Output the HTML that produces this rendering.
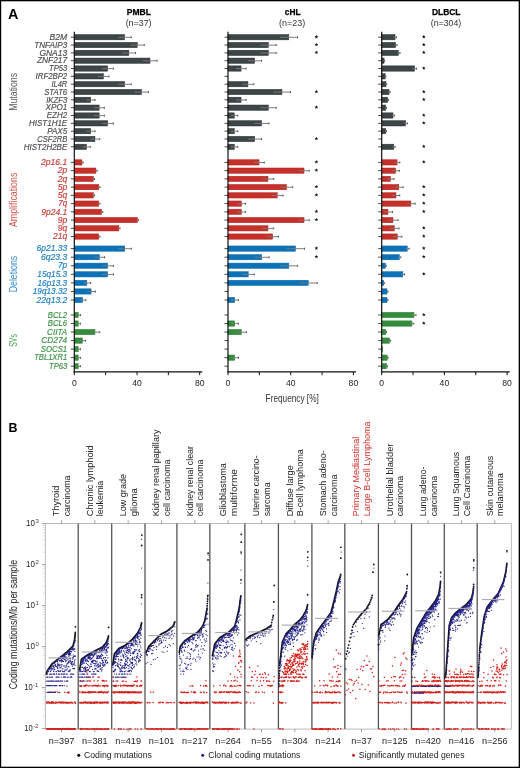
<!DOCTYPE html><html><head><meta charset="utf-8"><style>html,body{margin:0;padding:0;background:#fff;}svg{display:block;will-change:transform}text{font-family:"Liberation Sans", sans-serif;}</style></head><body>
<svg width="520" height="768" viewBox="0 0 520 768">
<rect x="0" y="0" width="520" height="768" fill="#fff"/>
<text x="8" y="18.8" font-size="14.2" fill="#000" font-weight="bold" textLength="10.4" lengthAdjust="spacingAndGlyphs">A</text>
<text x="67.2" y="39.9" font-size="8.3" fill="#4e5052" font-style="italic" text-anchor="end" textLength="17.6" lengthAdjust="spacingAndGlyphs" stroke="#4e5052" stroke-width="0.18">B2M</text>
<text x="67.2" y="47.73" font-size="8.3" fill="#4e5052" font-style="italic" text-anchor="end" textLength="33" lengthAdjust="spacingAndGlyphs" stroke="#4e5052" stroke-width="0.18">TNFAIP3</text>
<text x="67.2" y="55.56" font-size="8.3" fill="#4e5052" font-style="italic" text-anchor="end" textLength="27.8" lengthAdjust="spacingAndGlyphs" stroke="#4e5052" stroke-width="0.18">GNA13</text>
<text x="67.2" y="63.39" font-size="8.3" fill="#4e5052" font-style="italic" text-anchor="end" textLength="30.3" lengthAdjust="spacingAndGlyphs" stroke="#4e5052" stroke-width="0.18">ZNF217</text>
<text x="67.2" y="71.22" font-size="8.3" fill="#4e5052" font-style="italic" text-anchor="end" textLength="18.2" lengthAdjust="spacingAndGlyphs" stroke="#4e5052" stroke-width="0.18">TP53</text>
<text x="67.2" y="79.05" font-size="8.3" fill="#4e5052" font-style="italic" text-anchor="end" textLength="31.6" lengthAdjust="spacingAndGlyphs" stroke="#4e5052" stroke-width="0.18">IRF2BP2</text>
<text x="67.2" y="86.88" font-size="8.3" fill="#4e5052" font-style="italic" text-anchor="end" textLength="15.7" lengthAdjust="spacingAndGlyphs" stroke="#4e5052" stroke-width="0.18">IL4R</text>
<text x="67.2" y="94.71" font-size="8.3" fill="#4e5052" font-style="italic" text-anchor="end" textLength="23" lengthAdjust="spacingAndGlyphs" stroke="#4e5052" stroke-width="0.18">STAT6</text>
<text x="67.2" y="102.54" font-size="8.3" fill="#4e5052" font-style="italic" text-anchor="end" textLength="21" lengthAdjust="spacingAndGlyphs" stroke="#4e5052" stroke-width="0.18">IKZF3</text>
<text x="67.2" y="110.37" font-size="8.3" fill="#4e5052" font-style="italic" text-anchor="end" textLength="21.6" lengthAdjust="spacingAndGlyphs" stroke="#4e5052" stroke-width="0.18">XPO1</text>
<text x="67.2" y="118.2" font-size="8.3" fill="#4e5052" font-style="italic" text-anchor="end" textLength="20.5" lengthAdjust="spacingAndGlyphs" stroke="#4e5052" stroke-width="0.18">EZH2</text>
<text x="67.2" y="126.03" font-size="8.3" fill="#4e5052" font-style="italic" text-anchor="end" textLength="38.2" lengthAdjust="spacingAndGlyphs" stroke="#4e5052" stroke-width="0.18">HIST1H1E</text>
<text x="67.2" y="133.86" font-size="8.3" fill="#4e5052" font-style="italic" text-anchor="end" textLength="20" lengthAdjust="spacingAndGlyphs" stroke="#4e5052" stroke-width="0.18">PAX5</text>
<text x="67.2" y="141.69" font-size="8.3" fill="#4e5052" font-style="italic" text-anchor="end" textLength="29.9" lengthAdjust="spacingAndGlyphs" stroke="#4e5052" stroke-width="0.18">CSF2RB</text>
<text x="67.2" y="149.52" font-size="8.3" fill="#4e5052" font-style="italic" text-anchor="end" textLength="43.4" lengthAdjust="spacingAndGlyphs" stroke="#4e5052" stroke-width="0.18">HIST2H2BE</text>
<text x="67.2" y="165.1" font-size="8.3" fill="#c8403a" font-style="italic" text-anchor="end" textLength="26.2" lengthAdjust="spacingAndGlyphs" stroke="#c8403a" stroke-width="0.18">2p16.1</text>
<text x="67.2" y="173.34" font-size="8.3" fill="#c8403a" font-style="italic" text-anchor="end" textLength="9.5" lengthAdjust="spacingAndGlyphs" stroke="#c8403a" stroke-width="0.18">2p</text>
<text x="67.2" y="181.58" font-size="8.3" fill="#c8403a" font-style="italic" text-anchor="end" textLength="9.5" lengthAdjust="spacingAndGlyphs" stroke="#c8403a" stroke-width="0.18">2q</text>
<text x="67.2" y="189.82" font-size="8.3" fill="#c8403a" font-style="italic" text-anchor="end" textLength="9.5" lengthAdjust="spacingAndGlyphs" stroke="#c8403a" stroke-width="0.18">5p</text>
<text x="67.2" y="198.06" font-size="8.3" fill="#c8403a" font-style="italic" text-anchor="end" textLength="9.5" lengthAdjust="spacingAndGlyphs" stroke="#c8403a" stroke-width="0.18">5q</text>
<text x="67.2" y="206.3" font-size="8.3" fill="#c8403a" font-style="italic" text-anchor="end" textLength="8.9" lengthAdjust="spacingAndGlyphs" stroke="#c8403a" stroke-width="0.18">7q</text>
<text x="67.2" y="214.54" font-size="8.3" fill="#c8403a" font-style="italic" text-anchor="end" textLength="25.9" lengthAdjust="spacingAndGlyphs" stroke="#c8403a" stroke-width="0.18">9p24.1</text>
<text x="67.2" y="222.78" font-size="8.3" fill="#c8403a" font-style="italic" text-anchor="end" textLength="9.5" lengthAdjust="spacingAndGlyphs" stroke="#c8403a" stroke-width="0.18">9p</text>
<text x="67.2" y="231.02" font-size="8.3" fill="#c8403a" font-style="italic" text-anchor="end" textLength="9.5" lengthAdjust="spacingAndGlyphs" stroke="#c8403a" stroke-width="0.18">9q</text>
<text x="67.2" y="239.26" font-size="8.3" fill="#c8403a" font-style="italic" text-anchor="end" textLength="14.3" lengthAdjust="spacingAndGlyphs" stroke="#c8403a" stroke-width="0.18">21q</text>
<text x="67.2" y="251.3" font-size="8.3" fill="#1f7fc4" font-style="italic" text-anchor="end" textLength="30.7" lengthAdjust="spacingAndGlyphs" stroke="#1f7fc4" stroke-width="0.18">6p21.33</text>
<text x="67.2" y="259.87" font-size="8.3" fill="#1f7fc4" font-style="italic" text-anchor="end" textLength="26.2" lengthAdjust="spacingAndGlyphs" stroke="#1f7fc4" stroke-width="0.18">6q23.3</text>
<text x="67.2" y="268.44" font-size="8.3" fill="#1f7fc4" font-style="italic" text-anchor="end" textLength="9.2" lengthAdjust="spacingAndGlyphs" stroke="#1f7fc4" stroke-width="0.18">7p</text>
<text x="67.2" y="277.01" font-size="8.3" fill="#1f7fc4" font-style="italic" text-anchor="end" textLength="29.9" lengthAdjust="spacingAndGlyphs" stroke="#1f7fc4" stroke-width="0.18">15q15.3</text>
<text x="67.2" y="285.58" font-size="8.3" fill="#1f7fc4" font-style="italic" text-anchor="end" textLength="29.7" lengthAdjust="spacingAndGlyphs" stroke="#1f7fc4" stroke-width="0.18">16p13.3</text>
<text x="67.2" y="294.15" font-size="8.3" fill="#1f7fc4" font-style="italic" text-anchor="end" textLength="34.5" lengthAdjust="spacingAndGlyphs" stroke="#1f7fc4" stroke-width="0.18">19q13.32</text>
<text x="67.2" y="302.72" font-size="8.3" fill="#1f7fc4" font-style="italic" text-anchor="end" textLength="30.7" lengthAdjust="spacingAndGlyphs" stroke="#1f7fc4" stroke-width="0.18">22q13.2</text>
<text x="67.2" y="317.7" font-size="8.3" fill="#3f9546" font-style="italic" text-anchor="end" textLength="19.5" lengthAdjust="spacingAndGlyphs" stroke="#3f9546" stroke-width="0.18">BCL2</text>
<text x="67.2" y="326.23" font-size="8.3" fill="#3f9546" font-style="italic" text-anchor="end" textLength="19.5" lengthAdjust="spacingAndGlyphs" stroke="#3f9546" stroke-width="0.18">BCL6</text>
<text x="67.2" y="334.76" font-size="8.3" fill="#3f9546" font-style="italic" text-anchor="end" textLength="20.1" lengthAdjust="spacingAndGlyphs" stroke="#3f9546" stroke-width="0.18">CIITA</text>
<text x="67.2" y="343.29" font-size="8.3" fill="#3f9546" font-style="italic" text-anchor="end" textLength="25.9" lengthAdjust="spacingAndGlyphs" stroke="#3f9546" stroke-width="0.18">CD274</text>
<text x="67.2" y="351.82" font-size="8.3" fill="#3f9546" font-style="italic" text-anchor="end" textLength="26.4" lengthAdjust="spacingAndGlyphs" stroke="#3f9546" stroke-width="0.18">SOCS1</text>
<text x="67.2" y="360.35" font-size="8.3" fill="#3f9546" font-style="italic" text-anchor="end" textLength="33" lengthAdjust="spacingAndGlyphs" stroke="#3f9546" stroke-width="0.18">TBL1XR1</text>
<text x="67.2" y="368.88" font-size="8.3" fill="#3f9546" font-style="italic" text-anchor="end" textLength="18.2" lengthAdjust="spacingAndGlyphs" stroke="#3f9546" stroke-width="0.18">TP63</text>
<text x="0" y="0" transform="translate(17,110.8) rotate(-90)" font-size="10.9" fill="#5a5b5d" textLength="37.9" lengthAdjust="spacingAndGlyphs">Mutations</text>
<text x="0" y="0" transform="translate(17.3,227) rotate(-90)" font-size="10.9" fill="#d0504a" textLength="54.3" lengthAdjust="spacingAndGlyphs">Amplifications</text>
<text x="0" y="0" transform="translate(17.3,292.3) rotate(-90)" font-size="10.9" fill="#3388cc" textLength="36.5" lengthAdjust="spacingAndGlyphs">Deletions</text>
<text x="0" y="0" transform="translate(17.3,346.7) rotate(-90)" font-size="10.9" fill="#45a04c" textLength="12.5" lengthAdjust="spacingAndGlyphs">SVs</text>
<rect x="74.3" y="34.55" width="50.29" height="5.3" fill="#3d4547" stroke="#2b3133" stroke-width="0.5"/>
<line x1="117.97" y1="37.3" x2="124.59" y2="37.3" stroke="#7a7d7e" stroke-width="0.9"/>
<line x1="124.59" y1="37.3" x2="131.21" y2="37.3" stroke="#6d6e71" stroke-width="0.9"/>
<line x1="131.21" y1="36.3" x2="131.21" y2="38.3" stroke="#555" stroke-width="1"/>
<rect x="74.3" y="42.38" width="63" height="5.3" fill="#3d4547" stroke="#2b3133" stroke-width="0.5"/>
<line x1="130.35" y1="45.13" x2="137.3" y2="45.13" stroke="#7a7d7e" stroke-width="0.9"/>
<line x1="137.3" y1="45.13" x2="144.25" y2="45.13" stroke="#6d6e71" stroke-width="0.9"/>
<line x1="144.25" y1="44.13" x2="144.25" y2="46.13" stroke="#555" stroke-width="1"/>
<rect x="74.3" y="50.21" width="54.53" height="5.3" fill="#3d4547" stroke="#2b3133" stroke-width="0.5"/>
<line x1="122.08" y1="52.96" x2="128.83" y2="52.96" stroke="#7a7d7e" stroke-width="0.9"/>
<line x1="128.83" y1="52.96" x2="135.58" y2="52.96" stroke="#6d6e71" stroke-width="0.9"/>
<line x1="135.58" y1="51.96" x2="135.58" y2="53.96" stroke="#555" stroke-width="1"/>
<rect x="74.3" y="58.04" width="75.71" height="5.3" fill="#3d4547" stroke="#2b3133" stroke-width="0.5"/>
<line x1="142.93" y1="60.79" x2="150.01" y2="60.79" stroke="#7a7d7e" stroke-width="0.9"/>
<line x1="150.01" y1="60.79" x2="157.09" y2="60.79" stroke="#6d6e71" stroke-width="0.9"/>
<line x1="157.09" y1="59.79" x2="157.09" y2="61.79" stroke="#555" stroke-width="1"/>
<rect x="74.3" y="65.87" width="33.34" height="5.3" fill="#3d4547" stroke="#2b3133" stroke-width="0.5"/>
<line x1="101.84" y1="68.62" x2="107.64" y2="68.62" stroke="#7a7d7e" stroke-width="0.9"/>
<line x1="107.64" y1="68.62" x2="113.44" y2="68.62" stroke="#6d6e71" stroke-width="0.9"/>
<line x1="113.44" y1="67.62" x2="113.44" y2="69.62" stroke="#555" stroke-width="1"/>
<rect x="74.3" y="73.7" width="29.11" height="5.3" fill="#3d4547" stroke="#2b3133" stroke-width="0.5"/>
<line x1="97.9" y1="76.45" x2="103.41" y2="76.45" stroke="#7a7d7e" stroke-width="0.9"/>
<line x1="103.41" y1="76.45" x2="108.92" y2="76.45" stroke="#6d6e71" stroke-width="0.9"/>
<line x1="108.92" y1="75.45" x2="108.92" y2="77.45" stroke="#555" stroke-width="1"/>
<rect x="74.3" y="81.53" width="50.29" height="5.3" fill="#3d4547" stroke="#2b3133" stroke-width="0.5"/>
<line x1="117.97" y1="84.28" x2="124.59" y2="84.28" stroke="#7a7d7e" stroke-width="0.9"/>
<line x1="124.59" y1="84.28" x2="131.21" y2="84.28" stroke="#6d6e71" stroke-width="0.9"/>
<line x1="131.21" y1="83.28" x2="131.21" y2="85.28" stroke="#555" stroke-width="1"/>
<rect x="74.3" y="89.36" width="67.24" height="5.3" fill="#3d4547" stroke="#2b3133" stroke-width="0.5"/>
<line x1="134.52" y1="92.11" x2="141.54" y2="92.11" stroke="#7a7d7e" stroke-width="0.9"/>
<line x1="141.54" y1="92.11" x2="148.55" y2="92.11" stroke="#6d6e71" stroke-width="0.9"/>
<line x1="148.55" y1="91.11" x2="148.55" y2="93.11" stroke="#555" stroke-width="1"/>
<rect x="74.3" y="97.19" width="16.4" height="5.3" fill="#3d4547" stroke="#2b3133" stroke-width="0.5"/>
<line x1="86.36" y1="99.94" x2="90.7" y2="99.94" stroke="#7a7d7e" stroke-width="0.9"/>
<line x1="90.7" y1="99.94" x2="95.04" y2="99.94" stroke="#6d6e71" stroke-width="0.9"/>
<line x1="95.04" y1="98.94" x2="95.04" y2="100.94" stroke="#555" stroke-width="1"/>
<rect x="74.3" y="105.02" width="24.87" height="5.3" fill="#3d4547" stroke="#2b3133" stroke-width="0.5"/>
<line x1="93.99" y1="107.77" x2="99.17" y2="107.77" stroke="#7a7d7e" stroke-width="0.9"/>
<line x1="99.17" y1="107.77" x2="104.35" y2="107.77" stroke="#6d6e71" stroke-width="0.9"/>
<line x1="104.35" y1="106.77" x2="104.35" y2="108.77" stroke="#555" stroke-width="1"/>
<rect x="74.3" y="112.85" width="24.87" height="5.3" fill="#3d4547" stroke="#2b3133" stroke-width="0.5"/>
<line x1="93.99" y1="115.6" x2="99.17" y2="115.6" stroke="#7a7d7e" stroke-width="0.9"/>
<line x1="99.17" y1="115.6" x2="104.35" y2="115.6" stroke="#6d6e71" stroke-width="0.9"/>
<line x1="104.35" y1="114.6" x2="104.35" y2="116.6" stroke="#555" stroke-width="1"/>
<rect x="74.3" y="120.68" width="33.34" height="5.3" fill="#3d4547" stroke="#2b3133" stroke-width="0.5"/>
<line x1="101.84" y1="123.43" x2="107.64" y2="123.43" stroke="#7a7d7e" stroke-width="0.9"/>
<line x1="107.64" y1="123.43" x2="113.44" y2="123.43" stroke="#6d6e71" stroke-width="0.9"/>
<line x1="113.44" y1="122.43" x2="113.44" y2="124.43" stroke="#555" stroke-width="1"/>
<rect x="74.3" y="128.51" width="16.4" height="5.3" fill="#3d4547" stroke="#2b3133" stroke-width="0.5"/>
<line x1="86.36" y1="131.26" x2="90.7" y2="131.26" stroke="#7a7d7e" stroke-width="0.9"/>
<line x1="90.7" y1="131.26" x2="95.04" y2="131.26" stroke="#6d6e71" stroke-width="0.9"/>
<line x1="95.04" y1="130.26" x2="95.04" y2="132.26" stroke="#555" stroke-width="1"/>
<rect x="74.3" y="136.34" width="20.63" height="5.3" fill="#3d4547" stroke="#2b3133" stroke-width="0.5"/>
<line x1="90.14" y1="139.09" x2="94.93" y2="139.09" stroke="#7a7d7e" stroke-width="0.9"/>
<line x1="94.93" y1="139.09" x2="99.73" y2="139.09" stroke="#6d6e71" stroke-width="0.9"/>
<line x1="99.73" y1="138.09" x2="99.73" y2="140.09" stroke="#555" stroke-width="1"/>
<rect x="74.3" y="144.17" width="12.16" height="5.3" fill="#3d4547" stroke="#2b3133" stroke-width="0.5"/>
<line x1="82.67" y1="146.92" x2="86.46" y2="146.92" stroke="#7a7d7e" stroke-width="0.9"/>
<line x1="86.46" y1="146.92" x2="90.25" y2="146.92" stroke="#6d6e71" stroke-width="0.9"/>
<line x1="90.25" y1="145.92" x2="90.25" y2="147.92" stroke="#555" stroke-width="1"/>
<rect x="74.3" y="159.75" width="7.68" height="5.3" fill="#c4302a" stroke="#bf1e16" stroke-width="0.5"/>
<line x1="80.78" y1="162.5" x2="81.98" y2="162.5" stroke="#7a7d7e" stroke-width="0.9"/>
<line x1="81.98" y1="162.5" x2="83.18" y2="162.5" stroke="#6d6e71" stroke-width="0.9"/>
<line x1="83.18" y1="161.5" x2="83.18" y2="163.5" stroke="#555" stroke-width="1"/>
<rect x="74.3" y="167.99" width="21.63" height="5.3" fill="#c4302a" stroke="#bf1e16" stroke-width="0.5"/>
<line x1="94.73" y1="170.74" x2="95.93" y2="170.74" stroke="#7a7d7e" stroke-width="0.9"/>
<line x1="95.93" y1="170.74" x2="97.13" y2="170.74" stroke="#6d6e71" stroke-width="0.9"/>
<line x1="97.13" y1="169.74" x2="97.13" y2="171.74" stroke="#555" stroke-width="1"/>
<rect x="74.3" y="176.23" width="18.97" height="5.3" fill="#c4302a" stroke="#bf1e16" stroke-width="0.5"/>
<line x1="92.07" y1="178.98" x2="93.27" y2="178.98" stroke="#7a7d7e" stroke-width="0.9"/>
<line x1="93.27" y1="178.98" x2="94.47" y2="178.98" stroke="#6d6e71" stroke-width="0.9"/>
<line x1="94.47" y1="177.98" x2="94.47" y2="179.98" stroke="#555" stroke-width="1"/>
<rect x="74.3" y="184.47" width="24.45" height="5.3" fill="#c4302a" stroke="#bf1e16" stroke-width="0.5"/>
<line x1="97.55" y1="187.22" x2="98.75" y2="187.22" stroke="#7a7d7e" stroke-width="0.9"/>
<line x1="98.75" y1="187.22" x2="99.95" y2="187.22" stroke="#6d6e71" stroke-width="0.9"/>
<line x1="99.95" y1="186.22" x2="99.95" y2="188.22" stroke="#555" stroke-width="1"/>
<rect x="74.3" y="192.71" width="18.97" height="5.3" fill="#c4302a" stroke="#bf1e16" stroke-width="0.5"/>
<line x1="92.07" y1="195.46" x2="93.27" y2="195.46" stroke="#7a7d7e" stroke-width="0.9"/>
<line x1="93.27" y1="195.46" x2="94.47" y2="195.46" stroke="#6d6e71" stroke-width="0.9"/>
<line x1="94.47" y1="194.46" x2="94.47" y2="196.46" stroke="#555" stroke-width="1"/>
<rect x="74.3" y="200.95" width="24.45" height="5.3" fill="#c4302a" stroke="#bf1e16" stroke-width="0.5"/>
<line x1="97.55" y1="203.7" x2="98.75" y2="203.7" stroke="#7a7d7e" stroke-width="0.9"/>
<line x1="98.75" y1="203.7" x2="99.95" y2="203.7" stroke="#6d6e71" stroke-width="0.9"/>
<line x1="99.95" y1="202.7" x2="99.95" y2="204.7" stroke="#555" stroke-width="1"/>
<rect x="74.3" y="209.19" width="27.27" height="5.3" fill="#c4302a" stroke="#bf1e16" stroke-width="0.5"/>
<line x1="100.37" y1="211.94" x2="101.57" y2="211.94" stroke="#7a7d7e" stroke-width="0.9"/>
<line x1="101.57" y1="211.94" x2="102.77" y2="211.94" stroke="#6d6e71" stroke-width="0.9"/>
<line x1="102.77" y1="210.94" x2="102.77" y2="212.94" stroke="#555" stroke-width="1"/>
<rect x="74.3" y="217.43" width="63.17" height="5.3" fill="#c4302a" stroke="#bf1e16" stroke-width="0.5"/>
<line x1="136.27" y1="220.18" x2="137.47" y2="220.18" stroke="#7a7d7e" stroke-width="0.9"/>
<line x1="137.47" y1="220.18" x2="138.67" y2="220.18" stroke="#6d6e71" stroke-width="0.9"/>
<line x1="138.67" y1="219.18" x2="138.67" y2="221.18" stroke="#555" stroke-width="1"/>
<rect x="74.3" y="225.67" width="44.52" height="5.3" fill="#c4302a" stroke="#bf1e16" stroke-width="0.5"/>
<line x1="117.62" y1="228.42" x2="118.82" y2="228.42" stroke="#7a7d7e" stroke-width="0.9"/>
<line x1="118.82" y1="228.42" x2="120.02" y2="228.42" stroke="#6d6e71" stroke-width="0.9"/>
<line x1="120.02" y1="227.42" x2="120.02" y2="229.42" stroke="#555" stroke-width="1"/>
<rect x="74.3" y="233.91" width="24.45" height="5.3" fill="#c4302a" stroke="#bf1e16" stroke-width="0.5"/>
<line x1="97.55" y1="236.66" x2="98.75" y2="236.66" stroke="#7a7d7e" stroke-width="0.9"/>
<line x1="98.75" y1="236.66" x2="99.95" y2="236.66" stroke="#6d6e71" stroke-width="0.9"/>
<line x1="99.95" y1="235.66" x2="99.95" y2="237.66" stroke="#555" stroke-width="1"/>
<rect x="74.3" y="245.95" width="50.47" height="5.3" fill="#0b72b8" stroke="#0a6ab0" stroke-width="0.5"/>
<line x1="118.15" y1="248.7" x2="124.77" y2="248.7" stroke="#7a7d7e" stroke-width="0.9"/>
<line x1="124.77" y1="248.7" x2="131.4" y2="248.7" stroke="#6d6e71" stroke-width="0.9"/>
<line x1="131.4" y1="247.7" x2="131.4" y2="249.7" stroke="#555" stroke-width="1"/>
<rect x="74.3" y="254.52" width="25.08" height="5.3" fill="#0b72b8" stroke="#0a6ab0" stroke-width="0.5"/>
<line x1="94.18" y1="257.27" x2="99.38" y2="257.27" stroke="#7a7d7e" stroke-width="0.9"/>
<line x1="99.38" y1="257.27" x2="104.58" y2="257.27" stroke="#6d6e71" stroke-width="0.9"/>
<line x1="104.58" y1="256.27" x2="104.58" y2="258.27" stroke="#555" stroke-width="1"/>
<rect x="74.3" y="263.09" width="33.39" height="5.3" fill="#0b72b8" stroke="#0a6ab0" stroke-width="0.5"/>
<line x1="101.88" y1="265.84" x2="107.69" y2="265.84" stroke="#7a7d7e" stroke-width="0.9"/>
<line x1="107.69" y1="265.84" x2="113.49" y2="265.84" stroke="#6d6e71" stroke-width="0.9"/>
<line x1="113.49" y1="264.84" x2="113.49" y2="266.84" stroke="#555" stroke-width="1"/>
<rect x="74.3" y="271.66" width="33.39" height="5.3" fill="#0b72b8" stroke="#0a6ab0" stroke-width="0.5"/>
<line x1="101.88" y1="274.41" x2="107.69" y2="274.41" stroke="#7a7d7e" stroke-width="0.9"/>
<line x1="107.69" y1="274.41" x2="113.49" y2="274.41" stroke="#6d6e71" stroke-width="0.9"/>
<line x1="113.49" y1="273.41" x2="113.49" y2="275.41" stroke="#555" stroke-width="1"/>
<rect x="74.3" y="280.23" width="12.54" height="5.3" fill="#0b72b8" stroke="#0a6ab0" stroke-width="0.5"/>
<line x1="82.99" y1="282.98" x2="86.84" y2="282.98" stroke="#7a7d7e" stroke-width="0.9"/>
<line x1="86.84" y1="282.98" x2="90.69" y2="282.98" stroke="#6d6e71" stroke-width="0.9"/>
<line x1="90.69" y1="281.98" x2="90.69" y2="283.98" stroke="#555" stroke-width="1"/>
<rect x="74.3" y="288.8" width="16.77" height="5.3" fill="#0b72b8" stroke="#0a6ab0" stroke-width="0.5"/>
<line x1="86.69" y1="291.55" x2="91.07" y2="291.55" stroke="#7a7d7e" stroke-width="0.9"/>
<line x1="91.07" y1="291.55" x2="95.45" y2="291.55" stroke="#6d6e71" stroke-width="0.9"/>
<line x1="95.45" y1="290.55" x2="95.45" y2="292.55" stroke="#555" stroke-width="1"/>
<rect x="74.3" y="297.37" width="8.31" height="5.3" fill="#0b72b8" stroke="#0a6ab0" stroke-width="0.5"/>
<line x1="79.43" y1="300.12" x2="82.61" y2="300.12" stroke="#7a7d7e" stroke-width="0.9"/>
<line x1="82.61" y1="300.12" x2="85.78" y2="300.12" stroke="#6d6e71" stroke-width="0.9"/>
<line x1="85.78" y1="299.12" x2="85.78" y2="301.12" stroke="#555" stroke-width="1"/>
<rect x="74.3" y="312.35" width="3.92" height="5.3" fill="#338d3b" stroke="#2a8033" stroke-width="0.5"/>
<line x1="76.01" y1="315.1" x2="78.22" y2="315.1" stroke="#7a7d7e" stroke-width="0.9"/>
<line x1="78.22" y1="315.1" x2="80.43" y2="315.1" stroke="#6d6e71" stroke-width="0.9"/>
<line x1="80.43" y1="314.1" x2="80.43" y2="316.1" stroke="#555" stroke-width="1"/>
<rect x="74.3" y="320.88" width="3.92" height="5.3" fill="#338d3b" stroke="#2a8033" stroke-width="0.5"/>
<line x1="76.01" y1="323.63" x2="78.22" y2="323.63" stroke="#7a7d7e" stroke-width="0.9"/>
<line x1="78.22" y1="323.63" x2="80.43" y2="323.63" stroke="#6d6e71" stroke-width="0.9"/>
<line x1="80.43" y1="322.63" x2="80.43" y2="324.63" stroke="#555" stroke-width="1"/>
<rect x="74.3" y="329.41" width="20.69" height="5.3" fill="#338d3b" stroke="#2a8033" stroke-width="0.5"/>
<line x1="90.19" y1="332.16" x2="94.99" y2="332.16" stroke="#7a7d7e" stroke-width="0.9"/>
<line x1="94.99" y1="332.16" x2="99.79" y2="332.16" stroke="#6d6e71" stroke-width="0.9"/>
<line x1="99.79" y1="331.16" x2="99.79" y2="333.16" stroke="#555" stroke-width="1"/>
<rect x="74.3" y="337.94" width="8.15" height="5.3" fill="#338d3b" stroke="#2a8033" stroke-width="0.5"/>
<line x1="79.3" y1="340.69" x2="82.45" y2="340.69" stroke="#7a7d7e" stroke-width="0.9"/>
<line x1="82.45" y1="340.69" x2="85.6" y2="340.69" stroke="#6d6e71" stroke-width="0.9"/>
<line x1="85.6" y1="339.69" x2="85.6" y2="341.69" stroke="#555" stroke-width="1"/>
<rect x="74.3" y="346.47" width="3.92" height="5.3" fill="#338d3b" stroke="#2a8033" stroke-width="0.5"/>
<line x1="76.01" y1="349.22" x2="78.22" y2="349.22" stroke="#7a7d7e" stroke-width="0.9"/>
<line x1="78.22" y1="349.22" x2="80.43" y2="349.22" stroke="#6d6e71" stroke-width="0.9"/>
<line x1="80.43" y1="348.22" x2="80.43" y2="350.22" stroke="#555" stroke-width="1"/>
<rect x="74.3" y="355" width="3.92" height="5.3" fill="#338d3b" stroke="#2a8033" stroke-width="0.5"/>
<line x1="76.01" y1="357.75" x2="78.22" y2="357.75" stroke="#7a7d7e" stroke-width="0.9"/>
<line x1="78.22" y1="357.75" x2="80.43" y2="357.75" stroke="#6d6e71" stroke-width="0.9"/>
<line x1="80.43" y1="356.75" x2="80.43" y2="358.75" stroke="#555" stroke-width="1"/>
<rect x="74.3" y="363.53" width="3.92" height="5.3" fill="#338d3b" stroke="#2a8033" stroke-width="0.5"/>
<line x1="76.01" y1="366.28" x2="78.22" y2="366.28" stroke="#7a7d7e" stroke-width="0.9"/>
<line x1="78.22" y1="366.28" x2="80.43" y2="366.28" stroke="#6d6e71" stroke-width="0.9"/>
<line x1="80.43" y1="365.28" x2="80.43" y2="367.28" stroke="#555" stroke-width="1"/>
<line x1="70.8" y1="37.2" x2="74.3" y2="37.2" stroke="#333" stroke-width="0.9"/>
<line x1="70.8" y1="45.03" x2="74.3" y2="45.03" stroke="#333" stroke-width="0.9"/>
<line x1="70.8" y1="52.86" x2="74.3" y2="52.86" stroke="#333" stroke-width="0.9"/>
<line x1="70.8" y1="60.69" x2="74.3" y2="60.69" stroke="#333" stroke-width="0.9"/>
<line x1="70.8" y1="68.52" x2="74.3" y2="68.52" stroke="#333" stroke-width="0.9"/>
<line x1="70.8" y1="76.35" x2="74.3" y2="76.35" stroke="#333" stroke-width="0.9"/>
<line x1="70.8" y1="84.18" x2="74.3" y2="84.18" stroke="#333" stroke-width="0.9"/>
<line x1="70.8" y1="92.01" x2="74.3" y2="92.01" stroke="#333" stroke-width="0.9"/>
<line x1="70.8" y1="99.84" x2="74.3" y2="99.84" stroke="#333" stroke-width="0.9"/>
<line x1="70.8" y1="107.67" x2="74.3" y2="107.67" stroke="#333" stroke-width="0.9"/>
<line x1="70.8" y1="115.5" x2="74.3" y2="115.5" stroke="#333" stroke-width="0.9"/>
<line x1="70.8" y1="123.33" x2="74.3" y2="123.33" stroke="#333" stroke-width="0.9"/>
<line x1="70.8" y1="131.16" x2="74.3" y2="131.16" stroke="#333" stroke-width="0.9"/>
<line x1="70.8" y1="138.99" x2="74.3" y2="138.99" stroke="#333" stroke-width="0.9"/>
<line x1="70.8" y1="146.82" x2="74.3" y2="146.82" stroke="#333" stroke-width="0.9"/>
<line x1="70.8" y1="162.4" x2="74.3" y2="162.4" stroke="#333" stroke-width="0.9"/>
<line x1="70.8" y1="170.64" x2="74.3" y2="170.64" stroke="#333" stroke-width="0.9"/>
<line x1="70.8" y1="178.88" x2="74.3" y2="178.88" stroke="#333" stroke-width="0.9"/>
<line x1="70.8" y1="187.12" x2="74.3" y2="187.12" stroke="#333" stroke-width="0.9"/>
<line x1="70.8" y1="195.36" x2="74.3" y2="195.36" stroke="#333" stroke-width="0.9"/>
<line x1="70.8" y1="203.6" x2="74.3" y2="203.6" stroke="#333" stroke-width="0.9"/>
<line x1="70.8" y1="211.84" x2="74.3" y2="211.84" stroke="#333" stroke-width="0.9"/>
<line x1="70.8" y1="220.08" x2="74.3" y2="220.08" stroke="#333" stroke-width="0.9"/>
<line x1="70.8" y1="228.32" x2="74.3" y2="228.32" stroke="#333" stroke-width="0.9"/>
<line x1="70.8" y1="236.56" x2="74.3" y2="236.56" stroke="#333" stroke-width="0.9"/>
<line x1="70.8" y1="248.6" x2="74.3" y2="248.6" stroke="#333" stroke-width="0.9"/>
<line x1="70.8" y1="257.17" x2="74.3" y2="257.17" stroke="#333" stroke-width="0.9"/>
<line x1="70.8" y1="265.74" x2="74.3" y2="265.74" stroke="#333" stroke-width="0.9"/>
<line x1="70.8" y1="274.31" x2="74.3" y2="274.31" stroke="#333" stroke-width="0.9"/>
<line x1="70.8" y1="282.88" x2="74.3" y2="282.88" stroke="#333" stroke-width="0.9"/>
<line x1="70.8" y1="291.45" x2="74.3" y2="291.45" stroke="#333" stroke-width="0.9"/>
<line x1="70.8" y1="300.02" x2="74.3" y2="300.02" stroke="#333" stroke-width="0.9"/>
<line x1="70.8" y1="315" x2="74.3" y2="315" stroke="#333" stroke-width="0.9"/>
<line x1="70.8" y1="323.53" x2="74.3" y2="323.53" stroke="#333" stroke-width="0.9"/>
<line x1="70.8" y1="332.06" x2="74.3" y2="332.06" stroke="#333" stroke-width="0.9"/>
<line x1="70.8" y1="340.59" x2="74.3" y2="340.59" stroke="#333" stroke-width="0.9"/>
<line x1="70.8" y1="349.12" x2="74.3" y2="349.12" stroke="#333" stroke-width="0.9"/>
<line x1="70.8" y1="357.65" x2="74.3" y2="357.65" stroke="#333" stroke-width="0.9"/>
<line x1="70.8" y1="366.18" x2="74.3" y2="366.18" stroke="#333" stroke-width="0.9"/>
<line x1="74.3" y1="31.8" x2="74.3" y2="372.5" stroke="#111" stroke-width="1.2"/>
<line x1="73.7" y1="371.9" x2="202.3" y2="371.9" stroke="#111" stroke-width="1.2"/>
<line x1="74.3" y1="371.9" x2="74.3" y2="375.2" stroke="#111" stroke-width="1"/>
<line x1="105.65" y1="371.9" x2="105.65" y2="375.2" stroke="#111" stroke-width="1"/>
<line x1="137" y1="371.9" x2="137" y2="375.2" stroke="#111" stroke-width="1"/>
<line x1="168.35" y1="371.9" x2="168.35" y2="375.2" stroke="#111" stroke-width="1"/>
<line x1="199.7" y1="371.9" x2="199.7" y2="375.2" stroke="#111" stroke-width="1"/>
<text x="74.3" y="386.3" font-size="8.6" fill="#222" text-anchor="middle">0</text>
<text x="137" y="386.3" font-size="8.6" fill="#222" text-anchor="middle">40</text>
<text x="199.7" y="386.3" font-size="8.6" fill="#222" text-anchor="middle">80</text>
<rect x="228" y="34.55" width="60.79" height="5.3" fill="#3d4547" stroke="#2b3133" stroke-width="0.5"/>
<line x1="280.03" y1="37.3" x2="288.79" y2="37.3" stroke="#7a7d7e" stroke-width="0.9"/>
<line x1="288.79" y1="37.3" x2="297.55" y2="37.3" stroke="#6d6e71" stroke-width="0.9"/>
<line x1="297.55" y1="36.3" x2="297.55" y2="38.3" stroke="#555" stroke-width="1"/>
<polygon points="316.40,34.85 316.90,36.11 318.25,36.20 317.21,37.06 317.55,38.38 316.40,37.65 315.25,38.38 315.59,37.06 314.55,36.20 315.90,36.11" fill="#111"/>
<rect x="228" y="42.38" width="40.34" height="5.3" fill="#3d4547" stroke="#2b3133" stroke-width="0.5"/>
<line x1="260.48" y1="45.13" x2="268.34" y2="45.13" stroke="#7a7d7e" stroke-width="0.9"/>
<line x1="268.34" y1="45.13" x2="276.2" y2="45.13" stroke="#6d6e71" stroke-width="0.9"/>
<line x1="276.2" y1="44.13" x2="276.2" y2="46.13" stroke="#555" stroke-width="1"/>
<polygon points="316.40,42.68 316.90,43.94 318.25,44.03 317.21,44.89 317.55,46.21 316.40,45.48 315.25,46.21 315.59,44.89 314.55,44.03 315.90,43.94" fill="#111"/>
<rect x="228" y="50.21" width="40.34" height="5.3" fill="#3d4547" stroke="#2b3133" stroke-width="0.5"/>
<line x1="260.48" y1="52.96" x2="268.34" y2="52.96" stroke="#7a7d7e" stroke-width="0.9"/>
<line x1="268.34" y1="52.96" x2="276.2" y2="52.96" stroke="#6d6e71" stroke-width="0.9"/>
<line x1="276.2" y1="51.96" x2="276.2" y2="53.96" stroke="#555" stroke-width="1"/>
<polygon points="316.40,50.51 316.90,51.77 318.25,51.86 317.21,52.72 317.55,54.04 316.40,53.31 315.25,54.04 315.59,52.72 314.55,51.86 315.90,51.77" fill="#111"/>
<rect x="228" y="58.04" width="26.71" height="5.3" fill="#3d4547" stroke="#2b3133" stroke-width="0.5"/>
<line x1="247.95" y1="60.79" x2="254.71" y2="60.79" stroke="#7a7d7e" stroke-width="0.9"/>
<line x1="254.71" y1="60.79" x2="261.47" y2="60.79" stroke="#6d6e71" stroke-width="0.9"/>
<line x1="261.47" y1="59.79" x2="261.47" y2="61.79" stroke="#555" stroke-width="1"/>
<rect x="228" y="65.87" width="13.08" height="5.3" fill="#3d4547" stroke="#2b3133" stroke-width="0.5"/>
<line x1="236.11" y1="68.62" x2="241.08" y2="68.62" stroke="#7a7d7e" stroke-width="0.9"/>
<line x1="241.08" y1="68.62" x2="246.05" y2="68.62" stroke="#6d6e71" stroke-width="0.9"/>
<line x1="246.05" y1="67.62" x2="246.05" y2="69.62" stroke="#555" stroke-width="1"/>
<rect x="228" y="81.53" width="19.9" height="5.3" fill="#3d4547" stroke="#2b3133" stroke-width="0.5"/>
<line x1="241.91" y1="84.28" x2="247.9" y2="84.28" stroke="#7a7d7e" stroke-width="0.9"/>
<line x1="247.9" y1="84.28" x2="253.88" y2="84.28" stroke="#6d6e71" stroke-width="0.9"/>
<line x1="253.88" y1="83.28" x2="253.88" y2="85.28" stroke="#555" stroke-width="1"/>
<rect x="228" y="89.36" width="53.97" height="5.3" fill="#3d4547" stroke="#2b3133" stroke-width="0.5"/>
<line x1="273.43" y1="92.11" x2="281.97" y2="92.11" stroke="#7a7d7e" stroke-width="0.9"/>
<line x1="281.97" y1="92.11" x2="290.51" y2="92.11" stroke="#6d6e71" stroke-width="0.9"/>
<line x1="290.51" y1="91.11" x2="290.51" y2="93.11" stroke="#555" stroke-width="1"/>
<polygon points="316.40,89.66 316.90,90.92 318.25,91.01 317.21,91.87 317.55,93.19 316.40,92.46 315.25,93.19 315.59,91.87 314.55,91.01 315.90,90.92" fill="#111"/>
<rect x="228" y="97.19" width="13.08" height="5.3" fill="#3d4547" stroke="#2b3133" stroke-width="0.5"/>
<line x1="236.11" y1="99.94" x2="241.08" y2="99.94" stroke="#7a7d7e" stroke-width="0.9"/>
<line x1="241.08" y1="99.94" x2="246.05" y2="99.94" stroke="#6d6e71" stroke-width="0.9"/>
<line x1="246.05" y1="98.94" x2="246.05" y2="100.94" stroke="#555" stroke-width="1"/>
<rect x="228" y="105.02" width="40.34" height="5.3" fill="#3d4547" stroke="#2b3133" stroke-width="0.5"/>
<line x1="260.48" y1="107.77" x2="268.34" y2="107.77" stroke="#7a7d7e" stroke-width="0.9"/>
<line x1="268.34" y1="107.77" x2="276.2" y2="107.77" stroke="#6d6e71" stroke-width="0.9"/>
<line x1="276.2" y1="106.77" x2="276.2" y2="108.77" stroke="#555" stroke-width="1"/>
<polygon points="316.40,105.32 316.90,106.58 318.25,106.67 317.21,107.53 317.55,108.85 316.40,108.12 315.25,108.85 315.59,107.53 314.55,106.67 315.90,106.58" fill="#111"/>
<rect x="228" y="112.85" width="6.27" height="5.3" fill="#3d4547" stroke="#2b3133" stroke-width="0.5"/>
<line x1="230.74" y1="115.6" x2="234.27" y2="115.6" stroke="#7a7d7e" stroke-width="0.9"/>
<line x1="234.27" y1="115.6" x2="237.79" y2="115.6" stroke="#6d6e71" stroke-width="0.9"/>
<line x1="237.79" y1="114.6" x2="237.79" y2="116.6" stroke="#555" stroke-width="1"/>
<rect x="228" y="120.68" width="33.53" height="5.3" fill="#3d4547" stroke="#2b3133" stroke-width="0.5"/>
<line x1="254.16" y1="123.43" x2="261.53" y2="123.43" stroke="#7a7d7e" stroke-width="0.9"/>
<line x1="261.53" y1="123.43" x2="268.9" y2="123.43" stroke="#6d6e71" stroke-width="0.9"/>
<line x1="268.9" y1="122.43" x2="268.9" y2="124.43" stroke="#555" stroke-width="1"/>
<rect x="228" y="128.51" width="6.27" height="5.3" fill="#3d4547" stroke="#2b3133" stroke-width="0.5"/>
<line x1="230.74" y1="131.26" x2="234.27" y2="131.26" stroke="#7a7d7e" stroke-width="0.9"/>
<line x1="234.27" y1="131.26" x2="237.79" y2="131.26" stroke="#6d6e71" stroke-width="0.9"/>
<line x1="237.79" y1="130.26" x2="237.79" y2="132.26" stroke="#555" stroke-width="1"/>
<rect x="228" y="136.34" width="26.71" height="5.3" fill="#3d4547" stroke="#2b3133" stroke-width="0.5"/>
<line x1="247.95" y1="139.09" x2="254.71" y2="139.09" stroke="#7a7d7e" stroke-width="0.9"/>
<line x1="254.71" y1="139.09" x2="261.47" y2="139.09" stroke="#6d6e71" stroke-width="0.9"/>
<line x1="261.47" y1="138.09" x2="261.47" y2="140.09" stroke="#555" stroke-width="1"/>
<polygon points="316.40,136.64 316.90,137.90 318.25,137.99 317.21,138.85 317.55,140.17 316.40,139.44 315.25,140.17 315.59,138.85 314.55,137.99 315.90,137.90" fill="#111"/>
<rect x="228" y="144.17" width="6.27" height="5.3" fill="#3d4547" stroke="#2b3133" stroke-width="0.5"/>
<line x1="230.74" y1="146.92" x2="234.27" y2="146.92" stroke="#7a7d7e" stroke-width="0.9"/>
<line x1="234.27" y1="146.92" x2="237.79" y2="146.92" stroke="#6d6e71" stroke-width="0.9"/>
<line x1="237.79" y1="145.92" x2="237.79" y2="147.92" stroke="#555" stroke-width="1"/>
<rect x="228" y="159.75" width="31.04" height="5.3" fill="#c4302a" stroke="#bf1e16" stroke-width="0.5"/>
<line x1="253.79" y1="162.5" x2="259.04" y2="162.5" stroke="#7a7d7e" stroke-width="0.9"/>
<line x1="259.04" y1="162.5" x2="264.29" y2="162.5" stroke="#6d6e71" stroke-width="0.9"/>
<line x1="264.29" y1="161.5" x2="264.29" y2="163.5" stroke="#555" stroke-width="1"/>
<polygon points="316.40,160.05 316.90,161.31 318.25,161.40 317.21,162.26 317.55,163.58 316.40,162.85 315.25,163.58 315.59,162.26 314.55,161.40 315.90,161.31" fill="#111"/>
<rect x="228" y="167.99" width="76.02" height="5.3" fill="#c4302a" stroke="#bf1e16" stroke-width="0.5"/>
<line x1="298.77" y1="170.74" x2="304.02" y2="170.74" stroke="#7a7d7e" stroke-width="0.9"/>
<line x1="304.02" y1="170.74" x2="309.27" y2="170.74" stroke="#6d6e71" stroke-width="0.9"/>
<line x1="309.27" y1="169.74" x2="309.27" y2="171.74" stroke="#555" stroke-width="1"/>
<polygon points="316.40,168.29 316.90,169.55 318.25,169.64 317.21,170.50 317.55,171.82 316.40,171.09 315.25,171.82 315.59,170.50 314.55,169.64 315.90,169.55" fill="#111"/>
<rect x="228" y="176.23" width="39.97" height="5.3" fill="#c4302a" stroke="#bf1e16" stroke-width="0.5"/>
<line x1="262.22" y1="178.98" x2="267.97" y2="178.98" stroke="#7a7d7e" stroke-width="0.9"/>
<line x1="267.97" y1="178.98" x2="273.72" y2="178.98" stroke="#6d6e71" stroke-width="0.9"/>
<line x1="273.72" y1="177.98" x2="273.72" y2="179.98" stroke="#555" stroke-width="1"/>
<rect x="228" y="184.47" width="58.47" height="5.3" fill="#c4302a" stroke="#bf1e16" stroke-width="0.5"/>
<line x1="280.22" y1="187.22" x2="286.47" y2="187.22" stroke="#7a7d7e" stroke-width="0.9"/>
<line x1="286.47" y1="187.22" x2="292.72" y2="187.22" stroke="#6d6e71" stroke-width="0.9"/>
<line x1="292.72" y1="186.22" x2="292.72" y2="188.22" stroke="#555" stroke-width="1"/>
<polygon points="316.40,184.77 316.90,186.03 318.25,186.12 317.21,186.98 317.55,188.30 316.40,187.57 315.25,188.30 315.59,186.98 314.55,186.12 315.90,186.03" fill="#111"/>
<rect x="228" y="192.71" width="49.22" height="5.3" fill="#c4302a" stroke="#bf1e16" stroke-width="0.5"/>
<line x1="271.47" y1="195.46" x2="277.22" y2="195.46" stroke="#7a7d7e" stroke-width="0.9"/>
<line x1="277.22" y1="195.46" x2="282.97" y2="195.46" stroke="#6d6e71" stroke-width="0.9"/>
<line x1="282.97" y1="194.46" x2="282.97" y2="196.46" stroke="#555" stroke-width="1"/>
<polygon points="316.40,193.01 316.90,194.27 318.25,194.36 317.21,195.22 317.55,196.54 316.40,195.81 315.25,196.54 315.59,195.22 314.55,194.36 315.90,194.27" fill="#111"/>
<rect x="228" y="200.95" width="13.32" height="5.3" fill="#c4302a" stroke="#bf1e16" stroke-width="0.5"/>
<line x1="237.07" y1="203.7" x2="241.32" y2="203.7" stroke="#7a7d7e" stroke-width="0.9"/>
<line x1="241.32" y1="203.7" x2="245.57" y2="203.7" stroke="#6d6e71" stroke-width="0.9"/>
<line x1="245.57" y1="202.7" x2="245.57" y2="204.7" stroke="#555" stroke-width="1"/>
<rect x="228" y="209.19" width="13.32" height="5.3" fill="#c4302a" stroke="#bf1e16" stroke-width="0.5"/>
<line x1="237.07" y1="211.94" x2="241.32" y2="211.94" stroke="#7a7d7e" stroke-width="0.9"/>
<line x1="241.32" y1="211.94" x2="245.57" y2="211.94" stroke="#6d6e71" stroke-width="0.9"/>
<line x1="245.57" y1="210.94" x2="245.57" y2="212.94" stroke="#555" stroke-width="1"/>
<polygon points="316.40,209.49 316.90,210.75 318.25,210.84 317.21,211.70 317.55,213.02 316.40,212.29 315.25,213.02 315.59,211.70 314.55,210.84 315.90,210.75" fill="#111"/>
<rect x="228" y="217.43" width="76.02" height="5.3" fill="#c4302a" stroke="#bf1e16" stroke-width="0.5"/>
<line x1="298.77" y1="220.18" x2="304.02" y2="220.18" stroke="#7a7d7e" stroke-width="0.9"/>
<line x1="304.02" y1="220.18" x2="309.27" y2="220.18" stroke="#6d6e71" stroke-width="0.9"/>
<line x1="309.27" y1="219.18" x2="309.27" y2="221.18" stroke="#555" stroke-width="1"/>
<polygon points="316.40,217.73 316.90,218.99 318.25,219.08 317.21,219.94 317.55,221.26 316.40,220.53 315.25,221.26 315.59,219.94 314.55,219.08 315.90,218.99" fill="#111"/>
<rect x="228" y="225.67" width="39.97" height="5.3" fill="#c4302a" stroke="#bf1e16" stroke-width="0.5"/>
<line x1="262.22" y1="228.42" x2="267.97" y2="228.42" stroke="#7a7d7e" stroke-width="0.9"/>
<line x1="267.97" y1="228.42" x2="273.72" y2="228.42" stroke="#6d6e71" stroke-width="0.9"/>
<line x1="273.72" y1="227.42" x2="273.72" y2="229.42" stroke="#555" stroke-width="1"/>
<rect x="228" y="233.91" width="44.67" height="5.3" fill="#c4302a" stroke="#bf1e16" stroke-width="0.5"/>
<line x1="266.92" y1="236.66" x2="272.67" y2="236.66" stroke="#7a7d7e" stroke-width="0.9"/>
<line x1="272.67" y1="236.66" x2="278.42" y2="236.66" stroke="#6d6e71" stroke-width="0.9"/>
<line x1="278.42" y1="235.66" x2="278.42" y2="237.66" stroke="#555" stroke-width="1"/>
<rect x="228" y="245.95" width="67.56" height="5.3" fill="#0b72b8" stroke="#0a6ab0" stroke-width="0.5"/>
<line x1="286.66" y1="248.7" x2="295.56" y2="248.7" stroke="#7a7d7e" stroke-width="0.9"/>
<line x1="295.56" y1="248.7" x2="304.46" y2="248.7" stroke="#6d6e71" stroke-width="0.9"/>
<line x1="304.46" y1="247.7" x2="304.46" y2="249.7" stroke="#555" stroke-width="1"/>
<polygon points="316.40,246.25 316.90,247.51 318.25,247.60 317.21,248.46 317.55,249.78 316.40,249.05 315.25,249.78 315.59,248.46 314.55,247.60 315.90,247.51" fill="#111"/>
<rect x="228" y="254.52" width="33.7" height="5.3" fill="#0b72b8" stroke="#0a6ab0" stroke-width="0.5"/>
<line x1="254.32" y1="257.27" x2="261.7" y2="257.27" stroke="#7a7d7e" stroke-width="0.9"/>
<line x1="261.7" y1="257.27" x2="269.09" y2="257.27" stroke="#6d6e71" stroke-width="0.9"/>
<line x1="269.09" y1="256.27" x2="269.09" y2="258.27" stroke="#555" stroke-width="1"/>
<polygon points="316.40,254.82 316.90,256.08 318.25,256.17 317.21,257.03 317.55,258.35 316.40,257.62 315.25,258.35 315.59,257.03 314.55,256.17 315.90,256.08" fill="#111"/>
<rect x="228" y="263.09" width="60.82" height="5.3" fill="#0b72b8" stroke="#0a6ab0" stroke-width="0.5"/>
<line x1="280.06" y1="265.84" x2="288.82" y2="265.84" stroke="#7a7d7e" stroke-width="0.9"/>
<line x1="288.82" y1="265.84" x2="297.58" y2="265.84" stroke="#6d6e71" stroke-width="0.9"/>
<line x1="297.58" y1="264.84" x2="297.58" y2="266.84" stroke="#555" stroke-width="1"/>
<rect x="228" y="271.66" width="20.22" height="5.3" fill="#0b72b8" stroke="#0a6ab0" stroke-width="0.5"/>
<line x1="242.2" y1="274.41" x2="248.22" y2="274.41" stroke="#7a7d7e" stroke-width="0.9"/>
<line x1="248.22" y1="274.41" x2="254.25" y2="274.41" stroke="#6d6e71" stroke-width="0.9"/>
<line x1="254.25" y1="273.41" x2="254.25" y2="275.41" stroke="#555" stroke-width="1"/>
<rect x="228" y="280.23" width="80.26" height="5.3" fill="#0b72b8" stroke="#0a6ab0" stroke-width="0.5"/>
<line x1="299.27" y1="282.98" x2="308.26" y2="282.98" stroke="#7a7d7e" stroke-width="0.9"/>
<line x1="308.26" y1="282.98" x2="317.24" y2="282.98" stroke="#6d6e71" stroke-width="0.9"/>
<line x1="317.24" y1="281.98" x2="317.24" y2="283.98" stroke="#555" stroke-width="1"/>
<rect x="228" y="297.37" width="6.74" height="5.3" fill="#0b72b8" stroke="#0a6ab0" stroke-width="0.5"/>
<line x1="231.09" y1="300.12" x2="234.74" y2="300.12" stroke="#7a7d7e" stroke-width="0.9"/>
<line x1="234.74" y1="300.12" x2="238.39" y2="300.12" stroke="#6d6e71" stroke-width="0.9"/>
<line x1="238.39" y1="299.12" x2="238.39" y2="301.12" stroke="#555" stroke-width="1"/>
<rect x="228" y="320.88" width="6.74" height="5.3" fill="#338d3b" stroke="#2a8033" stroke-width="0.5"/>
<line x1="231.09" y1="323.63" x2="234.74" y2="323.63" stroke="#7a7d7e" stroke-width="0.9"/>
<line x1="234.74" y1="323.63" x2="238.39" y2="323.63" stroke="#6d6e71" stroke-width="0.9"/>
<line x1="238.39" y1="322.63" x2="238.39" y2="324.63" stroke="#555" stroke-width="1"/>
<rect x="228" y="329.41" width="13.32" height="5.3" fill="#338d3b" stroke="#2a8033" stroke-width="0.5"/>
<line x1="236.31" y1="332.16" x2="241.32" y2="332.16" stroke="#7a7d7e" stroke-width="0.9"/>
<line x1="241.32" y1="332.16" x2="246.34" y2="332.16" stroke="#6d6e71" stroke-width="0.9"/>
<line x1="246.34" y1="331.16" x2="246.34" y2="333.16" stroke="#555" stroke-width="1"/>
<rect x="228" y="355" width="6.74" height="5.3" fill="#338d3b" stroke="#2a8033" stroke-width="0.5"/>
<line x1="231.09" y1="357.75" x2="234.74" y2="357.75" stroke="#7a7d7e" stroke-width="0.9"/>
<line x1="234.74" y1="357.75" x2="238.39" y2="357.75" stroke="#6d6e71" stroke-width="0.9"/>
<line x1="238.39" y1="356.75" x2="238.39" y2="358.75" stroke="#555" stroke-width="1"/>
<line x1="224.5" y1="37.2" x2="228" y2="37.2" stroke="#333" stroke-width="0.9"/>
<line x1="224.5" y1="45.03" x2="228" y2="45.03" stroke="#333" stroke-width="0.9"/>
<line x1="224.5" y1="52.86" x2="228" y2="52.86" stroke="#333" stroke-width="0.9"/>
<line x1="224.5" y1="60.69" x2="228" y2="60.69" stroke="#333" stroke-width="0.9"/>
<line x1="224.5" y1="68.52" x2="228" y2="68.52" stroke="#333" stroke-width="0.9"/>
<line x1="224.5" y1="76.35" x2="228" y2="76.35" stroke="#333" stroke-width="0.9"/>
<line x1="224.5" y1="84.18" x2="228" y2="84.18" stroke="#333" stroke-width="0.9"/>
<line x1="224.5" y1="92.01" x2="228" y2="92.01" stroke="#333" stroke-width="0.9"/>
<line x1="224.5" y1="99.84" x2="228" y2="99.84" stroke="#333" stroke-width="0.9"/>
<line x1="224.5" y1="107.67" x2="228" y2="107.67" stroke="#333" stroke-width="0.9"/>
<line x1="224.5" y1="115.5" x2="228" y2="115.5" stroke="#333" stroke-width="0.9"/>
<line x1="224.5" y1="123.33" x2="228" y2="123.33" stroke="#333" stroke-width="0.9"/>
<line x1="224.5" y1="131.16" x2="228" y2="131.16" stroke="#333" stroke-width="0.9"/>
<line x1="224.5" y1="138.99" x2="228" y2="138.99" stroke="#333" stroke-width="0.9"/>
<line x1="224.5" y1="146.82" x2="228" y2="146.82" stroke="#333" stroke-width="0.9"/>
<line x1="224.5" y1="162.4" x2="228" y2="162.4" stroke="#333" stroke-width="0.9"/>
<line x1="224.5" y1="170.64" x2="228" y2="170.64" stroke="#333" stroke-width="0.9"/>
<line x1="224.5" y1="178.88" x2="228" y2="178.88" stroke="#333" stroke-width="0.9"/>
<line x1="224.5" y1="187.12" x2="228" y2="187.12" stroke="#333" stroke-width="0.9"/>
<line x1="224.5" y1="195.36" x2="228" y2="195.36" stroke="#333" stroke-width="0.9"/>
<line x1="224.5" y1="203.6" x2="228" y2="203.6" stroke="#333" stroke-width="0.9"/>
<line x1="224.5" y1="211.84" x2="228" y2="211.84" stroke="#333" stroke-width="0.9"/>
<line x1="224.5" y1="220.08" x2="228" y2="220.08" stroke="#333" stroke-width="0.9"/>
<line x1="224.5" y1="228.32" x2="228" y2="228.32" stroke="#333" stroke-width="0.9"/>
<line x1="224.5" y1="236.56" x2="228" y2="236.56" stroke="#333" stroke-width="0.9"/>
<line x1="224.5" y1="248.6" x2="228" y2="248.6" stroke="#333" stroke-width="0.9"/>
<line x1="224.5" y1="257.17" x2="228" y2="257.17" stroke="#333" stroke-width="0.9"/>
<line x1="224.5" y1="265.74" x2="228" y2="265.74" stroke="#333" stroke-width="0.9"/>
<line x1="224.5" y1="274.31" x2="228" y2="274.31" stroke="#333" stroke-width="0.9"/>
<line x1="224.5" y1="282.88" x2="228" y2="282.88" stroke="#333" stroke-width="0.9"/>
<line x1="224.5" y1="291.45" x2="228" y2="291.45" stroke="#333" stroke-width="0.9"/>
<line x1="224.5" y1="300.02" x2="228" y2="300.02" stroke="#333" stroke-width="0.9"/>
<line x1="224.5" y1="315" x2="228" y2="315" stroke="#333" stroke-width="0.9"/>
<line x1="224.5" y1="323.53" x2="228" y2="323.53" stroke="#333" stroke-width="0.9"/>
<line x1="224.5" y1="332.06" x2="228" y2="332.06" stroke="#333" stroke-width="0.9"/>
<line x1="224.5" y1="340.59" x2="228" y2="340.59" stroke="#333" stroke-width="0.9"/>
<line x1="224.5" y1="349.12" x2="228" y2="349.12" stroke="#333" stroke-width="0.9"/>
<line x1="224.5" y1="357.65" x2="228" y2="357.65" stroke="#333" stroke-width="0.9"/>
<line x1="224.5" y1="366.18" x2="228" y2="366.18" stroke="#333" stroke-width="0.9"/>
<line x1="228" y1="31.8" x2="228" y2="372.5" stroke="#111" stroke-width="1.2"/>
<line x1="227.4" y1="371.9" x2="356" y2="371.9" stroke="#111" stroke-width="1.2"/>
<line x1="228" y1="371.9" x2="228" y2="375.2" stroke="#111" stroke-width="1"/>
<line x1="259.35" y1="371.9" x2="259.35" y2="375.2" stroke="#111" stroke-width="1"/>
<line x1="290.7" y1="371.9" x2="290.7" y2="375.2" stroke="#111" stroke-width="1"/>
<line x1="322.05" y1="371.9" x2="322.05" y2="375.2" stroke="#111" stroke-width="1"/>
<line x1="353.4" y1="371.9" x2="353.4" y2="375.2" stroke="#111" stroke-width="1"/>
<text x="228" y="386.3" font-size="8.6" fill="#222" text-anchor="middle">0</text>
<text x="290.7" y="386.3" font-size="8.6" fill="#222" text-anchor="middle">40</text>
<text x="353.4" y="386.3" font-size="8.6" fill="#222" text-anchor="middle">80</text>
<rect x="381.7" y="34.55" width="13.32" height="5.3" fill="#3d4547" stroke="#2b3133" stroke-width="0.5"/>
<line x1="393.64" y1="37.3" x2="395.02" y2="37.3" stroke="#7a7d7e" stroke-width="0.9"/>
<line x1="395.02" y1="37.3" x2="396.4" y2="37.3" stroke="#6d6e71" stroke-width="0.9"/>
<line x1="396.4" y1="36.3" x2="396.4" y2="38.3" stroke="#555" stroke-width="1"/>
<polygon points="423.80,34.85 424.30,36.11 425.65,36.20 424.61,37.06 424.95,38.38 423.80,37.65 422.65,38.38 422.99,37.06 421.95,36.20 423.30,36.11" fill="#111"/>
<rect x="381.7" y="42.38" width="13.95" height="5.3" fill="#3d4547" stroke="#2b3133" stroke-width="0.5"/>
<line x1="394.24" y1="45.13" x2="395.65" y2="45.13" stroke="#7a7d7e" stroke-width="0.9"/>
<line x1="395.65" y1="45.13" x2="397.06" y2="45.13" stroke="#6d6e71" stroke-width="0.9"/>
<line x1="397.06" y1="44.13" x2="397.06" y2="46.13" stroke="#555" stroke-width="1"/>
<polygon points="423.80,42.68 424.30,43.94 425.65,44.03 424.61,44.89 424.95,46.21 423.80,45.48 422.65,46.21 422.99,44.89 421.95,44.03 423.30,43.94" fill="#111"/>
<rect x="381.7" y="50.21" width="16.77" height="5.3" fill="#3d4547" stroke="#2b3133" stroke-width="0.5"/>
<line x1="396.94" y1="52.96" x2="398.47" y2="52.96" stroke="#7a7d7e" stroke-width="0.9"/>
<line x1="398.47" y1="52.96" x2="400" y2="52.96" stroke="#6d6e71" stroke-width="0.9"/>
<line x1="400" y1="51.96" x2="400" y2="53.96" stroke="#555" stroke-width="1"/>
<polygon points="423.80,50.51 424.30,51.77 425.65,51.86 424.61,52.72 424.95,54.04 423.80,53.31 422.65,54.04 422.99,52.72 421.95,51.86 423.30,51.77" fill="#111"/>
<rect x="381.7" y="58.04" width="2.35" height="5.3" fill="#3d4547" stroke="#2b3133" stroke-width="0.5"/>
<line x1="383.45" y1="60.79" x2="384.05" y2="60.79" stroke="#7a7d7e" stroke-width="0.9"/>
<line x1="384.05" y1="60.79" x2="384.65" y2="60.79" stroke="#6d6e71" stroke-width="0.9"/>
<line x1="384.65" y1="59.79" x2="384.65" y2="61.79" stroke="#555" stroke-width="1"/>
<rect x="381.7" y="65.87" width="32.92" height="5.3" fill="#3d4547" stroke="#2b3133" stroke-width="0.5"/>
<line x1="412.6" y1="68.62" x2="414.62" y2="68.62" stroke="#7a7d7e" stroke-width="0.9"/>
<line x1="414.62" y1="68.62" x2="416.63" y2="68.62" stroke="#6d6e71" stroke-width="0.9"/>
<line x1="416.63" y1="67.62" x2="416.63" y2="69.62" stroke="#555" stroke-width="1"/>
<polygon points="423.80,66.17 424.30,67.43 425.65,67.52 424.61,68.38 424.95,69.70 423.80,68.97 422.65,69.70 422.99,68.38 421.95,67.52 423.30,67.43" fill="#111"/>
<rect x="381.7" y="73.7" width="3.45" height="5.3" fill="#3d4547" stroke="#2b3133" stroke-width="0.5"/>
<line x1="384.42" y1="76.45" x2="385.15" y2="76.45" stroke="#7a7d7e" stroke-width="0.9"/>
<line x1="385.15" y1="76.45" x2="385.87" y2="76.45" stroke="#6d6e71" stroke-width="0.9"/>
<line x1="385.87" y1="75.45" x2="385.87" y2="77.45" stroke="#555" stroke-width="1"/>
<rect x="381.7" y="81.53" width="4.23" height="5.3" fill="#3d4547" stroke="#2b3133" stroke-width="0.5"/>
<line x1="385.13" y1="84.28" x2="385.93" y2="84.28" stroke="#7a7d7e" stroke-width="0.9"/>
<line x1="385.93" y1="84.28" x2="386.73" y2="84.28" stroke="#6d6e71" stroke-width="0.9"/>
<line x1="386.73" y1="83.28" x2="386.73" y2="85.28" stroke="#555" stroke-width="1"/>
<rect x="381.7" y="89.36" width="7.37" height="5.3" fill="#3d4547" stroke="#2b3133" stroke-width="0.5"/>
<line x1="388.02" y1="92.11" x2="389.07" y2="92.11" stroke="#7a7d7e" stroke-width="0.9"/>
<line x1="389.07" y1="92.11" x2="390.11" y2="92.11" stroke="#6d6e71" stroke-width="0.9"/>
<line x1="390.11" y1="91.11" x2="390.11" y2="93.11" stroke="#555" stroke-width="1"/>
<polygon points="423.80,89.66 424.30,90.92 425.65,91.01 424.61,91.87 424.95,93.19 423.80,92.46 422.65,93.19 422.99,91.87 421.95,91.01 423.30,90.92" fill="#111"/>
<rect x="381.7" y="97.19" width="5.96" height="5.3" fill="#3d4547" stroke="#2b3133" stroke-width="0.5"/>
<line x1="386.71" y1="99.94" x2="387.66" y2="99.94" stroke="#7a7d7e" stroke-width="0.9"/>
<line x1="387.66" y1="99.94" x2="388.6" y2="99.94" stroke="#6d6e71" stroke-width="0.9"/>
<line x1="388.6" y1="98.94" x2="388.6" y2="100.94" stroke="#555" stroke-width="1"/>
<polygon points="423.80,97.49 424.30,98.75 425.65,98.84 424.61,99.70 424.95,101.02 423.80,100.29 422.65,101.02 422.99,99.70 421.95,98.84 423.30,98.75" fill="#111"/>
<rect x="381.7" y="105.02" width="4.08" height="5.3" fill="#3d4547" stroke="#2b3133" stroke-width="0.5"/>
<line x1="384.99" y1="107.77" x2="385.78" y2="107.77" stroke="#7a7d7e" stroke-width="0.9"/>
<line x1="385.78" y1="107.77" x2="386.56" y2="107.77" stroke="#6d6e71" stroke-width="0.9"/>
<line x1="386.56" y1="106.77" x2="386.56" y2="108.77" stroke="#555" stroke-width="1"/>
<rect x="381.7" y="112.85" width="11.29" height="5.3" fill="#3d4547" stroke="#2b3133" stroke-width="0.5"/>
<line x1="391.71" y1="115.6" x2="392.99" y2="115.6" stroke="#7a7d7e" stroke-width="0.9"/>
<line x1="392.99" y1="115.6" x2="394.26" y2="115.6" stroke="#6d6e71" stroke-width="0.9"/>
<line x1="394.26" y1="114.6" x2="394.26" y2="116.6" stroke="#555" stroke-width="1"/>
<polygon points="423.80,113.15 424.30,114.41 425.65,114.50 424.61,115.36 424.95,116.68 423.80,115.95 422.65,116.68 422.99,115.36 421.95,114.50 423.30,114.41" fill="#111"/>
<rect x="381.7" y="120.68" width="23.83" height="5.3" fill="#3d4547" stroke="#2b3133" stroke-width="0.5"/>
<line x1="403.75" y1="123.43" x2="405.53" y2="123.43" stroke="#7a7d7e" stroke-width="0.9"/>
<line x1="405.53" y1="123.43" x2="407.3" y2="123.43" stroke="#6d6e71" stroke-width="0.9"/>
<line x1="407.3" y1="122.43" x2="407.3" y2="124.43" stroke="#555" stroke-width="1"/>
<polygon points="423.80,120.98 424.30,122.24 425.65,122.33 424.61,123.19 424.95,124.51 423.80,123.78 422.65,124.51 422.99,123.19 421.95,122.33 423.30,122.24" fill="#111"/>
<rect x="381.7" y="128.51" width="4.08" height="5.3" fill="#3d4547" stroke="#2b3133" stroke-width="0.5"/>
<line x1="384.99" y1="131.26" x2="385.78" y2="131.26" stroke="#7a7d7e" stroke-width="0.9"/>
<line x1="385.78" y1="131.26" x2="386.56" y2="131.26" stroke="#6d6e71" stroke-width="0.9"/>
<line x1="386.56" y1="130.26" x2="386.56" y2="132.26" stroke="#555" stroke-width="1"/>
<rect x="381.7" y="144.17" width="12.07" height="5.3" fill="#3d4547" stroke="#2b3133" stroke-width="0.5"/>
<line x1="392.45" y1="146.92" x2="393.77" y2="146.92" stroke="#7a7d7e" stroke-width="0.9"/>
<line x1="393.77" y1="146.92" x2="395.09" y2="146.92" stroke="#6d6e71" stroke-width="0.9"/>
<line x1="395.09" y1="145.92" x2="395.09" y2="147.92" stroke="#555" stroke-width="1"/>
<polygon points="423.80,144.47 424.30,145.73 425.65,145.82 424.61,146.68 424.95,148.00 423.80,147.27 422.65,148.00 422.99,146.68 421.95,145.82 423.30,145.73" fill="#111"/>
<rect x="381.7" y="159.75" width="15.36" height="5.3" fill="#c4302a" stroke="#bf1e16" stroke-width="0.5"/>
<line x1="394.31" y1="162.5" x2="397.06" y2="162.5" stroke="#7a7d7e" stroke-width="0.9"/>
<line x1="397.06" y1="162.5" x2="399.81" y2="162.5" stroke="#6d6e71" stroke-width="0.9"/>
<line x1="399.81" y1="161.5" x2="399.81" y2="163.5" stroke="#555" stroke-width="1"/>
<polygon points="423.80,160.05 424.30,161.31 425.65,161.40 424.61,162.26 424.95,163.58 423.80,162.85 422.65,163.58 422.99,162.26 421.95,161.40 423.30,161.31" fill="#111"/>
<rect x="381.7" y="167.99" width="13.95" height="5.3" fill="#c4302a" stroke="#bf1e16" stroke-width="0.5"/>
<line x1="391.9" y1="170.74" x2="395.65" y2="170.74" stroke="#7a7d7e" stroke-width="0.9"/>
<line x1="395.65" y1="170.74" x2="399.4" y2="170.74" stroke="#6d6e71" stroke-width="0.9"/>
<line x1="399.4" y1="169.74" x2="399.4" y2="171.74" stroke="#555" stroke-width="1"/>
<rect x="381.7" y="176.23" width="8.78" height="5.3" fill="#c4302a" stroke="#bf1e16" stroke-width="0.5"/>
<line x1="386.98" y1="178.98" x2="390.48" y2="178.98" stroke="#7a7d7e" stroke-width="0.9"/>
<line x1="390.48" y1="178.98" x2="393.98" y2="178.98" stroke="#6d6e71" stroke-width="0.9"/>
<line x1="393.98" y1="177.98" x2="393.98" y2="179.98" stroke="#555" stroke-width="1"/>
<rect x="381.7" y="184.47" width="17.09" height="5.3" fill="#c4302a" stroke="#bf1e16" stroke-width="0.5"/>
<line x1="394.54" y1="187.22" x2="398.79" y2="187.22" stroke="#7a7d7e" stroke-width="0.9"/>
<line x1="398.79" y1="187.22" x2="403.04" y2="187.22" stroke="#6d6e71" stroke-width="0.9"/>
<line x1="403.04" y1="186.22" x2="403.04" y2="188.22" stroke="#555" stroke-width="1"/>
<polygon points="423.80,184.77 424.30,186.03 425.65,186.12 424.61,186.98 424.95,188.30 423.80,187.57 422.65,188.30 422.99,186.98 421.95,186.12 423.30,186.03" fill="#111"/>
<rect x="381.7" y="192.71" width="14.26" height="5.3" fill="#c4302a" stroke="#bf1e16" stroke-width="0.5"/>
<line x1="392.21" y1="195.46" x2="395.96" y2="195.46" stroke="#7a7d7e" stroke-width="0.9"/>
<line x1="395.96" y1="195.46" x2="399.71" y2="195.46" stroke="#6d6e71" stroke-width="0.9"/>
<line x1="399.71" y1="194.46" x2="399.71" y2="196.46" stroke="#555" stroke-width="1"/>
<polygon points="423.80,193.01 424.30,194.27 425.65,194.36 424.61,195.22 424.95,196.54 423.80,195.81 422.65,196.54 422.99,195.22 421.95,194.36 423.30,194.27" fill="#111"/>
<rect x="381.7" y="200.95" width="29.16" height="5.3" fill="#c4302a" stroke="#bf1e16" stroke-width="0.5"/>
<line x1="406.61" y1="203.7" x2="410.86" y2="203.7" stroke="#7a7d7e" stroke-width="0.9"/>
<line x1="410.86" y1="203.7" x2="415.11" y2="203.7" stroke="#6d6e71" stroke-width="0.9"/>
<line x1="415.11" y1="202.7" x2="415.11" y2="204.7" stroke="#555" stroke-width="1"/>
<polygon points="423.80,201.25 424.30,202.51 425.65,202.60 424.61,203.46 424.95,204.78 423.80,204.05 422.65,204.78 422.99,203.46 421.95,202.60 423.30,202.51" fill="#111"/>
<rect x="381.7" y="209.19" width="6.27" height="5.3" fill="#c4302a" stroke="#bf1e16" stroke-width="0.5"/>
<line x1="383.47" y1="211.94" x2="387.97" y2="211.94" stroke="#7a7d7e" stroke-width="0.9"/>
<line x1="387.97" y1="211.94" x2="392.47" y2="211.94" stroke="#6d6e71" stroke-width="0.9"/>
<line x1="392.47" y1="210.94" x2="392.47" y2="212.94" stroke="#555" stroke-width="1"/>
<polygon points="423.80,209.49 424.30,210.75 425.65,210.84 424.61,211.70 424.95,213.02 423.80,212.29 422.65,213.02 422.99,211.70 421.95,210.84 423.30,210.75" fill="#111"/>
<rect x="381.7" y="217.43" width="11.29" height="5.3" fill="#c4302a" stroke="#bf1e16" stroke-width="0.5"/>
<line x1="387.99" y1="220.18" x2="392.99" y2="220.18" stroke="#7a7d7e" stroke-width="0.9"/>
<line x1="392.99" y1="220.18" x2="397.99" y2="220.18" stroke="#6d6e71" stroke-width="0.9"/>
<line x1="397.99" y1="219.18" x2="397.99" y2="221.18" stroke="#555" stroke-width="1"/>
<rect x="381.7" y="225.67" width="12.54" height="5.3" fill="#c4302a" stroke="#bf1e16" stroke-width="0.5"/>
<line x1="389.49" y1="228.42" x2="394.24" y2="228.42" stroke="#7a7d7e" stroke-width="0.9"/>
<line x1="394.24" y1="228.42" x2="398.99" y2="228.42" stroke="#6d6e71" stroke-width="0.9"/>
<line x1="398.99" y1="227.42" x2="398.99" y2="229.42" stroke="#555" stroke-width="1"/>
<polygon points="423.80,225.97 424.30,227.23 425.65,227.32 424.61,228.18 424.95,229.50 423.80,228.77 422.65,229.50 422.99,228.18 421.95,227.32 423.30,227.23" fill="#111"/>
<rect x="381.7" y="233.91" width="15.67" height="5.3" fill="#c4302a" stroke="#bf1e16" stroke-width="0.5"/>
<line x1="392.88" y1="236.66" x2="397.38" y2="236.66" stroke="#7a7d7e" stroke-width="0.9"/>
<line x1="397.38" y1="236.66" x2="401.88" y2="236.66" stroke="#6d6e71" stroke-width="0.9"/>
<line x1="401.88" y1="235.66" x2="401.88" y2="237.66" stroke="#555" stroke-width="1"/>
<polygon points="423.80,234.21 424.30,235.47 425.65,235.56 424.61,236.42 424.95,237.74 423.80,237.01 422.65,237.74 422.99,236.42 421.95,235.56 423.30,235.47" fill="#111"/>
<rect x="381.7" y="245.95" width="25.55" height="5.3" fill="#0b72b8" stroke="#0a6ab0" stroke-width="0.5"/>
<line x1="405.42" y1="248.7" x2="407.25" y2="248.7" stroke="#7a7d7e" stroke-width="0.9"/>
<line x1="407.25" y1="248.7" x2="409.08" y2="248.7" stroke="#6d6e71" stroke-width="0.9"/>
<line x1="409.08" y1="247.7" x2="409.08" y2="249.7" stroke="#555" stroke-width="1"/>
<polygon points="423.80,246.25 424.30,247.51 425.65,247.60 424.61,248.46 424.95,249.78 423.80,249.05 422.65,249.78 422.99,248.46 421.95,247.60 423.30,247.51" fill="#111"/>
<rect x="381.7" y="254.52" width="17.56" height="5.3" fill="#0b72b8" stroke="#0a6ab0" stroke-width="0.5"/>
<line x1="397.7" y1="257.27" x2="399.26" y2="257.27" stroke="#7a7d7e" stroke-width="0.9"/>
<line x1="399.26" y1="257.27" x2="400.82" y2="257.27" stroke="#6d6e71" stroke-width="0.9"/>
<line x1="400.82" y1="256.27" x2="400.82" y2="258.27" stroke="#555" stroke-width="1"/>
<polygon points="423.80,254.82 424.30,256.08 425.65,256.17 424.61,257.03 424.95,258.35 423.80,257.62 422.65,258.35 422.99,257.03 421.95,256.17 423.30,256.08" fill="#111"/>
<rect x="381.7" y="263.09" width="3.76" height="5.3" fill="#0b72b8" stroke="#0a6ab0" stroke-width="0.5"/>
<line x1="384.71" y1="265.84" x2="385.46" y2="265.84" stroke="#7a7d7e" stroke-width="0.9"/>
<line x1="385.46" y1="265.84" x2="386.22" y2="265.84" stroke="#6d6e71" stroke-width="0.9"/>
<line x1="386.22" y1="264.84" x2="386.22" y2="266.84" stroke="#555" stroke-width="1"/>
<rect x="381.7" y="271.66" width="21.16" height="5.3" fill="#0b72b8" stroke="#0a6ab0" stroke-width="0.5"/>
<line x1="401.17" y1="274.41" x2="402.86" y2="274.41" stroke="#7a7d7e" stroke-width="0.9"/>
<line x1="402.86" y1="274.41" x2="404.55" y2="274.41" stroke="#6d6e71" stroke-width="0.9"/>
<line x1="404.55" y1="273.41" x2="404.55" y2="275.41" stroke="#555" stroke-width="1"/>
<polygon points="423.80,271.96 424.30,273.22 425.65,273.31 424.61,274.17 424.95,275.49 423.80,274.76 422.65,275.49 422.99,274.17 421.95,273.31 423.30,273.22" fill="#111"/>
<rect x="381.7" y="280.23" width="2.04" height="5.3" fill="#0b72b8" stroke="#0a6ab0" stroke-width="0.5"/>
<line x1="383.18" y1="282.98" x2="383.74" y2="282.98" stroke="#7a7d7e" stroke-width="0.9"/>
<line x1="383.74" y1="282.98" x2="384.3" y2="282.98" stroke="#6d6e71" stroke-width="0.9"/>
<line x1="384.3" y1="281.98" x2="384.3" y2="283.98" stroke="#555" stroke-width="1"/>
<rect x="381.7" y="288.8" width="5.33" height="5.3" fill="#0b72b8" stroke="#0a6ab0" stroke-width="0.5"/>
<line x1="386.13" y1="291.55" x2="387.03" y2="291.55" stroke="#7a7d7e" stroke-width="0.9"/>
<line x1="387.03" y1="291.55" x2="387.93" y2="291.55" stroke="#6d6e71" stroke-width="0.9"/>
<line x1="387.93" y1="290.55" x2="387.93" y2="292.55" stroke="#555" stroke-width="1"/>
<rect x="381.7" y="297.37" width="5.33" height="5.3" fill="#0b72b8" stroke="#0a6ab0" stroke-width="0.5"/>
<line x1="386.13" y1="300.12" x2="387.03" y2="300.12" stroke="#7a7d7e" stroke-width="0.9"/>
<line x1="387.03" y1="300.12" x2="387.93" y2="300.12" stroke="#6d6e71" stroke-width="0.9"/>
<line x1="387.93" y1="299.12" x2="387.93" y2="301.12" stroke="#555" stroke-width="1"/>
<rect x="381.7" y="312.35" width="32.29" height="5.3" fill="#338d3b" stroke="#2a8033" stroke-width="0.5"/>
<line x1="411.99" y1="315.1" x2="413.99" y2="315.1" stroke="#7a7d7e" stroke-width="0.9"/>
<line x1="413.99" y1="315.1" x2="415.99" y2="315.1" stroke="#6d6e71" stroke-width="0.9"/>
<line x1="415.99" y1="314.1" x2="415.99" y2="316.1" stroke="#555" stroke-width="1"/>
<polygon points="423.80,312.65 424.30,313.91 425.65,314.00 424.61,314.86 424.95,316.18 423.80,315.45 422.65,316.18 422.99,314.86 421.95,314.00 423.30,313.91" fill="#111"/>
<rect x="381.7" y="320.88" width="30.25" height="5.3" fill="#338d3b" stroke="#2a8033" stroke-width="0.5"/>
<line x1="410" y1="323.63" x2="411.95" y2="323.63" stroke="#7a7d7e" stroke-width="0.9"/>
<line x1="411.95" y1="323.63" x2="413.9" y2="323.63" stroke="#6d6e71" stroke-width="0.9"/>
<line x1="413.9" y1="322.63" x2="413.9" y2="324.63" stroke="#555" stroke-width="1"/>
<polygon points="423.80,321.18 424.30,322.44 425.65,322.53 424.61,323.39 424.95,324.71 423.80,323.98 422.65,324.71 422.99,323.39 421.95,322.53 423.30,322.44" fill="#111"/>
<rect x="381.7" y="329.41" width="4.08" height="5.3" fill="#338d3b" stroke="#2a8033" stroke-width="0.5"/>
<line x1="384.99" y1="332.16" x2="385.78" y2="332.16" stroke="#7a7d7e" stroke-width="0.9"/>
<line x1="385.78" y1="332.16" x2="386.56" y2="332.16" stroke="#6d6e71" stroke-width="0.9"/>
<line x1="386.56" y1="331.16" x2="386.56" y2="333.16" stroke="#555" stroke-width="1"/>
<rect x="381.7" y="337.94" width="7.84" height="5.3" fill="#338d3b" stroke="#2a8033" stroke-width="0.5"/>
<line x1="388.46" y1="340.69" x2="389.54" y2="340.69" stroke="#7a7d7e" stroke-width="0.9"/>
<line x1="389.54" y1="340.69" x2="390.62" y2="340.69" stroke="#6d6e71" stroke-width="0.9"/>
<line x1="390.62" y1="339.69" x2="390.62" y2="341.69" stroke="#555" stroke-width="1"/>
<rect x="381.7" y="346.47" width="0.78" height="5.3" fill="#338d3b" stroke="#2a8033" stroke-width="0.5"/>
<rect x="381.7" y="355" width="5.49" height="5.3" fill="#338d3b" stroke="#2a8033" stroke-width="0.5"/>
<line x1="386.28" y1="357.75" x2="387.19" y2="357.75" stroke="#7a7d7e" stroke-width="0.9"/>
<line x1="387.19" y1="357.75" x2="388.09" y2="357.75" stroke="#6d6e71" stroke-width="0.9"/>
<line x1="388.09" y1="356.75" x2="388.09" y2="358.75" stroke="#555" stroke-width="1"/>
<rect x="381.7" y="363.53" width="4.86" height="5.3" fill="#338d3b" stroke="#2a8033" stroke-width="0.5"/>
<line x1="385.7" y1="366.28" x2="386.56" y2="366.28" stroke="#7a7d7e" stroke-width="0.9"/>
<line x1="386.56" y1="366.28" x2="387.42" y2="366.28" stroke="#6d6e71" stroke-width="0.9"/>
<line x1="387.42" y1="365.28" x2="387.42" y2="367.28" stroke="#555" stroke-width="1"/>
<line x1="378.2" y1="37.2" x2="381.7" y2="37.2" stroke="#333" stroke-width="0.9"/>
<line x1="378.2" y1="45.03" x2="381.7" y2="45.03" stroke="#333" stroke-width="0.9"/>
<line x1="378.2" y1="52.86" x2="381.7" y2="52.86" stroke="#333" stroke-width="0.9"/>
<line x1="378.2" y1="60.69" x2="381.7" y2="60.69" stroke="#333" stroke-width="0.9"/>
<line x1="378.2" y1="68.52" x2="381.7" y2="68.52" stroke="#333" stroke-width="0.9"/>
<line x1="378.2" y1="76.35" x2="381.7" y2="76.35" stroke="#333" stroke-width="0.9"/>
<line x1="378.2" y1="84.18" x2="381.7" y2="84.18" stroke="#333" stroke-width="0.9"/>
<line x1="378.2" y1="92.01" x2="381.7" y2="92.01" stroke="#333" stroke-width="0.9"/>
<line x1="378.2" y1="99.84" x2="381.7" y2="99.84" stroke="#333" stroke-width="0.9"/>
<line x1="378.2" y1="107.67" x2="381.7" y2="107.67" stroke="#333" stroke-width="0.9"/>
<line x1="378.2" y1="115.5" x2="381.7" y2="115.5" stroke="#333" stroke-width="0.9"/>
<line x1="378.2" y1="123.33" x2="381.7" y2="123.33" stroke="#333" stroke-width="0.9"/>
<line x1="378.2" y1="131.16" x2="381.7" y2="131.16" stroke="#333" stroke-width="0.9"/>
<line x1="378.2" y1="138.99" x2="381.7" y2="138.99" stroke="#333" stroke-width="0.9"/>
<line x1="378.2" y1="146.82" x2="381.7" y2="146.82" stroke="#333" stroke-width="0.9"/>
<line x1="378.2" y1="162.4" x2="381.7" y2="162.4" stroke="#333" stroke-width="0.9"/>
<line x1="378.2" y1="170.64" x2="381.7" y2="170.64" stroke="#333" stroke-width="0.9"/>
<line x1="378.2" y1="178.88" x2="381.7" y2="178.88" stroke="#333" stroke-width="0.9"/>
<line x1="378.2" y1="187.12" x2="381.7" y2="187.12" stroke="#333" stroke-width="0.9"/>
<line x1="378.2" y1="195.36" x2="381.7" y2="195.36" stroke="#333" stroke-width="0.9"/>
<line x1="378.2" y1="203.6" x2="381.7" y2="203.6" stroke="#333" stroke-width="0.9"/>
<line x1="378.2" y1="211.84" x2="381.7" y2="211.84" stroke="#333" stroke-width="0.9"/>
<line x1="378.2" y1="220.08" x2="381.7" y2="220.08" stroke="#333" stroke-width="0.9"/>
<line x1="378.2" y1="228.32" x2="381.7" y2="228.32" stroke="#333" stroke-width="0.9"/>
<line x1="378.2" y1="236.56" x2="381.7" y2="236.56" stroke="#333" stroke-width="0.9"/>
<line x1="378.2" y1="248.6" x2="381.7" y2="248.6" stroke="#333" stroke-width="0.9"/>
<line x1="378.2" y1="257.17" x2="381.7" y2="257.17" stroke="#333" stroke-width="0.9"/>
<line x1="378.2" y1="265.74" x2="381.7" y2="265.74" stroke="#333" stroke-width="0.9"/>
<line x1="378.2" y1="274.31" x2="381.7" y2="274.31" stroke="#333" stroke-width="0.9"/>
<line x1="378.2" y1="282.88" x2="381.7" y2="282.88" stroke="#333" stroke-width="0.9"/>
<line x1="378.2" y1="291.45" x2="381.7" y2="291.45" stroke="#333" stroke-width="0.9"/>
<line x1="378.2" y1="300.02" x2="381.7" y2="300.02" stroke="#333" stroke-width="0.9"/>
<line x1="378.2" y1="315" x2="381.7" y2="315" stroke="#333" stroke-width="0.9"/>
<line x1="378.2" y1="323.53" x2="381.7" y2="323.53" stroke="#333" stroke-width="0.9"/>
<line x1="378.2" y1="332.06" x2="381.7" y2="332.06" stroke="#333" stroke-width="0.9"/>
<line x1="378.2" y1="340.59" x2="381.7" y2="340.59" stroke="#333" stroke-width="0.9"/>
<line x1="378.2" y1="349.12" x2="381.7" y2="349.12" stroke="#333" stroke-width="0.9"/>
<line x1="378.2" y1="357.65" x2="381.7" y2="357.65" stroke="#333" stroke-width="0.9"/>
<line x1="378.2" y1="366.18" x2="381.7" y2="366.18" stroke="#333" stroke-width="0.9"/>
<line x1="381.7" y1="31.8" x2="381.7" y2="372.5" stroke="#111" stroke-width="1.2"/>
<line x1="381.1" y1="371.9" x2="509.7" y2="371.9" stroke="#111" stroke-width="1.2"/>
<line x1="381.7" y1="371.9" x2="381.7" y2="375.2" stroke="#111" stroke-width="1"/>
<line x1="413.05" y1="371.9" x2="413.05" y2="375.2" stroke="#111" stroke-width="1"/>
<line x1="444.4" y1="371.9" x2="444.4" y2="375.2" stroke="#111" stroke-width="1"/>
<line x1="475.75" y1="371.9" x2="475.75" y2="375.2" stroke="#111" stroke-width="1"/>
<line x1="507.1" y1="371.9" x2="507.1" y2="375.2" stroke="#111" stroke-width="1"/>
<text x="381.7" y="386.3" font-size="8.6" fill="#222" text-anchor="middle">0</text>
<text x="444.4" y="386.3" font-size="8.6" fill="#222" text-anchor="middle">40</text>
<text x="507.1" y="386.3" font-size="8.6" fill="#222" text-anchor="middle">80</text>
<text x="138.8" y="15.3" font-size="8.6" fill="#000" font-weight="bold" text-anchor="middle" textLength="24.2" lengthAdjust="spacingAndGlyphs" stroke="#000" stroke-width="0.25">PMBL</text>
<text x="138.6" y="26.3" font-size="8.6" fill="#333" text-anchor="middle" textLength="25.9" lengthAdjust="spacingAndGlyphs">(n=37)</text>
<text x="292.7" y="15.3" font-size="8.6" fill="#000" font-weight="bold" text-anchor="middle" textLength="15.8" lengthAdjust="spacingAndGlyphs" stroke="#000" stroke-width="0.25">cHL</text>
<text x="292.1" y="26.3" font-size="8.6" fill="#333" text-anchor="middle" textLength="26.2" lengthAdjust="spacingAndGlyphs">(n=23)</text>
<text x="446.2" y="15.3" font-size="8.6" fill="#000" font-weight="bold" text-anchor="middle" textLength="28.6" lengthAdjust="spacingAndGlyphs" stroke="#000" stroke-width="0.25">DLBCL</text>
<text x="446" y="26.3" font-size="8.6" fill="#333" text-anchor="middle" textLength="30.5" lengthAdjust="spacingAndGlyphs">(n=304)</text>
<text x="265.6" y="401.9" font-size="10.2" fill="#333" textLength="53.2" lengthAdjust="spacingAndGlyphs">Frequency [%]</text>
<text x="8.6" y="432" font-size="12.6" fill="#000" font-weight="bold" textLength="9" lengthAdjust="spacingAndGlyphs">B</text>
<line x1="45.4" y1="523.5" x2="511.4" y2="523.5" stroke="#bbb" stroke-width="1"/>
<line x1="45.4" y1="729.1" x2="511.4" y2="729.1" stroke="#bbb" stroke-width="1"/>
<line x1="511.4" y1="523.5" x2="511.4" y2="729.1" stroke="#bbb" stroke-width="1"/>
<line x1="45.4" y1="523.5" x2="45.4" y2="729.1" stroke="#bbb" stroke-width="1"/>
<line x1="43.2" y1="716.26" x2="45.4" y2="716.26" stroke="#c8c8c8" stroke-width="0.7"/>
<line x1="43.2" y1="709.04" x2="45.4" y2="709.04" stroke="#c8c8c8" stroke-width="0.7"/>
<line x1="43.2" y1="703.92" x2="45.4" y2="703.92" stroke="#c8c8c8" stroke-width="0.7"/>
<line x1="43.2" y1="699.94" x2="45.4" y2="699.94" stroke="#c8c8c8" stroke-width="0.7"/>
<line x1="43.2" y1="696.7" x2="45.4" y2="696.7" stroke="#c8c8c8" stroke-width="0.7"/>
<line x1="43.2" y1="693.95" x2="45.4" y2="693.95" stroke="#c8c8c8" stroke-width="0.7"/>
<line x1="43.2" y1="691.57" x2="45.4" y2="691.57" stroke="#c8c8c8" stroke-width="0.7"/>
<line x1="43.2" y1="689.48" x2="45.4" y2="689.48" stroke="#c8c8c8" stroke-width="0.7"/>
<line x1="43.2" y1="675.26" x2="45.4" y2="675.26" stroke="#c8c8c8" stroke-width="0.7"/>
<line x1="43.2" y1="668.04" x2="45.4" y2="668.04" stroke="#c8c8c8" stroke-width="0.7"/>
<line x1="43.2" y1="662.92" x2="45.4" y2="662.92" stroke="#c8c8c8" stroke-width="0.7"/>
<line x1="43.2" y1="658.94" x2="45.4" y2="658.94" stroke="#c8c8c8" stroke-width="0.7"/>
<line x1="43.2" y1="655.7" x2="45.4" y2="655.7" stroke="#c8c8c8" stroke-width="0.7"/>
<line x1="43.2" y1="652.95" x2="45.4" y2="652.95" stroke="#c8c8c8" stroke-width="0.7"/>
<line x1="43.2" y1="650.57" x2="45.4" y2="650.57" stroke="#c8c8c8" stroke-width="0.7"/>
<line x1="43.2" y1="648.48" x2="45.4" y2="648.48" stroke="#c8c8c8" stroke-width="0.7"/>
<line x1="43.2" y1="634.26" x2="45.4" y2="634.26" stroke="#c8c8c8" stroke-width="0.7"/>
<line x1="43.2" y1="627.04" x2="45.4" y2="627.04" stroke="#c8c8c8" stroke-width="0.7"/>
<line x1="43.2" y1="621.92" x2="45.4" y2="621.92" stroke="#c8c8c8" stroke-width="0.7"/>
<line x1="43.2" y1="617.94" x2="45.4" y2="617.94" stroke="#c8c8c8" stroke-width="0.7"/>
<line x1="43.2" y1="614.7" x2="45.4" y2="614.7" stroke="#c8c8c8" stroke-width="0.7"/>
<line x1="43.2" y1="611.95" x2="45.4" y2="611.95" stroke="#c8c8c8" stroke-width="0.7"/>
<line x1="43.2" y1="609.57" x2="45.4" y2="609.57" stroke="#c8c8c8" stroke-width="0.7"/>
<line x1="43.2" y1="607.48" x2="45.4" y2="607.48" stroke="#c8c8c8" stroke-width="0.7"/>
<line x1="43.2" y1="593.26" x2="45.4" y2="593.26" stroke="#c8c8c8" stroke-width="0.7"/>
<line x1="43.2" y1="586.04" x2="45.4" y2="586.04" stroke="#c8c8c8" stroke-width="0.7"/>
<line x1="43.2" y1="580.92" x2="45.4" y2="580.92" stroke="#c8c8c8" stroke-width="0.7"/>
<line x1="43.2" y1="576.94" x2="45.4" y2="576.94" stroke="#c8c8c8" stroke-width="0.7"/>
<line x1="43.2" y1="573.7" x2="45.4" y2="573.7" stroke="#c8c8c8" stroke-width="0.7"/>
<line x1="43.2" y1="570.95" x2="45.4" y2="570.95" stroke="#c8c8c8" stroke-width="0.7"/>
<line x1="43.2" y1="568.57" x2="45.4" y2="568.57" stroke="#c8c8c8" stroke-width="0.7"/>
<line x1="43.2" y1="566.48" x2="45.4" y2="566.48" stroke="#c8c8c8" stroke-width="0.7"/>
<line x1="43.2" y1="552.26" x2="45.4" y2="552.26" stroke="#c8c8c8" stroke-width="0.7"/>
<line x1="43.2" y1="545.04" x2="45.4" y2="545.04" stroke="#c8c8c8" stroke-width="0.7"/>
<line x1="43.2" y1="539.92" x2="45.4" y2="539.92" stroke="#c8c8c8" stroke-width="0.7"/>
<line x1="43.2" y1="535.94" x2="45.4" y2="535.94" stroke="#c8c8c8" stroke-width="0.7"/>
<line x1="43.2" y1="532.7" x2="45.4" y2="532.7" stroke="#c8c8c8" stroke-width="0.7"/>
<line x1="43.2" y1="529.95" x2="45.4" y2="529.95" stroke="#c8c8c8" stroke-width="0.7"/>
<line x1="43.2" y1="527.57" x2="45.4" y2="527.57" stroke="#c8c8c8" stroke-width="0.7"/>
<line x1="43.2" y1="525.48" x2="45.4" y2="525.48" stroke="#c8c8c8" stroke-width="0.7"/>
<line x1="41.9" y1="728.6" x2="45.4" y2="728.6" stroke="#999" stroke-width="0.9"/>
<line x1="41.9" y1="687.6" x2="45.4" y2="687.6" stroke="#999" stroke-width="0.9"/>
<line x1="41.9" y1="646.6" x2="45.4" y2="646.6" stroke="#999" stroke-width="0.9"/>
<line x1="41.9" y1="605.6" x2="45.4" y2="605.6" stroke="#999" stroke-width="0.9"/>
<line x1="41.9" y1="564.6" x2="45.4" y2="564.6" stroke="#999" stroke-width="0.9"/>
<line x1="41.9" y1="523.6" x2="45.4" y2="523.6" stroke="#999" stroke-width="0.9"/>
<text x="32.7" y="731.4" font-size="9.4" fill="#222" text-anchor="end" textLength="8.4" lengthAdjust="spacingAndGlyphs">10</text>
<text x="33.1" y="728.3" font-size="6.0" fill="#444">-2</text>
<text x="32.7" y="690.4" font-size="9.4" fill="#222" text-anchor="end" textLength="8.4" lengthAdjust="spacingAndGlyphs">10</text>
<text x="33.1" y="687.3" font-size="6.0" fill="#444">-1</text>
<text x="35.0" y="649.4" font-size="9.4" fill="#222" text-anchor="end" textLength="8.9" lengthAdjust="spacingAndGlyphs">10</text>
<text x="35.4" y="646.3" font-size="6.0" fill="#444">0</text>
<text x="35.0" y="608.4" font-size="9.4" fill="#222" text-anchor="end" textLength="8.9" lengthAdjust="spacingAndGlyphs">10</text>
<text x="35.4" y="605.3" font-size="6.0" fill="#444">1</text>
<text x="35.0" y="567.4" font-size="9.4" fill="#222" text-anchor="end" textLength="8.9" lengthAdjust="spacingAndGlyphs">10</text>
<text x="35.4" y="564.3" font-size="6.0" fill="#444">2</text>
<text x="35.0" y="526.4" font-size="9.4" fill="#222" text-anchor="end" textLength="8.9" lengthAdjust="spacingAndGlyphs">10</text>
<text x="35.4" y="523.3" font-size="6.0" fill="#444">3</text>
<text x="0" y="0" transform="translate(16.6,689.3) rotate(-90)" font-size="10.6" fill="#222" textLength="129.4" lengthAdjust="spacingAndGlyphs">Coding mutations/Mb per sample</text>
<text x="0" y="0" transform="translate(59.3,516.3) rotate(-90)" font-size="9.6" fill="#222" textLength="30.7" lengthAdjust="spacingAndGlyphs">Thyroid</text>
<text x="0" y="0" transform="translate(70.1,516.3) rotate(-90)" font-size="9.6" fill="#222" textLength="40.8" lengthAdjust="spacingAndGlyphs">carcinoma</text>
<line x1="61.5" y1="520.3" x2="61.5" y2="523.5" stroke="#888" stroke-width="0.8"/>
<line x1="61.5" y1="729.1" x2="61.5" y2="732.1" stroke="#888" stroke-width="0.8"/>
<text x="61.5" y="743.5" font-size="8.6" fill="#222" text-anchor="middle" textLength="25.6" lengthAdjust="spacingAndGlyphs">n=397</text>
<text x="0" y="0" transform="translate(92.63,516.3) rotate(-90)" font-size="9.6" fill="#222" textLength="71" lengthAdjust="spacingAndGlyphs">Chronic lymphoid</text>
<text x="0" y="0" transform="translate(103.43,516.3) rotate(-90)" font-size="9.6" fill="#222" textLength="35.6" lengthAdjust="spacingAndGlyphs">leukemia</text>
<line x1="94.83" y1="520.3" x2="94.83" y2="523.5" stroke="#888" stroke-width="0.8"/>
<line x1="94.83" y1="729.1" x2="94.83" y2="732.1" stroke="#888" stroke-width="0.8"/>
<text x="94.83" y="743.5" font-size="8.6" fill="#222" text-anchor="middle" textLength="25.6" lengthAdjust="spacingAndGlyphs">n=381</text>
<line x1="78.2" y1="523.5" x2="78.2" y2="729.1" stroke="#555" stroke-width="1.3"/>
<text x="0" y="0" transform="translate(125.96,516.3) rotate(-90)" font-size="9.6" fill="#222" textLength="42.3" lengthAdjust="spacingAndGlyphs">Low grade</text>
<text x="0" y="0" transform="translate(136.76,516.3) rotate(-90)" font-size="9.6" fill="#222" textLength="28" lengthAdjust="spacingAndGlyphs">glioma</text>
<line x1="128.16" y1="520.3" x2="128.16" y2="523.5" stroke="#888" stroke-width="0.8"/>
<line x1="128.16" y1="729.1" x2="128.16" y2="732.1" stroke="#888" stroke-width="0.8"/>
<text x="128.16" y="743.5" font-size="8.6" fill="#222" text-anchor="middle" textLength="25.6" lengthAdjust="spacingAndGlyphs">n=419</text>
<line x1="111.7" y1="523.5" x2="111.7" y2="729.1" stroke="#555" stroke-width="1.3"/>
<text x="0" y="0" transform="translate(159.29,516.3) rotate(-90)" font-size="9.6" fill="#222" textLength="86.8" lengthAdjust="spacingAndGlyphs">Kidney renal papillary</text>
<text x="0" y="0" transform="translate(170.09,516.3) rotate(-90)" font-size="9.6" fill="#222" textLength="56.8" lengthAdjust="spacingAndGlyphs">cell carcinoma</text>
<line x1="161.49" y1="520.3" x2="161.49" y2="523.5" stroke="#888" stroke-width="0.8"/>
<line x1="161.49" y1="729.1" x2="161.49" y2="732.1" stroke="#888" stroke-width="0.8"/>
<text x="161.49" y="743.5" font-size="8.6" fill="#222" text-anchor="middle" textLength="25.6" lengthAdjust="spacingAndGlyphs">n=101</text>
<line x1="145" y1="523.5" x2="145" y2="729.1" stroke="#555" stroke-width="1.3"/>
<text x="0" y="0" transform="translate(192.62,516.3) rotate(-90)" font-size="9.6" fill="#222" textLength="70.1" lengthAdjust="spacingAndGlyphs">Kidney renal clear</text>
<text x="0" y="0" transform="translate(203.42,516.3) rotate(-90)" font-size="9.6" fill="#222" textLength="56.8" lengthAdjust="spacingAndGlyphs">cell carcinoma</text>
<line x1="194.82" y1="520.3" x2="194.82" y2="523.5" stroke="#888" stroke-width="0.8"/>
<line x1="194.82" y1="729.1" x2="194.82" y2="732.1" stroke="#888" stroke-width="0.8"/>
<text x="194.82" y="743.5" font-size="8.6" fill="#222" text-anchor="middle" textLength="25.6" lengthAdjust="spacingAndGlyphs">n=217</text>
<line x1="176.9" y1="523.5" x2="176.9" y2="729.1" stroke="#555" stroke-width="1.3"/>
<text x="0" y="0" transform="translate(225.95,516.3) rotate(-90)" font-size="9.6" fill="#222" textLength="53.2" lengthAdjust="spacingAndGlyphs">Glioblastoma</text>
<text x="0" y="0" transform="translate(236.75,516.3) rotate(-90)" font-size="9.6" fill="#222" textLength="47.3" lengthAdjust="spacingAndGlyphs">multiforme</text>
<line x1="228.15" y1="520.3" x2="228.15" y2="523.5" stroke="#888" stroke-width="0.8"/>
<line x1="228.15" y1="729.1" x2="228.15" y2="732.1" stroke="#888" stroke-width="0.8"/>
<text x="228.15" y="743.5" font-size="8.6" fill="#222" text-anchor="middle" textLength="25.6" lengthAdjust="spacingAndGlyphs">n=264</text>
<line x1="209.85" y1="523.5" x2="209.85" y2="729.1" stroke="#555" stroke-width="1.3"/>
<text x="0" y="0" transform="translate(259.28,516.3) rotate(-90)" font-size="9.6" fill="#222" textLength="60.8" lengthAdjust="spacingAndGlyphs">Uterine carcino-</text>
<text x="0" y="0" transform="translate(270.08,516.3) rotate(-90)" font-size="9.6" fill="#222" textLength="33.9" lengthAdjust="spacingAndGlyphs">sarcoma</text>
<line x1="261.48" y1="520.3" x2="261.48" y2="523.5" stroke="#888" stroke-width="0.8"/>
<line x1="261.48" y1="729.1" x2="261.48" y2="732.1" stroke="#888" stroke-width="0.8"/>
<text x="261.48" y="743.5" font-size="8.6" fill="#222" text-anchor="middle" textLength="20.4" lengthAdjust="spacingAndGlyphs">n=55</text>
<line x1="244.85" y1="523.5" x2="244.85" y2="729.1" stroke="#555" stroke-width="1.3"/>
<text x="0" y="0" transform="translate(292.61,516.3) rotate(-90)" font-size="9.6" fill="#222" textLength="51" lengthAdjust="spacingAndGlyphs">Diffuse large</text>
<text x="0" y="0" transform="translate(303.41,516.3) rotate(-90)" font-size="9.6" fill="#222" textLength="67.1" lengthAdjust="spacingAndGlyphs">B-cell lymphoma</text>
<line x1="294.81" y1="520.3" x2="294.81" y2="523.5" stroke="#888" stroke-width="0.8"/>
<line x1="294.81" y1="729.1" x2="294.81" y2="732.1" stroke="#888" stroke-width="0.8"/>
<text x="294.81" y="743.5" font-size="8.6" fill="#222" text-anchor="middle" textLength="25.6" lengthAdjust="spacingAndGlyphs">n=304</text>
<line x1="278.4" y1="523.5" x2="278.4" y2="729.1" stroke="#555" stroke-width="1.3"/>
<text x="0" y="0" transform="translate(325.94,516.3) rotate(-90)" font-size="9.6" fill="#222" textLength="66" lengthAdjust="spacingAndGlyphs">Stomach adeno-</text>
<text x="0" y="0" transform="translate(336.74,516.3) rotate(-90)" font-size="9.6" fill="#222" textLength="41.8" lengthAdjust="spacingAndGlyphs">carcinoma</text>
<line x1="328.14" y1="520.3" x2="328.14" y2="523.5" stroke="#888" stroke-width="0.8"/>
<line x1="328.14" y1="729.1" x2="328.14" y2="732.1" stroke="#888" stroke-width="0.8"/>
<text x="328.14" y="743.5" font-size="8.6" fill="#222" text-anchor="middle" textLength="25.6" lengthAdjust="spacingAndGlyphs">n=214</text>
<line x1="311.9" y1="523.5" x2="311.9" y2="729.1" stroke="#555" stroke-width="1.3"/>
<text x="0" y="0" transform="translate(359.27,516.3) rotate(-90)" font-size="9.6" fill="#d2302c" textLength="79.5" lengthAdjust="spacingAndGlyphs">Primary Mediastinal</text>
<text x="0" y="0" transform="translate(370.07,516.3) rotate(-90)" font-size="9.6" fill="#d2302c" textLength="94.8" lengthAdjust="spacingAndGlyphs">Large B-cell Lymphoma</text>
<line x1="361.47" y1="520.3" x2="361.47" y2="523.5" stroke="#888" stroke-width="0.8"/>
<line x1="361.47" y1="729.1" x2="361.47" y2="732.1" stroke="#888" stroke-width="0.8"/>
<text x="361.47" y="743.5" font-size="8.6" fill="#222" text-anchor="middle" textLength="20.4" lengthAdjust="spacingAndGlyphs">n=37</text>
<line x1="344.8" y1="523.5" x2="344.8" y2="729.1" stroke="#555" stroke-width="1.3"/>
<text x="0" y="0" transform="translate(392.6,516.3) rotate(-90)" font-size="9.6" fill="#222" textLength="72.7" lengthAdjust="spacingAndGlyphs">Urothelial bladder</text>
<text x="0" y="0" transform="translate(403.4,516.3) rotate(-90)" font-size="9.6" fill="#222" textLength="40.4" lengthAdjust="spacingAndGlyphs">carcinoma</text>
<line x1="394.8" y1="520.3" x2="394.8" y2="523.5" stroke="#888" stroke-width="0.8"/>
<line x1="394.8" y1="729.1" x2="394.8" y2="732.1" stroke="#888" stroke-width="0.8"/>
<text x="394.8" y="743.5" font-size="8.6" fill="#222" text-anchor="middle" textLength="25.6" lengthAdjust="spacingAndGlyphs">n=125</text>
<line x1="378.4" y1="523.5" x2="378.4" y2="729.1" stroke="#555" stroke-width="1.3"/>
<text x="0" y="0" transform="translate(425.93,516.3) rotate(-90)" font-size="9.6" fill="#222" textLength="49.8" lengthAdjust="spacingAndGlyphs">Lung adeno-</text>
<text x="0" y="0" transform="translate(436.73,516.3) rotate(-90)" font-size="9.6" fill="#222" textLength="40.4" lengthAdjust="spacingAndGlyphs">carcinoma</text>
<line x1="428.13" y1="520.3" x2="428.13" y2="523.5" stroke="#888" stroke-width="0.8"/>
<line x1="428.13" y1="729.1" x2="428.13" y2="732.1" stroke="#888" stroke-width="0.8"/>
<text x="428.13" y="743.5" font-size="8.6" fill="#222" text-anchor="middle" textLength="25.6" lengthAdjust="spacingAndGlyphs">n=420</text>
<line x1="411.5" y1="523.5" x2="411.5" y2="729.1" stroke="#555" stroke-width="1.3"/>
<text x="0" y="0" transform="translate(459.26,516.3) rotate(-90)" font-size="9.6" fill="#222" textLength="64.6" lengthAdjust="spacingAndGlyphs">Lung Squamous</text>
<text x="0" y="0" transform="translate(470.06,516.3) rotate(-90)" font-size="9.6" fill="#222" textLength="60.6" lengthAdjust="spacingAndGlyphs">Cell Carcinoma</text>
<line x1="461.46" y1="520.3" x2="461.46" y2="523.5" stroke="#888" stroke-width="0.8"/>
<line x1="461.46" y1="729.1" x2="461.46" y2="732.1" stroke="#888" stroke-width="0.8"/>
<text x="461.46" y="743.5" font-size="8.6" fill="#222" text-anchor="middle" textLength="25.6" lengthAdjust="spacingAndGlyphs">n=416</text>
<line x1="444.3" y1="523.5" x2="444.3" y2="729.1" stroke="#555" stroke-width="1.3"/>
<text x="0" y="0" transform="translate(492.59,516.3) rotate(-90)" font-size="9.6" fill="#222" textLength="60.6" lengthAdjust="spacingAndGlyphs">Skin cutaneous</text>
<text x="0" y="0" transform="translate(503.39,516.3) rotate(-90)" font-size="9.6" fill="#222" textLength="43.1" lengthAdjust="spacingAndGlyphs">melanoma</text>
<line x1="494.79" y1="520.3" x2="494.79" y2="523.5" stroke="#888" stroke-width="0.8"/>
<line x1="494.79" y1="729.1" x2="494.79" y2="732.1" stroke="#888" stroke-width="0.8"/>
<text x="494.79" y="743.5" font-size="8.6" fill="#222" text-anchor="middle" textLength="25.6" lengthAdjust="spacingAndGlyphs">n=256</text>
<line x1="477.2" y1="523.5" x2="477.2" y2="729.1" stroke="#555" stroke-width="1.3"/>
<path d="M46.4 673.9h0M46.5 673.6h0M46.6 673.3h0M46.7 673.0h0M46.7 672.7h0M46.8 672.4h0M46.9 672.2h0M46.9 671.9h0M47.0 671.6h0M47.1 671.3h0M47.2 671.2h0M47.2 671.1h0M47.3 671.0h0M47.4 670.9h0M47.5 670.8h0M47.5 670.6h0M47.6 670.5h0M47.7 670.4h0M47.8 670.3h0M47.8 670.2h0M47.9 670.1h0M48.0 670.0h0M48.0 669.9h0M48.1 669.8h0M48.2 669.6h0M48.3 669.5h0M48.3 669.4h0M48.4 669.3h0M48.5 669.2h0M48.6 669.1h0M48.6 669.0h0M48.7 668.9h0M48.8 668.8h0M48.8 668.7h0M48.9 668.5h0M49.0 668.4h0M49.1 668.3h0M49.1 668.2h0M49.2 668.1h0M49.3 668.0h0M49.4 667.9h0M49.4 667.8h0M49.5 667.7h0M49.6 667.5h0M49.7 667.4h0M49.7 667.3h0M49.8 667.2h0M49.9 667.1h0M49.9 667.0h0M50.0 666.9h0M50.1 666.8h0M50.2 666.7h0M50.2 666.6h0M50.3 666.4h0M50.4 666.3h0M50.5 666.2h0M50.5 666.1h0M50.6 666.0h0M50.7 665.9h0M50.7 665.8h0M50.8 665.7h0M50.9 665.6h0M51.0 665.5h0M51.0 665.3h0M51.1 665.2h0M51.2 665.1h0M51.3 665.0h0M51.3 664.9h0M51.4 664.8h0M51.5 664.7h0M51.5 664.6h0M51.6 664.5h0M51.7 664.3h0M51.8 664.2h0M51.8 664.2h0M51.9 664.1h0M52.0 664.0h0M52.1 664.0h0M52.1 663.9h0M52.2 663.9h0M52.3 663.8h0M52.4 663.8h0M52.4 663.7h0M52.5 663.6h0M52.6 663.6h0M52.6 663.5h0M52.7 663.5h0M52.8 663.4h0M52.9 663.3h0M52.9 663.3h0M53.0 663.2h0M53.1 663.2h0M53.2 663.1h0M53.2 663.1h0M53.3 663.0h0M53.4 662.9h0M53.4 662.9h0M53.5 662.8h0M53.6 662.8h0M53.7 662.7h0M53.7 662.7h0M53.8 662.6h0M53.9 662.5h0M54.0 662.5h0M54.0 662.4h0M54.1 662.4h0M54.2 662.3h0M54.3 662.2h0M54.3 662.2h0M54.4 662.1h0M54.5 662.1h0M54.5 662.0h0M54.6 662.0h0M54.7 661.9h0M54.8 661.8h0M54.8 661.8h0M54.9 661.7h0M55.0 661.7h0M55.1 661.6h0M55.1 661.5h0M55.2 661.5h0M55.3 661.4h0M55.3 661.4h0M55.4 661.3h0M55.5 661.3h0M55.6 661.2h0M55.6 661.1h0M55.7 661.1h0M55.8 661.0h0M55.9 661.0h0M55.9 660.9h0M56.0 660.9h0M56.1 660.8h0M56.2 660.7h0M56.2 660.7h0M56.3 660.6h0M56.4 660.6h0M56.4 660.5h0M56.5 660.4h0M56.6 660.4h0M56.7 660.3h0M56.7 660.3h0M56.8 660.2h0M56.9 660.2h0M57.0 660.1h0M57.0 660.0h0M57.1 660.0h0M57.2 659.9h0M57.2 659.9h0M57.3 659.8h0M57.4 659.7h0M57.5 659.7h0M57.5 659.6h0M57.6 659.6h0M57.7 659.5h0M57.8 659.5h0M57.8 659.4h0M57.9 659.3h0M58.0 659.3h0M58.1 659.2h0M58.1 659.2h0M58.2 659.1h0M58.3 659.1h0M58.3 659.0h0M58.4 658.9h0M58.5 658.9h0M58.6 658.8h0M58.6 658.8h0M58.7 658.7h0M58.8 658.6h0M58.9 658.6h0M58.9 658.5h0M59.0 658.5h0M59.1 658.4h0M59.1 658.4h0M59.2 658.3h0M59.3 658.2h0M59.4 658.2h0M59.4 658.1h0M59.5 658.1h0M59.6 658.0h0M59.7 657.9h0M59.7 657.9h0M59.8 657.8h0M59.9 657.8h0M60.0 657.7h0M60.0 657.7h0M60.1 657.6h0M60.2 657.5h0M60.2 657.5h0M60.3 657.4h0M60.4 657.4h0M60.5 657.3h0M60.5 657.2h0M60.6 657.2h0M60.7 657.1h0M60.8 657.1h0M60.8 657.0h0M60.9 656.9h0M61.0 656.9h0M61.0 656.8h0M61.1 656.8h0M61.2 656.7h0M61.3 656.7h0M61.3 656.6h0M61.4 656.5h0M61.5 656.5h0M61.6 656.4h0M61.6 656.4h0M61.7 656.3h0M61.8 656.2h0M61.8 656.2h0M61.9 656.1h0M62.0 656.1h0M62.1 656.0h0M62.1 655.9h0M62.2 655.9h0M62.3 655.8h0M62.4 655.8h0M62.4 655.7h0M62.5 655.6h0M62.6 655.6h0M62.7 655.5h0M62.7 655.5h0M62.8 655.4h0M62.9 655.4h0M62.9 655.3h0M63.0 655.2h0M63.1 655.2h0M63.2 655.1h0M63.2 655.1h0M63.3 655.0h0M63.4 654.9h0M63.5 654.9h0M63.5 654.8h0M63.6 654.8h0M63.7 654.7h0M63.7 654.6h0M63.8 654.6h0M63.9 654.5h0M64.0 654.5h0M64.0 654.4h0M64.1 654.4h0M64.2 654.3h0M64.3 654.2h0M64.3 654.2h0M64.4 654.1h0M64.5 654.1h0M64.6 654.0h0M64.6 653.9h0M64.7 653.9h0M64.8 653.8h0M64.8 653.8h0M64.9 653.7h0M65.0 653.6h0M65.1 653.6h0M65.1 653.5h0M65.2 653.5h0M65.3 653.4h0M65.4 653.3h0M65.4 653.3h0M65.5 653.2h0M65.6 653.2h0M65.6 653.1h0M65.7 653.1h0M65.8 653.0h0M65.9 652.9h0M65.9 652.9h0M66.0 652.8h0M66.1 652.8h0M66.2 652.7h0M66.2 652.6h0M66.3 652.6h0M66.4 652.5h0M66.5 652.5h0M66.5 652.4h0M66.6 652.3h0M66.7 652.3h0M66.7 652.2h0M66.8 652.2h0M66.9 652.1h0M67.0 652.0h0M67.0 652.0h0M67.1 651.9h0M67.2 651.9h0M67.3 651.8h0M67.3 651.8h0M67.4 651.7h0M67.5 651.6h0M67.5 651.5h0M67.6 651.5h0M67.7 651.4h0M67.8 651.3h0M67.8 651.3h0M67.9 651.2h0M68.0 651.1h0M68.1 651.0h0M68.1 651.0h0M68.2 650.9h0M68.3 650.8h0M68.4 650.7h0M68.4 650.7h0M68.5 650.6h0M68.6 650.5h0M68.6 650.5h0M68.7 650.4h0M68.8 650.3h0M68.9 650.2h0M68.9 650.2h0M69.0 650.1h0M69.1 650.0h0M69.2 649.9h0M69.2 649.9h0M69.3 649.8h0M69.4 649.7h0M69.4 649.7h0M69.5 649.6h0M69.6 649.5h0M69.7 649.4h0M69.7 649.4h0M69.8 649.3h0M69.9 649.2h0M70.0 649.1h0M70.0 649.1h0M70.1 649.0h0M70.2 648.9h0M70.3 648.9h0M70.3 648.8h0M70.4 648.7h0M70.5 648.6h0M70.5 648.6h0M70.6 648.5h0M70.7 648.4h0M70.8 648.3h0M70.8 648.3h0M70.9 648.2h0M71.0 648.1h0M71.1 648.0h0M71.1 648.0h0M71.2 647.9h0M71.3 647.8h0M71.3 647.8h0M71.4 647.7h0M71.5 647.6h0M71.6 647.5h0M71.6 647.5h0M71.7 647.4h0M71.8 647.3h0M71.9 647.2h0M71.9 647.2h0M72.0 647.1h0M72.1 647.0h0M72.1 647.0h0M72.2 646.9h0M72.3 646.8h0M72.4 646.7h0M72.4 646.7h0M72.5 646.6h0M72.6 646.5h0M72.7 646.4h0M72.7 646.4h0M72.8 646.3h0M72.9 646.2h0M73.0 646.0h0M73.0 645.7h0M73.1 645.5h0M73.2 645.2h0M73.2 644.9h0M73.3 644.6h0M73.4 644.3h0M73.5 644.1h0M73.5 643.8h0M73.6 643.5h0M73.7 643.2h0M73.8 643.0h0M73.8 642.7h0M73.9 642.4h0M74.0 642.1h0M74.0 641.8h0M74.1 641.6h0M74.2 641.3h0M74.3 641.0h0M74.3 640.7h0M74.4 640.4h0M74.5 640.2h0M74.6 639.7h0M74.6 639.1h0M74.7 638.5h0M74.8 637.9h0M74.9 637.2h0M74.9 636.6h0M75.0 636.0h0M75.1 635.3h0M75.1 634.5h0M75.2 633.5h0M75.3 632.5h0M75.4 626.8h0M79.6 669.8h0M79.7 669.3h0M79.8 668.9h0M79.9 668.4h0M79.9 668.0h0M80.0 667.5h0M80.1 667.1h0M80.2 666.6h0M80.2 666.1h0M80.3 665.7h0M80.4 665.2h0M80.5 664.8h0M80.6 664.3h0M80.6 663.9h0M80.7 663.4h0M80.8 663.0h0M80.9 662.5h0M80.9 662.1h0M81.0 661.6h0M81.1 661.2h0M81.2 660.7h0M81.2 660.3h0M81.3 659.8h0M81.4 659.4h0M81.5 659.3h0M81.5 659.2h0M81.6 659.1h0M81.7 659.1h0M81.8 659.0h0M81.8 659.0h0M81.9 658.9h0M82.0 658.9h0M82.1 658.8h0M82.1 658.8h0M82.2 658.7h0M82.3 658.7h0M82.4 658.6h0M82.5 658.5h0M82.5 658.5h0M82.6 658.4h0M82.7 658.4h0M82.8 658.3h0M82.8 658.3h0M82.9 658.2h0M83.0 658.2h0M83.1 658.1h0M83.1 658.1h0M83.2 658.0h0M83.3 657.9h0M83.4 657.9h0M83.4 657.8h0M83.5 657.8h0M83.6 657.7h0M83.7 657.7h0M83.7 657.6h0M83.8 657.6h0M83.9 657.5h0M84.0 657.5h0M84.1 657.4h0M84.1 657.3h0M84.2 657.3h0M84.3 657.2h0M84.4 657.2h0M84.4 657.1h0M84.5 657.1h0M84.6 657.0h0M84.7 657.0h0M84.7 656.9h0M84.8 656.9h0M84.9 656.8h0M85.0 656.7h0M85.0 656.7h0M85.1 656.6h0M85.2 656.6h0M85.3 656.5h0M85.3 656.5h0M85.4 656.4h0M85.5 656.4h0M85.6 656.3h0M85.7 656.3h0M85.7 656.2h0M85.8 656.1h0M85.9 656.1h0M86.0 656.0h0M86.0 656.0h0M86.1 655.9h0M86.2 655.9h0M86.3 655.8h0M86.3 655.8h0M86.4 655.7h0M86.5 655.7h0M86.6 655.6h0M86.6 655.5h0M86.7 655.5h0M86.8 655.4h0M86.9 655.4h0M86.9 655.3h0M87.0 655.3h0M87.1 655.3h0M87.2 655.2h0M87.2 655.2h0M87.3 655.1h0M87.4 655.1h0M87.5 655.0h0M87.6 655.0h0M87.6 655.0h0M87.7 654.9h0M87.8 654.9h0M87.9 654.8h0M87.9 654.8h0M88.0 654.7h0M88.1 654.7h0M88.2 654.7h0M88.2 654.6h0M88.3 654.6h0M88.4 654.5h0M88.5 654.5h0M88.5 654.4h0M88.6 654.4h0M88.7 654.4h0M88.8 654.3h0M88.8 654.3h0M88.9 654.2h0M89.0 654.2h0M89.1 654.1h0M89.2 654.1h0M89.2 654.1h0M89.3 654.0h0M89.4 654.0h0M89.5 653.9h0M89.5 653.9h0M89.6 653.8h0M89.7 653.8h0M89.8 653.8h0M89.8 653.7h0M89.9 653.7h0M90.0 653.6h0M90.1 653.6h0M90.1 653.6h0M90.2 653.5h0M90.3 653.5h0M90.4 653.4h0M90.4 653.4h0M90.5 653.3h0M90.6 653.3h0M90.7 653.3h0M90.8 653.2h0M90.8 653.2h0M90.9 653.1h0M91.0 653.1h0M91.1 653.0h0M91.1 653.0h0M91.2 653.0h0M91.3 652.9h0M91.4 652.9h0M91.4 652.8h0M91.5 652.8h0M91.6 652.7h0M91.7 652.7h0M91.7 652.7h0M91.8 652.6h0M91.9 652.6h0M92.0 652.5h0M92.0 652.5h0M92.1 652.4h0M92.2 652.4h0M92.3 652.4h0M92.3 652.3h0M92.4 652.3h0M92.5 652.2h0M92.6 652.2h0M92.7 652.1h0M92.7 652.1h0M92.8 652.1h0M92.9 652.0h0M93.0 652.0h0M93.0 651.9h0M93.1 651.9h0M93.2 651.8h0M93.3 651.8h0M93.3 651.8h0M93.4 651.7h0M93.5 651.7h0M93.6 651.6h0M93.6 651.6h0M93.7 651.5h0M93.8 651.5h0M93.9 651.5h0M93.9 651.4h0M94.0 651.4h0M94.1 651.3h0M94.2 651.3h0M94.3 651.2h0M94.3 651.2h0M94.4 651.2h0M94.5 651.1h0M94.6 651.1h0M94.6 651.0h0M94.7 651.0h0M94.8 650.9h0M94.9 650.9h0M94.9 650.9h0M95.0 650.8h0M95.1 650.8h0M95.2 650.8h0M95.2 650.7h0M95.3 650.7h0M95.4 650.6h0M95.5 650.6h0M95.5 650.6h0M95.6 650.5h0M95.7 650.5h0M95.8 650.5h0M95.9 650.4h0M95.9 650.4h0M96.0 650.3h0M96.1 650.3h0M96.2 650.3h0M96.2 650.2h0M96.3 650.2h0M96.4 650.2h0M96.5 650.1h0M96.5 650.1h0M96.6 650.0h0M96.7 650.0h0M96.8 650.0h0M96.8 649.9h0M96.9 649.9h0M97.0 649.8h0M97.1 649.8h0M97.1 649.8h0M97.2 649.7h0M97.3 649.7h0M97.4 649.7h0M97.4 649.6h0M97.5 649.6h0M97.6 649.5h0M97.7 649.5h0M97.8 649.5h0M97.8 649.4h0M97.9 649.4h0M98.0 649.4h0M98.1 649.3h0M98.1 649.3h0M98.2 649.2h0M98.3 649.2h0M98.4 649.2h0M98.4 649.1h0M98.5 649.1h0M98.6 649.1h0M98.7 649.0h0M98.7 649.0h0M98.8 648.9h0M98.9 648.9h0M99.0 648.9h0M99.0 648.8h0M99.1 648.8h0M99.2 648.7h0M99.3 648.7h0M99.4 648.7h0M99.4 648.6h0M99.5 648.6h0M99.6 648.6h0M99.7 648.5h0M99.7 648.5h0M99.8 648.4h0M99.9 648.4h0M100.0 648.4h0M100.0 648.3h0M100.1 648.3h0M100.2 648.3h0M100.3 648.2h0M100.3 648.2h0M100.4 648.1h0M100.5 648.1h0M100.6 648.1h0M100.6 648.0h0M100.7 648.0h0M100.8 648.0h0M100.9 647.9h0M101.0 647.9h0M101.0 647.8h0M101.1 647.8h0M101.2 647.8h0M101.3 647.7h0M101.3 647.7h0M101.4 647.6h0M101.5 647.6h0M101.6 647.6h0M101.6 647.5h0M101.7 647.5h0M101.8 647.5h0M101.9 647.4h0M101.9 647.4h0M102.0 647.3h0M102.1 647.3h0M102.2 647.3h0M102.2 647.2h0M102.3 647.2h0M102.4 647.2h0M102.5 647.1h0M102.5 647.1h0M102.6 647.0h0M102.7 646.9h0M102.8 646.8h0M102.9 646.7h0M102.9 646.6h0M103.0 646.5h0M103.1 646.4h0M103.2 646.3h0M103.2 646.3h0M103.3 646.2h0M103.4 646.1h0M103.5 646.0h0M103.5 645.9h0M103.6 645.8h0M103.7 645.7h0M103.8 645.6h0M103.8 645.5h0M103.9 645.5h0M104.0 645.4h0M104.1 645.3h0M104.1 645.2h0M104.2 645.1h0M104.3 645.0h0M104.4 644.9h0M104.5 644.8h0M104.5 644.7h0M104.6 644.7h0M104.7 644.6h0M104.8 644.5h0M104.8 644.4h0M104.9 644.3h0M105.0 644.2h0M105.1 644.1h0M105.1 644.0h0M105.2 643.9h0M105.3 643.9h0M105.4 643.8h0M105.4 643.7h0M105.5 643.6h0M105.6 643.5h0M105.7 643.4h0M105.7 643.3h0M105.8 643.2h0M105.9 643.1h0M106.0 643.1h0M106.1 643.0h0M106.1 642.9h0M106.2 642.8h0M106.3 642.7h0M106.4 642.5h0M106.4 642.3h0M106.5 642.1h0M106.6 641.9h0M106.7 641.7h0M106.7 641.5h0M106.8 641.3h0M106.9 641.1h0M107.0 640.9h0M107.0 640.7h0M107.1 640.5h0M107.2 640.3h0M107.3 640.1h0M107.3 639.9h0M107.4 639.7h0M107.5 639.5h0M107.6 639.3h0M107.6 639.1h0M107.7 638.9h0M107.8 638.7h0M107.9 638.5h0M108.0 638.2h0M108.0 638.0h0M108.1 637.8h0M108.2 637.6h0M108.3 637.4h0M108.3 637.1h0M108.4 636.5h0M108.5 635.9h0M108.6 627.4h0M112.8 664.8h0M112.9 664.3h0M113.0 663.8h0M113.0 663.3h0M113.1 662.9h0M113.2 662.4h0M113.2 661.9h0M113.3 661.4h0M113.4 660.9h0M113.5 660.5h0M113.5 660.0h0M113.6 659.5h0M113.7 659.0h0M113.7 658.6h0M113.8 658.1h0M113.9 657.6h0M113.9 657.1h0M114.0 656.6h0M114.1 656.2h0M114.1 655.7h0M114.2 655.2h0M114.3 654.7h0M114.4 654.3h0M114.4 654.0h0M114.5 653.9h0M114.6 653.8h0M114.6 653.7h0M114.7 653.6h0M114.8 653.5h0M114.8 653.5h0M114.9 653.4h0M115.0 653.3h0M115.0 653.2h0M115.1 653.1h0M115.2 653.0h0M115.3 652.9h0M115.3 652.9h0M115.4 652.8h0M115.5 652.7h0M115.5 652.6h0M115.6 652.5h0M115.7 652.4h0M115.7 652.4h0M115.8 652.3h0M115.9 652.2h0M115.9 652.1h0M116.0 652.0h0M116.1 651.9h0M116.2 651.8h0M116.2 651.8h0M116.3 651.7h0M116.4 651.6h0M116.4 651.5h0M116.5 651.4h0M116.6 651.3h0M116.6 651.3h0M116.7 651.2h0M116.8 651.1h0M116.8 651.0h0M116.9 650.9h0M117.0 650.8h0M117.1 650.7h0M117.1 650.7h0M117.2 650.6h0M117.3 650.5h0M117.3 650.4h0M117.4 650.3h0M117.5 650.2h0M117.5 650.2h0M117.6 650.1h0M117.7 650.0h0M117.7 649.9h0M117.8 649.8h0M117.9 649.7h0M118.0 649.6h0M118.0 649.6h0M118.1 649.5h0M118.2 649.4h0M118.2 649.3h0M118.3 649.2h0M118.4 649.1h0M118.4 649.0h0M118.5 649.0h0M118.6 648.9h0M118.6 648.8h0M118.7 648.7h0M118.8 648.6h0M118.9 648.5h0M118.9 648.5h0M119.0 648.4h0M119.1 648.4h0M119.1 648.4h0M119.2 648.3h0M119.3 648.3h0M119.3 648.3h0M119.4 648.2h0M119.5 648.2h0M119.5 648.2h0M119.6 648.1h0M119.7 648.1h0M119.8 648.1h0M119.8 648.0h0M119.9 648.0h0M120.0 648.0h0M120.0 647.9h0M120.1 647.9h0M120.2 647.9h0M120.2 647.8h0M120.3 647.8h0M120.4 647.8h0M120.4 647.7h0M120.5 647.7h0M120.6 647.7h0M120.7 647.6h0M120.7 647.6h0M120.8 647.6h0M120.9 647.5h0M120.9 647.5h0M121.0 647.5h0M121.1 647.4h0M121.1 647.4h0M121.2 647.4h0M121.3 647.3h0M121.3 647.3h0M121.4 647.2h0M121.5 647.2h0M121.6 647.2h0M121.6 647.1h0M121.7 647.1h0M121.8 647.1h0M121.8 647.0h0M121.9 647.0h0M122.0 647.0h0M122.0 646.9h0M122.1 646.9h0M122.2 646.9h0M122.2 646.8h0M122.3 646.8h0M122.4 646.8h0M122.5 646.7h0M122.5 646.7h0M122.6 646.7h0M122.7 646.6h0M122.7 646.6h0M122.8 646.6h0M122.9 646.5h0M122.9 646.5h0M123.0 646.5h0M123.1 646.4h0M123.1 646.4h0M123.2 646.4h0M123.3 646.3h0M123.4 646.3h0M123.4 646.3h0M123.5 646.2h0M123.6 646.2h0M123.6 646.2h0M123.7 646.1h0M123.8 646.1h0M123.8 646.1h0M123.9 646.0h0M124.0 646.0h0M124.0 645.9h0M124.1 645.9h0M124.2 645.9h0M124.3 645.8h0M124.3 645.8h0M124.4 645.8h0M124.5 645.7h0M124.5 645.7h0M124.6 645.7h0M124.7 645.6h0M124.7 645.6h0M124.8 645.6h0M124.9 645.5h0M124.9 645.5h0M125.0 645.5h0M125.1 645.4h0M125.2 645.4h0M125.2 645.4h0M125.3 645.3h0M125.4 645.3h0M125.4 645.3h0M125.5 645.2h0M125.6 645.2h0M125.6 645.1h0M125.7 645.1h0M125.8 645.0h0M125.8 645.0h0M125.9 644.9h0M126.0 644.8h0M126.1 644.8h0M126.1 644.7h0M126.2 644.7h0M126.3 644.6h0M126.3 644.6h0M126.4 644.5h0M126.5 644.4h0M126.5 644.4h0M126.6 644.3h0M126.7 644.3h0M126.7 644.2h0M126.8 644.1h0M126.9 644.1h0M127.0 644.0h0M127.0 644.0h0M127.1 643.9h0M127.2 643.9h0M127.2 643.8h0M127.3 643.7h0M127.4 643.7h0M127.4 643.6h0M127.5 643.6h0M127.6 643.5h0M127.6 643.4h0M127.7 643.4h0M127.8 643.3h0M127.9 643.3h0M127.9 643.2h0M128.0 643.2h0M128.1 643.1h0M128.1 643.0h0M128.2 643.0h0M128.3 642.9h0M128.3 642.9h0M128.4 642.8h0M128.5 642.8h0M128.5 642.7h0M128.6 642.6h0M128.7 642.6h0M128.8 642.5h0M128.8 642.5h0M128.9 642.4h0M129.0 642.3h0M129.0 642.3h0M129.1 642.2h0M129.2 642.2h0M129.2 642.1h0M129.3 642.1h0M129.4 642.0h0M129.4 641.9h0M129.5 641.9h0M129.6 641.8h0M129.7 641.8h0M129.7 641.7h0M129.8 641.6h0M129.9 641.6h0M129.9 641.5h0M130.0 641.5h0M130.1 641.4h0M130.1 641.4h0M130.2 641.3h0M130.3 641.2h0M130.3 641.2h0M130.4 641.1h0M130.5 641.1h0M130.6 641.0h0M130.6 640.9h0M130.7 640.9h0M130.8 640.8h0M130.8 640.8h0M130.9 640.7h0M131.0 640.7h0M131.0 640.6h0M131.1 640.5h0M131.2 640.5h0M131.2 640.4h0M131.3 640.4h0M131.4 640.3h0M131.5 640.3h0M131.5 640.2h0M131.6 640.1h0M131.7 640.1h0M131.7 640.0h0M131.8 640.0h0M131.9 639.9h0M131.9 639.8h0M132.0 639.8h0M132.1 639.7h0M132.1 639.7h0M132.2 639.6h0M132.3 639.5h0M132.4 639.5h0M132.4 639.4h0M132.5 639.3h0M132.6 639.2h0M132.6 639.1h0M132.7 639.0h0M132.8 639.0h0M132.8 638.9h0M132.9 638.8h0M133.0 638.7h0M133.0 638.6h0M133.1 638.5h0M133.2 638.5h0M133.3 638.4h0M133.3 638.3h0M133.4 638.2h0M133.5 638.1h0M133.5 638.0h0M133.6 638.0h0M133.7 637.9h0M133.7 637.8h0M133.8 637.7h0M133.9 637.6h0M133.9 637.5h0M134.0 637.5h0M134.1 637.4h0M134.2 637.3h0M134.2 637.2h0M134.3 637.1h0M134.4 637.0h0M134.4 637.0h0M134.5 636.9h0M134.6 636.8h0M134.6 636.7h0M134.7 636.6h0M134.8 636.6h0M134.8 636.5h0M134.9 636.4h0M135.0 636.3h0M135.1 636.2h0M135.1 636.1h0M135.2 636.1h0M135.3 636.0h0M135.3 635.9h0M135.4 635.8h0M135.5 635.7h0M135.5 635.6h0M135.6 635.6h0M135.7 635.5h0M135.7 635.4h0M135.8 635.3h0M135.9 635.2h0M136.0 635.1h0M136.0 635.1h0M136.1 635.0h0M136.2 634.9h0M136.2 634.8h0M136.3 634.7h0M136.4 634.6h0M136.4 634.6h0M136.5 634.5h0M136.6 634.4h0M136.6 634.3h0M136.7 634.2h0M136.8 634.1h0M136.9 634.1h0M136.9 634.0h0M137.0 633.9h0M137.1 633.8h0M137.1 633.7h0M137.2 633.6h0M137.3 633.6h0M137.3 633.5h0M137.4 633.4h0M137.5 633.3h0M137.5 633.2h0M137.6 633.2h0M137.7 633.1h0M137.8 633.0h0M137.8 632.8h0M137.9 632.7h0M138.0 632.6h0M138.0 632.4h0M138.1 632.3h0M138.2 632.2h0M138.2 632.0h0M138.3 631.9h0M138.4 631.8h0M138.4 631.6h0M138.5 631.5h0M138.6 631.4h0M138.7 631.2h0M138.7 631.1h0M138.8 631.0h0M138.9 630.8h0M138.9 630.7h0M139.0 630.6h0M139.1 630.4h0M139.1 630.3h0M139.2 630.2h0M139.3 630.0h0M139.3 629.9h0M139.4 629.8h0M139.5 629.6h0M139.6 629.5h0M139.6 629.4h0M139.7 629.2h0M139.8 629.1h0M139.8 629.0h0M139.9 628.8h0M140.0 628.7h0M140.0 628.6h0M140.1 628.4h0M140.2 628.3h0M140.2 628.2h0M140.3 628.0h0M140.4 627.9h0M140.5 627.8h0M140.5 627.6h0M140.6 627.5h0M140.7 627.3h0M140.7 627.0h0M140.8 626.6h0M140.9 626.3h0M140.9 625.9h0M141.0 625.6h0M141.1 625.2h0M141.1 624.9h0M141.2 624.5h0M141.3 624.2h0M141.4 623.8h0M141.4 623.5h0M141.5 623.1h0M141.6 597.5h0M141.6 594.9h0M141.7 545.5h0M141.8 535.1h0M146.1 652.7h0M146.4 652.0h0M146.7 651.3h0M147.0 650.7h0M147.3 650.0h0M147.6 649.4h0M147.9 648.7h0M148.2 648.0h0M148.4 647.4h0M148.7 646.7h0M149.0 646.2h0M149.3 645.9h0M149.6 645.6h0M149.9 645.3h0M150.2 645.0h0M150.5 644.7h0M150.7 644.4h0M151.0 644.1h0M151.3 643.8h0M151.6 643.6h0M151.9 643.3h0M152.2 643.0h0M152.5 642.7h0M152.7 642.4h0M153.0 642.1h0M153.3 641.8h0M153.6 641.5h0M153.9 641.2h0M154.2 640.9h0M154.5 640.6h0M154.8 640.4h0M155.0 640.1h0M155.3 639.8h0M155.6 639.5h0M155.9 639.2h0M156.2 638.9h0M156.5 638.7h0M156.8 638.4h0M157.1 638.1h0M157.3 637.8h0M157.6 637.5h0M157.9 637.2h0M158.2 636.9h0M158.5 636.7h0M158.8 636.4h0M159.1 636.1h0M159.4 635.8h0M159.6 635.5h0M159.9 635.2h0M160.2 635.0h0M160.5 634.7h0M160.8 634.4h0M161.1 634.1h0M161.4 634.0h0M161.6 633.8h0M161.9 633.7h0M162.2 633.5h0M162.5 633.4h0M162.8 633.2h0M163.1 633.1h0M163.4 632.9h0M163.7 632.8h0M163.9 632.6h0M164.2 632.5h0M164.5 632.3h0M164.8 632.2h0M165.1 632.0h0M165.4 631.9h0M165.7 631.7h0M166.0 631.6h0M166.2 631.4h0M166.5 631.3h0M166.8 631.1h0M167.1 631.0h0M167.4 630.8h0M167.7 630.6h0M168.0 630.4h0M168.3 630.2h0M168.5 629.9h0M168.8 629.7h0M169.1 629.4h0M169.4 629.2h0M169.7 629.0h0M170.0 628.7h0M170.3 628.5h0M170.5 628.3h0M170.8 628.0h0M171.1 627.8h0M171.4 627.6h0M171.7 627.3h0M172.0 627.1h0M172.3 626.9h0M172.6 626.6h0M172.8 626.4h0M173.1 625.9h0M173.4 625.2h0M173.7 624.6h0M174.0 623.9h0M174.3 623.2h0M174.6 622.5h0M174.9 621.8h0M179.3 652.6h0M179.4 651.8h0M179.5 651.1h0M179.7 650.3h0M179.8 649.5h0M179.9 648.8h0M180.1 648.0h0M180.2 647.2h0M180.3 646.4h0M180.5 646.2h0M180.6 646.0h0M180.7 645.8h0M180.9 645.7h0M181.0 645.5h0M181.1 645.4h0M181.3 645.2h0M181.4 645.0h0M181.5 644.9h0M181.7 644.7h0M181.8 644.6h0M181.9 644.4h0M182.1 644.2h0M182.2 644.1h0M182.3 643.9h0M182.5 643.7h0M182.6 643.6h0M182.7 643.4h0M182.9 643.3h0M183.0 643.1h0M183.1 642.9h0M183.3 642.8h0M183.4 642.6h0M183.5 642.5h0M183.7 642.3h0M183.8 642.1h0M183.9 642.0h0M184.1 641.8h0M184.2 641.7h0M184.3 641.5h0M184.5 641.3h0M184.6 641.2h0M184.7 641.0h0M184.9 640.8h0M185.0 640.7h0M185.1 640.6h0M185.3 640.5h0M185.4 640.4h0M185.5 640.3h0M185.7 640.2h0M185.8 640.1h0M185.9 640.0h0M186.1 640.0h0M186.2 639.9h0M186.3 639.8h0M186.5 639.7h0M186.6 639.6h0M186.8 639.5h0M186.9 639.4h0M187.0 639.3h0M187.2 639.2h0M187.3 639.1h0M187.4 639.0h0M187.6 638.9h0M187.7 638.8h0M187.8 638.8h0M188.0 638.7h0M188.1 638.6h0M188.2 638.5h0M188.4 638.4h0M188.5 638.3h0M188.6 638.2h0M188.8 638.1h0M188.9 638.0h0M189.0 637.9h0M189.2 637.8h0M189.3 637.7h0M189.4 637.6h0M189.6 637.6h0M189.7 637.5h0M189.8 637.4h0M190.0 637.3h0M190.1 637.2h0M190.2 637.1h0M190.4 637.0h0M190.5 636.9h0M190.6 636.8h0M190.8 636.7h0M190.9 636.6h0M191.0 636.5h0M191.2 636.5h0M191.3 636.4h0M191.4 636.3h0M191.6 636.2h0M191.7 636.1h0M191.8 636.0h0M192.0 635.9h0M192.1 635.8h0M192.2 635.7h0M192.4 635.7h0M192.5 635.6h0M192.6 635.5h0M192.8 635.4h0M192.9 635.3h0M193.0 635.2h0M193.2 635.1h0M193.3 635.0h0M193.4 634.9h0M193.6 634.9h0M193.7 634.8h0M193.8 634.7h0M194.0 634.6h0M194.1 634.5h0M194.2 634.4h0M194.4 634.3h0M194.5 634.2h0M194.6 634.2h0M194.8 634.1h0M194.9 634.0h0M195.0 633.9h0M195.2 633.8h0M195.3 633.7h0M195.4 633.6h0M195.6 633.5h0M195.7 633.4h0M195.8 633.4h0M196.0 633.3h0M196.1 633.2h0M196.2 633.1h0M196.4 633.0h0M196.5 632.9h0M196.6 632.8h0M196.8 632.7h0M196.9 632.7h0M197.0 632.6h0M197.2 632.5h0M197.3 632.4h0M197.4 632.3h0M197.6 632.2h0M197.7 632.1h0M197.8 632.0h0M198.0 631.9h0M198.1 631.8h0M198.2 631.7h0M198.4 631.5h0M198.5 631.3h0M198.6 631.2h0M198.8 631.0h0M198.9 630.9h0M199.0 630.7h0M199.2 630.5h0M199.3 630.4h0M199.4 630.2h0M199.6 630.1h0M199.7 629.9h0M199.8 629.7h0M200.0 629.6h0M200.1 629.4h0M200.2 629.2h0M200.4 629.1h0M200.5 628.9h0M200.6 628.8h0M200.8 628.6h0M200.9 628.4h0M201.1 628.3h0M201.2 628.1h0M201.3 628.0h0M201.5 627.8h0M201.6 627.6h0M201.7 627.5h0M201.9 627.3h0M202.0 627.1h0M202.1 627.0h0M202.3 626.8h0M202.4 626.7h0M202.5 626.5h0M202.7 626.3h0M202.8 626.0h0M202.9 625.7h0M203.1 625.3h0M203.2 624.9h0M203.3 624.6h0M203.5 624.2h0M203.6 623.9h0M203.7 623.5h0M203.9 623.1h0M204.0 622.8h0M204.1 622.4h0M204.3 622.1h0M204.4 621.7h0M204.5 621.3h0M204.7 621.0h0M204.8 620.4h0M204.9 619.7h0M205.1 619.0h0M205.2 618.3h0M205.3 617.6h0M205.5 616.9h0M205.6 616.2h0M205.7 615.5h0M205.9 614.8h0M206.0 614.1h0M206.1 613.4h0M206.3 612.7h0M206.4 612.0h0M206.5 611.3h0M206.7 610.6h0M206.8 609.9h0M206.9 609.2h0M207.1 608.2h0M207.2 605.9h0M207.3 603.5h0M207.5 601.2h0M207.6 598.9h0M207.7 596.6h0M207.9 595.3h0M208.0 559.9h0M208.1 553.2h0M212.5 655.7h0M212.6 655.1h0M212.7 654.6h0M212.8 654.0h0M212.9 653.4h0M213.0 652.9h0M213.1 652.3h0M213.2 651.7h0M213.3 651.2h0M213.4 650.6h0M213.6 650.0h0M213.7 649.5h0M213.8 648.9h0M213.9 648.3h0M214.0 647.8h0M214.1 647.2h0M214.2 646.6h0M214.3 646.1h0M214.4 645.5h0M214.5 644.9h0M214.7 644.4h0M214.8 644.0h0M214.9 643.8h0M215.0 643.7h0M215.1 643.6h0M215.2 643.4h0M215.3 643.3h0M215.4 643.2h0M215.5 643.0h0M215.6 642.9h0M215.8 642.8h0M215.9 642.6h0M216.0 642.5h0M216.1 642.4h0M216.2 642.2h0M216.3 642.1h0M216.4 642.0h0M216.5 641.8h0M216.6 641.7h0M216.7 641.6h0M216.8 641.5h0M217.0 641.3h0M217.1 641.2h0M217.2 641.1h0M217.3 640.9h0M217.4 640.8h0M217.5 640.7h0M217.6 640.5h0M217.7 640.4h0M217.8 640.3h0M217.9 640.1h0M218.1 640.0h0M218.2 639.9h0M218.3 639.7h0M218.4 639.6h0M218.5 639.5h0M218.6 639.3h0M218.7 639.2h0M218.8 639.1h0M218.9 638.9h0M219.0 638.8h0M219.2 638.7h0M219.3 638.6h0M219.4 638.4h0M219.5 638.3h0M219.6 638.2h0M219.7 638.0h0M219.8 637.9h0M219.9 637.8h0M220.0 637.6h0M220.1 637.5h0M220.3 637.4h0M220.4 637.3h0M220.5 637.3h0M220.6 637.2h0M220.7 637.1h0M220.8 637.0h0M220.9 637.0h0M221.0 636.9h0M221.1 636.8h0M221.2 636.8h0M221.4 636.7h0M221.5 636.6h0M221.6 636.6h0M221.7 636.5h0M221.8 636.4h0M221.9 636.4h0M222.0 636.3h0M222.1 636.2h0M222.2 636.2h0M222.3 636.1h0M222.5 636.0h0M222.6 636.0h0M222.7 635.9h0M222.8 635.8h0M222.9 635.8h0M223.0 635.7h0M223.1 635.6h0M223.2 635.6h0M223.3 635.5h0M223.4 635.4h0M223.5 635.4h0M223.7 635.3h0M223.8 635.2h0M223.9 635.2h0M224.0 635.1h0M224.1 635.0h0M224.2 635.0h0M224.3 634.9h0M224.4 634.8h0M224.5 634.8h0M224.6 634.7h0M224.8 634.6h0M224.9 634.6h0M225.0 634.5h0M225.1 634.4h0M225.2 634.4h0M225.3 634.3h0M225.4 634.2h0M225.5 634.2h0M225.6 634.1h0M225.7 634.0h0M225.9 634.0h0M226.0 633.9h0M226.1 633.8h0M226.2 633.8h0M226.3 633.7h0M226.4 633.6h0M226.5 633.6h0M226.6 633.5h0M226.7 633.4h0M226.8 633.4h0M227.0 633.3h0M227.1 633.2h0M227.2 633.2h0M227.3 633.1h0M227.4 633.0h0M227.5 632.9h0M227.6 632.9h0M227.7 632.8h0M227.8 632.7h0M227.9 632.7h0M228.1 632.6h0M228.2 632.5h0M228.3 632.5h0M228.4 632.4h0M228.5 632.3h0M228.6 632.3h0M228.7 632.2h0M228.8 632.1h0M228.9 632.1h0M229.0 632.0h0M229.2 631.9h0M229.3 631.9h0M229.4 631.7h0M229.5 631.6h0M229.6 631.5h0M229.7 631.4h0M229.8 631.3h0M229.9 631.2h0M230.0 631.1h0M230.1 631.0h0M230.3 630.9h0M230.4 630.7h0M230.5 630.6h0M230.6 630.5h0M230.7 630.4h0M230.8 630.3h0M230.9 630.2h0M231.0 630.1h0M231.1 630.0h0M231.2 629.8h0M231.3 629.7h0M231.5 629.6h0M231.6 629.5h0M231.7 629.4h0M231.8 629.3h0M231.9 629.2h0M232.0 629.1h0M232.1 629.0h0M232.2 628.8h0M232.3 628.7h0M232.4 628.6h0M232.6 628.5h0M232.7 628.4h0M232.8 628.3h0M232.9 628.2h0M233.0 628.1h0M233.1 628.0h0M233.2 627.8h0M233.3 627.7h0M233.4 627.6h0M233.5 627.5h0M233.7 627.4h0M233.8 627.3h0M233.9 627.2h0M234.0 627.1h0M234.1 626.9h0M234.2 626.8h0M234.3 626.7h0M234.4 626.6h0M234.5 626.5h0M234.6 626.4h0M234.8 626.2h0M234.9 625.8h0M235.0 625.4h0M235.1 625.0h0M235.2 624.5h0M235.3 624.1h0M235.4 623.7h0M235.5 623.3h0M235.6 622.9h0M235.7 622.5h0M235.9 622.0h0M236.0 621.6h0M236.1 621.2h0M236.2 620.8h0M236.3 620.4h0M236.4 620.0h0M236.5 619.5h0M236.6 619.1h0M236.7 618.7h0M236.8 618.3h0M237.0 617.9h0M237.1 617.5h0M237.2 617.0h0M237.3 616.5h0M237.4 616.0h0M237.5 615.5h0M237.6 615.0h0M237.7 614.6h0M237.8 614.1h0M237.9 613.6h0M238.0 613.1h0M238.2 612.6h0M238.3 612.2h0M238.4 611.7h0M238.5 611.2h0M238.6 610.7h0M238.7 610.2h0M238.8 609.7h0M238.9 609.3h0M239.0 608.8h0M239.1 608.1h0M239.3 607.3h0M239.4 606.5h0M239.5 605.7h0M239.6 604.9h0M239.7 604.1h0M239.8 603.3h0M239.9 602.5h0M240.0 601.7h0M240.1 600.9h0M240.2 600.1h0M240.4 599.3h0M240.5 598.5h0M240.6 597.7h0M240.7 597.1h0M240.8 596.5h0M240.9 595.8h0M241.0 579.8h0M241.1 552.1h0M241.2 542.2h0M241.3 534.4h0M245.9 639.6h0M246.4 638.9h0M246.9 638.5h0M247.4 638.0h0M248.0 637.6h0M248.5 637.2h0M249.0 636.7h0M249.6 636.3h0M250.1 636.0h0M250.6 635.8h0M251.1 635.5h0M251.7 635.3h0M252.2 635.1h0M252.7 634.8h0M253.2 634.6h0M253.8 634.4h0M254.3 634.1h0M254.8 633.9h0M255.4 633.7h0M255.9 633.4h0M256.4 633.2h0M256.9 632.9h0M257.5 632.7h0M258.0 632.5h0M258.5 632.3h0M259.0 632.0h0M259.6 631.8h0M260.1 631.6h0M260.6 631.3h0M261.2 631.1h0M261.7 630.9h0M262.2 630.7h0M262.7 630.4h0M263.3 630.2h0M263.8 630.0h0M264.3 629.7h0M264.8 629.5h0M265.4 629.3h0M265.9 628.9h0M266.4 628.6h0M267.0 628.2h0M267.5 627.8h0M268.0 627.5h0M268.5 627.1h0M269.1 626.8h0M269.6 626.4h0M270.1 626.1h0M270.6 625.7h0M271.2 625.1h0M271.7 622.5h0M272.2 619.8h0M272.8 617.1h0M273.3 615.5h0M273.8 602.0h0M274.3 585.4h0M278.8 686.6h0M278.9 683.9h0M279.0 681.1h0M279.1 678.4h0M279.2 675.8h0M279.3 673.3h0M279.4 670.7h0M279.5 668.1h0M279.6 665.6h0M279.7 663.7h0M279.8 663.0h0M279.9 662.2h0M280.0 661.5h0M280.1 660.7h0M280.2 660.0h0M280.3 659.2h0M280.4 658.5h0M280.5 657.7h0M280.6 657.0h0M280.7 656.2h0M280.8 655.4h0M280.9 654.6h0M280.9 653.9h0M281.0 653.1h0M281.1 652.3h0M281.2 651.5h0M281.3 650.8h0M281.4 650.0h0M281.5 649.2h0M281.6 648.4h0M281.7 647.7h0M281.8 646.9h0M281.9 646.1h0M282.0 645.4h0M282.1 644.6h0M282.2 643.8h0M282.3 643.0h0M282.4 642.3h0M282.5 641.9h0M282.6 641.7h0M282.7 641.5h0M282.8 641.3h0M282.9 641.1h0M282.9 640.9h0M283.0 640.6h0M283.1 640.4h0M283.2 640.2h0M283.3 640.0h0M283.4 639.8h0M283.5 639.6h0M283.6 639.4h0M283.7 639.1h0M283.8 638.9h0M283.9 638.7h0M284.0 638.5h0M284.1 638.3h0M284.2 638.1h0M284.3 637.9h0M284.4 637.6h0M284.5 637.4h0M284.6 637.2h0M284.7 637.0h0M284.8 636.8h0M284.9 636.6h0M285.0 636.4h0M285.0 636.1h0M285.1 635.9h0M285.2 635.7h0M285.3 635.5h0M285.4 635.3h0M285.5 635.1h0M285.6 634.9h0M285.7 634.6h0M285.8 634.4h0M285.9 634.2h0M286.0 634.0h0M286.1 633.9h0M286.2 633.8h0M286.3 633.7h0M286.4 633.6h0M286.5 633.5h0M286.6 633.4h0M286.7 633.3h0M286.8 633.2h0M286.9 633.1h0M287.0 633.0h0M287.1 632.9h0M287.1 632.8h0M287.2 632.7h0M287.3 632.6h0M287.4 632.5h0M287.5 632.4h0M287.6 632.3h0M287.7 632.2h0M287.8 632.1h0M287.9 632.0h0M288.0 631.9h0M288.1 631.8h0M288.2 631.7h0M288.3 631.6h0M288.4 631.5h0M288.5 631.4h0M288.6 631.3h0M288.7 631.2h0M288.8 631.2h0M288.9 631.1h0M289.0 631.0h0M289.1 630.9h0M289.2 630.8h0M289.2 630.7h0M289.3 630.6h0M289.4 630.5h0M289.5 630.4h0M289.6 630.3h0M289.7 630.2h0M289.8 630.1h0M289.9 630.0h0M290.0 629.9h0M290.1 629.8h0M290.2 629.7h0M290.3 629.6h0M290.4 629.5h0M290.5 629.4h0M290.6 629.3h0M290.7 629.2h0M290.8 629.1h0M290.9 629.0h0M291.0 628.9h0M291.1 628.7h0M291.2 628.6h0M291.2 628.5h0M291.3 628.4h0M291.4 628.3h0M291.5 628.2h0M291.6 628.0h0M291.7 627.9h0M291.8 627.8h0M291.9 627.7h0M292.0 627.6h0M292.1 627.5h0M292.2 627.3h0M292.3 627.2h0M292.4 627.1h0M292.5 627.0h0M292.6 626.9h0M292.7 626.8h0M292.8 626.6h0M292.9 626.5h0M293.0 626.4h0M293.1 626.3h0M293.2 626.2h0M293.3 626.1h0M293.3 625.9h0M293.4 625.8h0M293.5 625.7h0M293.6 625.6h0M293.7 625.5h0M293.8 625.4h0M293.9 625.2h0M294.0 625.1h0M294.1 625.0h0M294.2 624.9h0M294.3 624.8h0M294.4 624.7h0M294.5 624.6h0M294.6 624.5h0M294.7 624.5h0M294.8 624.4h0M294.9 624.3h0M295.0 624.2h0M295.1 624.1h0M295.2 624.1h0M295.3 624.0h0M295.4 623.9h0M295.4 623.8h0M295.5 623.8h0M295.6 623.7h0M295.7 623.6h0M295.8 623.5h0M295.9 623.4h0M296.0 623.4h0M296.1 623.3h0M296.2 623.2h0M296.3 623.1h0M296.4 623.0h0M296.5 623.0h0M296.6 622.9h0M296.7 622.8h0M296.8 622.7h0M296.9 622.6h0M297.0 622.6h0M297.1 622.5h0M297.2 622.4h0M297.3 622.3h0M297.4 622.2h0M297.4 622.2h0M297.5 622.1h0M297.6 622.0h0M297.7 621.9h0M297.8 621.8h0M297.9 621.8h0M298.0 621.7h0M298.1 621.6h0M298.2 621.5h0M298.3 621.4h0M298.4 621.4h0M298.5 621.3h0M298.6 621.2h0M298.7 621.1h0M298.8 621.0h0M298.9 621.0h0M299.0 620.9h0M299.1 620.8h0M299.2 620.7h0M299.3 620.6h0M299.4 620.6h0M299.5 620.5h0M299.5 620.4h0M299.6 620.3h0M299.7 620.2h0M299.8 620.2h0M299.9 620.0h0M300.0 619.9h0M300.1 619.8h0M300.2 619.7h0M300.3 619.5h0M300.4 619.4h0M300.5 619.3h0M300.6 619.2h0M300.7 619.1h0M300.8 618.9h0M300.9 618.8h0M301.0 618.7h0M301.1 618.6h0M301.2 618.4h0M301.3 618.3h0M301.4 618.2h0M301.5 618.1h0M301.6 618.0h0M301.6 617.8h0M301.7 617.7h0M301.8 617.6h0M301.9 617.5h0M302.0 617.3h0M302.1 617.2h0M302.2 617.1h0M302.3 617.0h0M302.4 616.9h0M302.5 616.7h0M302.6 616.6h0M302.7 616.5h0M302.8 616.4h0M302.9 616.2h0M303.0 616.1h0M303.1 616.0h0M303.2 615.9h0M303.3 615.8h0M303.4 615.6h0M303.5 615.5h0M303.6 615.3h0M303.7 615.1h0M303.7 614.9h0M303.8 614.7h0M303.9 614.6h0M304.0 614.4h0M304.1 614.2h0M304.2 614.0h0M304.3 613.8h0M304.4 613.6h0M304.5 613.5h0M304.6 613.3h0M304.7 613.1h0M304.8 612.9h0M304.9 612.7h0M305.0 612.5h0M305.1 612.4h0M305.2 612.2h0M305.3 612.0h0M305.4 611.8h0M305.5 611.6h0M305.6 611.4h0M305.7 611.3h0M305.7 611.1h0M305.8 610.9h0M305.9 610.7h0M306.0 610.5h0M306.1 610.3h0M306.2 610.1h0M306.3 609.7h0M306.4 609.4h0M306.5 609.0h0M306.6 608.6h0M306.7 608.3h0M306.8 607.9h0M306.9 607.5h0M307.0 607.2h0M307.1 606.8h0M307.2 606.4h0M307.3 606.1h0M307.4 605.7h0M307.5 604.6h0M307.6 594.7h0M307.7 557.3h0M307.8 551.8h0M312.1 657.3h0M312.2 655.9h0M312.3 654.5h0M312.5 653.1h0M312.6 651.7h0M312.7 650.4h0M312.9 649.1h0M313.0 647.7h0M313.2 646.4h0M313.3 645.1h0M313.4 643.8h0M313.6 642.5h0M313.7 641.8h0M313.8 641.3h0M314.0 640.9h0M314.1 640.4h0M314.2 639.9h0M314.4 639.5h0M314.5 639.0h0M314.6 638.6h0M314.8 638.1h0M314.9 637.7h0M315.0 637.2h0M315.2 636.7h0M315.3 636.3h0M315.5 635.8h0M315.6 635.4h0M315.7 634.9h0M315.9 634.5h0M316.0 634.0h0M316.1 633.5h0M316.3 633.1h0M316.4 632.8h0M316.5 632.6h0M316.7 632.4h0M316.8 632.2h0M316.9 632.0h0M317.1 631.8h0M317.2 631.6h0M317.4 631.4h0M317.5 631.2h0M317.6 631.0h0M317.8 630.8h0M317.9 630.6h0M318.0 630.4h0M318.2 630.2h0M318.3 630.0h0M318.4 629.8h0M318.6 629.6h0M318.7 629.4h0M318.8 629.2h0M319.0 629.0h0M319.1 628.8h0M319.2 628.6h0M319.4 628.4h0M319.5 628.2h0M319.7 628.0h0M319.8 627.8h0M319.9 627.6h0M320.1 627.4h0M320.2 627.2h0M320.3 627.1h0M320.5 626.9h0M320.6 626.7h0M320.7 626.5h0M320.9 626.3h0M321.0 626.2h0M321.1 626.0h0M321.3 625.8h0M321.4 625.6h0M321.6 625.4h0M321.7 625.3h0M321.8 625.1h0M322.0 624.9h0M322.1 624.7h0M322.2 624.5h0M322.4 624.4h0M322.5 624.2h0M322.6 624.0h0M322.8 623.8h0M322.9 623.7h0M323.0 623.5h0M323.2 623.3h0M323.3 623.1h0M323.5 622.9h0M323.6 622.8h0M323.7 622.6h0M323.9 622.4h0M324.0 622.2h0M324.1 622.0h0M324.3 621.9h0M324.4 621.7h0M324.5 621.5h0M324.7 621.3h0M324.8 621.1h0M324.9 621.0h0M325.1 620.8h0M325.2 620.6h0M325.3 620.4h0M325.5 620.2h0M325.6 620.1h0M325.8 619.9h0M325.9 619.7h0M326.0 619.5h0M326.2 619.3h0M326.3 619.1h0M326.4 618.9h0M326.6 618.8h0M326.7 618.6h0M326.8 618.4h0M327.0 618.2h0M327.1 618.0h0M327.2 617.8h0M327.4 617.6h0M327.5 617.5h0M327.7 617.3h0M327.8 617.1h0M327.9 616.9h0M328.1 616.7h0M328.2 616.5h0M328.3 616.3h0M328.5 616.2h0M328.6 616.0h0M328.7 615.8h0M328.9 615.6h0M329.0 615.4h0M329.1 615.2h0M329.3 615.1h0M329.4 614.9h0M329.5 614.7h0M329.7 614.5h0M329.8 614.3h0M330.0 614.1h0M330.1 613.9h0M330.2 613.8h0M330.4 613.6h0M330.5 613.4h0M330.6 613.2h0M330.8 613.0h0M330.9 612.7h0M331.0 612.2h0M331.2 611.7h0M331.3 611.2h0M331.4 610.7h0M331.6 610.1h0M331.7 609.6h0M331.9 609.1h0M332.0 608.6h0M332.1 608.1h0M332.3 607.6h0M332.4 607.1h0M332.5 606.6h0M332.7 606.1h0M332.8 605.6h0M332.9 605.1h0M333.1 604.5h0M333.2 604.0h0M333.3 603.5h0M333.5 603.0h0M333.6 602.5h0M333.8 602.0h0M333.9 601.4h0M334.0 600.9h0M334.2 600.3h0M334.3 599.7h0M334.4 599.1h0M334.6 598.6h0M334.7 598.0h0M334.8 597.4h0M335.0 596.9h0M335.1 596.3h0M335.2 595.7h0M335.4 595.1h0M335.5 594.6h0M335.6 594.0h0M335.8 593.4h0M335.9 592.9h0M336.1 592.3h0M336.2 591.7h0M336.3 591.1h0M336.5 590.5h0M336.6 589.9h0M336.7 589.3h0M336.9 588.6h0M337.0 588.0h0M337.1 587.4h0M337.3 586.7h0M337.4 586.1h0M337.5 585.5h0M337.7 584.8h0M337.8 584.2h0M338.0 583.5h0M338.1 582.9h0M338.2 582.3h0M338.4 581.7h0M338.5 581.4h0M338.6 581.0h0M338.8 580.6h0M338.9 580.2h0M339.0 579.9h0M339.2 579.5h0M339.3 579.1h0M339.4 578.7h0M339.6 578.3h0M339.7 578.0h0M339.8 577.6h0M340.0 577.2h0M340.1 576.8h0M340.3 576.5h0M340.4 576.1h0M340.5 575.3h0M340.7 574.3h0M340.8 558.2h0M340.9 547.3h0M345.6 658.7h0M346.4 654.0h0M347.2 651.1h0M347.9 648.1h0M348.7 645.1h0M349.5 641.3h0M350.3 637.6h0M351.1 633.9h0M351.9 630.4h0M352.6 627.0h0M353.4 624.7h0M354.2 623.4h0M355.0 622.2h0M355.8 621.0h0M356.6 619.7h0M357.3 618.8h0M358.1 617.8h0M358.9 616.9h0M359.7 615.9h0M360.5 615.0h0M361.3 614.0h0M362.1 613.1h0M362.8 612.3h0M363.6 611.5h0M364.4 610.7h0M365.2 609.9h0M366.0 609.1h0M366.8 608.0h0M367.5 606.7h0M368.3 605.3h0M369.1 604.0h0M369.9 602.2h0M370.7 600.0h0M371.5 597.7h0M372.2 595.5h0M373.0 572.2h0M373.8 564.4h0M378.5 644.4h0M378.7 635.7h0M379.0 634.6h0M379.2 633.5h0M379.4 632.4h0M379.7 631.3h0M379.9 630.2h0M380.1 629.1h0M380.4 628.0h0M380.6 626.9h0M380.8 625.7h0M381.1 624.6h0M381.3 624.4h0M381.5 624.2h0M381.8 624.1h0M382.0 623.9h0M382.2 623.7h0M382.5 623.6h0M382.7 623.4h0M382.9 623.3h0M383.2 623.1h0M383.4 623.0h0M383.6 622.8h0M383.9 622.6h0M384.1 622.4h0M384.3 622.2h0M384.5 622.0h0M384.8 621.9h0M385.0 621.7h0M385.2 621.5h0M385.5 621.3h0M385.7 621.1h0M385.9 620.9h0M386.2 620.7h0M386.4 620.5h0M386.6 620.3h0M386.9 620.2h0M387.1 620.0h0M387.3 619.8h0M387.6 619.6h0M387.8 619.4h0M388.0 619.1h0M388.3 618.9h0M388.5 618.6h0M388.7 618.3h0M389.0 618.1h0M389.2 617.8h0M389.4 617.5h0M389.7 617.3h0M389.9 617.0h0M390.1 616.7h0M390.3 616.5h0M390.6 616.2h0M390.8 615.9h0M391.0 615.6h0M391.3 615.4h0M391.5 615.1h0M391.7 614.8h0M392.0 614.6h0M392.2 614.3h0M392.4 614.0h0M392.7 613.8h0M392.9 613.5h0M393.1 613.1h0M393.4 612.8h0M393.6 612.5h0M393.8 612.1h0M394.1 611.8h0M394.3 611.4h0M394.5 611.0h0M394.8 610.7h0M395.0 610.4h0M395.2 610.0h0M395.5 609.6h0M395.7 609.3h0M395.9 608.9h0M396.1 608.6h0M396.4 608.2h0M396.6 607.9h0M396.8 607.5h0M397.1 607.2h0M397.3 606.8h0M397.5 606.5h0M397.8 606.1h0M398.0 605.8h0M398.2 605.5h0M398.5 605.2h0M398.7 604.9h0M398.9 604.6h0M399.2 604.3h0M399.4 604.0h0M399.6 603.6h0M399.9 603.3h0M400.1 603.0h0M400.3 602.7h0M400.6 602.4h0M400.8 602.1h0M401.0 601.8h0M401.3 601.5h0M401.5 601.2h0M401.7 600.9h0M401.9 600.6h0M402.2 600.3h0M402.4 599.9h0M402.6 599.6h0M402.9 599.3h0M403.1 599.0h0M403.3 598.5h0M403.6 598.1h0M403.8 597.6h0M404.0 597.2h0M404.3 596.7h0M404.5 596.3h0M404.7 595.8h0M405.0 595.4h0M405.2 594.9h0M405.4 594.5h0M405.7 594.0h0M405.9 593.5h0M406.1 593.1h0M406.4 592.6h0M406.6 591.6h0M406.8 588.6h0M407.1 585.7h0M407.3 574.5h0M411.6 660.6h0M411.7 657.8h0M411.8 655.0h0M411.8 653.4h0M411.9 652.9h0M412.0 652.3h0M412.0 651.7h0M412.1 651.1h0M412.2 650.6h0M412.3 650.0h0M412.3 649.4h0M412.4 648.8h0M412.5 648.3h0M412.5 647.7h0M412.6 647.1h0M412.7 646.5h0M412.7 646.0h0M412.8 645.4h0M412.9 644.8h0M412.9 644.3h0M413.0 643.7h0M413.1 643.1h0M413.2 642.5h0M413.2 642.0h0M413.3 641.4h0M413.4 640.8h0M413.4 640.2h0M413.5 639.7h0M413.6 639.1h0M413.6 638.5h0M413.7 638.0h0M413.8 637.8h0M413.8 637.6h0M413.9 637.4h0M414.0 637.2h0M414.1 637.0h0M414.1 636.8h0M414.2 636.6h0M414.3 636.4h0M414.3 636.2h0M414.4 636.0h0M414.5 635.8h0M414.5 635.6h0M414.6 635.4h0M414.7 635.2h0M414.7 635.0h0M414.8 634.7h0M414.9 634.5h0M414.9 634.3h0M415.0 634.1h0M415.1 633.9h0M415.2 633.7h0M415.2 633.5h0M415.3 633.3h0M415.4 633.1h0M415.4 632.9h0M415.5 632.7h0M415.6 632.5h0M415.6 632.3h0M415.7 632.1h0M415.8 631.9h0M415.8 631.7h0M415.9 631.5h0M416.0 631.2h0M416.1 631.0h0M416.1 630.8h0M416.2 630.6h0M416.3 630.4h0M416.3 630.2h0M416.4 630.0h0M416.5 629.8h0M416.5 629.6h0M416.6 629.4h0M416.7 629.2h0M416.7 629.0h0M416.8 628.8h0M416.9 628.6h0M417.0 628.5h0M417.0 628.4h0M417.1 628.3h0M417.2 628.2h0M417.2 628.1h0M417.3 627.9h0M417.4 627.8h0M417.4 627.7h0M417.5 627.6h0M417.6 627.5h0M417.6 627.4h0M417.7 627.2h0M417.8 627.1h0M417.8 627.0h0M417.9 626.9h0M418.0 626.8h0M418.1 626.7h0M418.1 626.5h0M418.2 626.4h0M418.3 626.3h0M418.3 626.2h0M418.4 626.1h0M418.5 626.0h0M418.5 625.8h0M418.6 625.7h0M418.7 625.6h0M418.7 625.5h0M418.8 625.4h0M418.9 625.3h0M419.0 625.1h0M419.0 625.0h0M419.1 624.9h0M419.2 624.8h0M419.2 624.7h0M419.3 624.6h0M419.4 624.4h0M419.4 624.3h0M419.5 624.2h0M419.6 624.1h0M419.6 624.0h0M419.7 623.9h0M419.8 623.7h0M419.9 623.6h0M419.9 623.5h0M420.0 623.4h0M420.1 623.3h0M420.1 623.2h0M420.2 623.0h0M420.3 622.9h0M420.3 622.8h0M420.4 622.7h0M420.5 622.6h0M420.5 622.5h0M420.6 622.3h0M420.7 622.2h0M420.7 622.1h0M420.8 622.0h0M420.9 621.9h0M421.0 621.8h0M421.0 621.6h0M421.1 621.5h0M421.2 621.4h0M421.2 621.3h0M421.3 621.2h0M421.4 621.1h0M421.4 620.9h0M421.5 620.8h0M421.6 620.7h0M421.6 620.6h0M421.7 620.5h0M421.8 620.4h0M421.9 620.2h0M421.9 620.1h0M422.0 620.0h0M422.1 619.9h0M422.1 619.8h0M422.2 619.7h0M422.3 619.5h0M422.3 619.4h0M422.4 619.3h0M422.5 619.2h0M422.5 619.1h0M422.6 619.0h0M422.7 618.8h0M422.8 618.7h0M422.8 618.6h0M422.9 618.5h0M423.0 618.4h0M423.0 618.3h0M423.1 618.1h0M423.2 618.0h0M423.2 617.9h0M423.3 617.8h0M423.4 617.7h0M423.4 617.6h0M423.5 617.5h0M423.6 617.3h0M423.6 617.2h0M423.7 617.1h0M423.8 617.0h0M423.9 616.9h0M423.9 616.8h0M424.0 616.6h0M424.1 616.5h0M424.1 616.4h0M424.2 616.3h0M424.3 616.2h0M424.3 616.1h0M424.4 615.9h0M424.5 615.8h0M424.5 615.7h0M424.6 615.6h0M424.7 615.5h0M424.8 615.4h0M424.8 615.2h0M424.9 615.1h0M425.0 615.0h0M425.0 614.9h0M425.1 614.8h0M425.2 614.7h0M425.2 614.6h0M425.3 614.4h0M425.4 614.3h0M425.4 614.2h0M425.5 614.1h0M425.6 614.0h0M425.7 613.9h0M425.7 613.7h0M425.8 613.6h0M425.9 613.5h0M425.9 613.4h0M426.0 613.3h0M426.1 613.2h0M426.1 613.1h0M426.2 613.0h0M426.3 612.9h0M426.3 612.8h0M426.4 612.7h0M426.5 612.6h0M426.5 612.5h0M426.6 612.4h0M426.7 612.3h0M426.8 612.3h0M426.8 612.2h0M426.9 612.1h0M427.0 612.0h0M427.0 611.9h0M427.1 611.8h0M427.2 611.7h0M427.2 611.6h0M427.3 611.5h0M427.4 611.5h0M427.4 611.4h0M427.5 611.3h0M427.6 611.2h0M427.7 611.1h0M427.7 611.0h0M427.8 610.9h0M427.9 610.8h0M427.9 610.7h0M428.0 610.7h0M428.1 610.6h0M428.1 610.5h0M428.2 610.4h0M428.3 610.3h0M428.3 610.2h0M428.4 610.1h0M428.5 610.0h0M428.6 609.9h0M428.6 609.9h0M428.7 609.8h0M428.8 609.7h0M428.8 609.6h0M428.9 609.5h0M429.0 609.4h0M429.0 609.3h0M429.1 609.2h0M429.2 609.1h0M429.2 609.1h0M429.3 609.0h0M429.4 608.9h0M429.4 608.8h0M429.5 608.7h0M429.6 608.6h0M429.7 608.5h0M429.7 608.4h0M429.8 608.3h0M429.9 608.3h0M429.9 608.2h0M430.0 608.1h0M430.1 608.0h0M430.1 607.9h0M430.2 607.8h0M430.3 607.7h0M430.3 607.6h0M430.4 607.5h0M430.5 607.5h0M430.6 607.4h0M430.6 607.3h0M430.7 607.2h0M430.8 607.1h0M430.8 607.0h0M430.9 606.9h0M431.0 606.8h0M431.0 606.7h0M431.1 606.6h0M431.2 606.6h0M431.2 606.5h0M431.3 606.4h0M431.4 606.3h0M431.5 606.2h0M431.5 606.1h0M431.6 606.0h0M431.7 605.9h0M431.7 605.8h0M431.8 605.7h0M431.9 605.6h0M431.9 605.5h0M432.0 605.5h0M432.1 605.4h0M432.1 605.3h0M432.2 605.2h0M432.3 605.1h0M432.3 605.0h0M432.4 604.9h0M432.5 604.8h0M432.6 604.7h0M432.6 604.6h0M432.7 604.5h0M432.8 604.5h0M432.8 604.4h0M432.9 604.3h0M433.0 604.2h0M433.0 604.1h0M433.1 604.0h0M433.2 603.9h0M433.2 603.8h0M433.3 603.7h0M433.4 603.6h0M433.5 603.5h0M433.5 603.4h0M433.6 603.4h0M433.7 603.3h0M433.7 603.2h0M433.8 603.1h0M433.9 603.0h0M433.9 602.9h0M434.0 602.8h0M434.1 602.7h0M434.1 602.6h0M434.2 602.5h0M434.3 602.4h0M434.4 602.3h0M434.4 602.3h0M434.5 602.2h0M434.6 602.1h0M434.6 602.0h0M434.7 601.9h0M434.8 601.8h0M434.8 601.7h0M434.9 601.6h0M435.0 601.5h0M435.0 601.4h0M435.1 601.3h0M435.2 601.2h0M435.2 601.2h0M435.3 601.1h0M435.4 601.0h0M435.5 600.9h0M435.5 600.8h0M435.6 600.7h0M435.7 600.6h0M435.7 600.5h0M435.8 600.3h0M435.9 600.2h0M435.9 600.0h0M436.0 599.9h0M436.1 599.8h0M436.1 599.6h0M436.2 599.5h0M436.3 599.3h0M436.4 599.2h0M436.4 599.1h0M436.5 598.9h0M436.6 598.8h0M436.6 598.6h0M436.7 598.5h0M436.8 598.3h0M436.8 598.2h0M436.9 598.1h0M437.0 597.9h0M437.0 597.8h0M437.1 597.6h0M437.2 597.5h0M437.3 597.3h0M437.3 597.2h0M437.4 597.1h0M437.5 596.9h0M437.5 596.8h0M437.6 596.6h0M437.7 596.5h0M437.7 596.4h0M437.8 596.2h0M437.9 596.1h0M437.9 595.9h0M438.0 595.8h0M438.1 595.6h0M438.1 595.5h0M438.2 595.4h0M438.3 595.2h0M438.4 595.1h0M438.4 594.9h0M438.5 594.8h0M438.6 594.7h0M438.6 594.5h0M438.7 594.3h0M438.8 593.9h0M438.8 593.5h0M438.9 593.1h0M439.0 592.7h0M439.0 592.4h0M439.1 592.0h0M439.2 591.6h0M439.3 591.2h0M439.3 590.8h0M439.4 590.4h0M439.5 590.0h0M439.5 589.6h0M439.6 589.2h0M439.7 588.8h0M439.7 588.4h0M439.8 588.0h0M439.9 587.6h0M439.9 587.3h0M440.0 586.9h0M440.1 586.5h0M440.2 586.1h0M440.2 585.2h0M440.3 584.3h0M440.4 583.3h0M440.4 582.4h0M440.5 581.4h0M440.6 572.5h0M444.8 677.8h0M444.9 677.5h0M445.0 677.1h0M445.0 676.7h0M445.1 676.4h0M445.2 676.0h0M445.3 675.7h0M445.3 675.3h0M445.4 674.9h0M445.5 674.6h0M445.5 674.2h0M445.6 673.9h0M445.7 673.5h0M445.7 673.1h0M445.8 672.8h0M445.9 672.4h0M446.0 672.1h0M446.0 671.2h0M446.1 670.2h0M446.2 669.2h0M446.2 668.2h0M446.3 667.2h0M446.4 666.2h0M446.4 665.3h0M446.5 664.3h0M446.6 663.3h0M446.6 662.3h0M446.7 661.3h0M446.8 660.4h0M446.9 659.4h0M446.9 658.4h0M447.0 657.4h0M447.1 656.4h0M447.1 655.5h0M447.2 654.5h0M447.3 653.5h0M447.3 652.5h0M447.4 651.5h0M447.5 650.5h0M447.6 649.6h0M447.6 648.6h0M447.7 647.6h0M447.8 646.6h0M447.8 645.6h0M447.9 644.6h0M448.0 643.6h0M448.0 642.6h0M448.1 641.6h0M448.2 640.6h0M448.3 639.7h0M448.3 638.7h0M448.4 637.7h0M448.5 636.7h0M448.5 635.7h0M448.6 634.7h0M448.7 633.7h0M448.7 632.7h0M448.8 631.7h0M448.9 630.7h0M448.9 629.7h0M449.0 628.7h0M449.1 627.7h0M449.2 626.7h0M449.2 625.7h0M449.3 625.4h0M449.4 625.2h0M449.4 624.9h0M449.5 624.7h0M449.6 624.5h0M449.6 624.2h0M449.7 624.0h0M449.8 623.8h0M449.9 623.6h0M449.9 623.3h0M450.0 623.1h0M450.1 622.9h0M450.1 622.6h0M450.2 622.4h0M450.3 622.2h0M450.3 621.9h0M450.4 621.7h0M450.5 621.5h0M450.6 621.2h0M450.6 621.0h0M450.7 620.8h0M450.8 620.5h0M450.8 620.3h0M450.9 620.1h0M451.0 619.8h0M451.0 619.6h0M451.1 619.4h0M451.2 619.2h0M451.2 618.9h0M451.3 618.7h0M451.4 618.5h0M451.5 618.2h0M451.5 618.0h0M451.6 617.8h0M451.7 617.7h0M451.7 617.6h0M451.8 617.5h0M451.9 617.5h0M451.9 617.4h0M452.0 617.3h0M452.1 617.2h0M452.2 617.1h0M452.2 617.0h0M452.3 617.0h0M452.4 616.9h0M452.4 616.8h0M452.5 616.7h0M452.6 616.6h0M452.6 616.5h0M452.7 616.4h0M452.8 616.4h0M452.9 616.3h0M452.9 616.2h0M453.0 616.1h0M453.1 616.0h0M453.1 615.9h0M453.2 615.9h0M453.3 615.8h0M453.3 615.7h0M453.4 615.6h0M453.5 615.5h0M453.5 615.4h0M453.6 615.4h0M453.7 615.3h0M453.8 615.2h0M453.8 615.1h0M453.9 615.0h0M454.0 614.9h0M454.0 614.9h0M454.1 614.8h0M454.2 614.7h0M454.2 614.6h0M454.3 614.5h0M454.4 614.4h0M454.5 614.4h0M454.5 614.3h0M454.6 614.2h0M454.7 614.1h0M454.7 614.0h0M454.8 613.9h0M454.9 613.9h0M454.9 613.8h0M455.0 613.7h0M455.1 613.6h0M455.2 613.5h0M455.2 613.4h0M455.3 613.4h0M455.4 613.3h0M455.4 613.2h0M455.5 613.1h0M455.6 613.0h0M455.6 613.0h0M455.7 612.9h0M455.8 612.9h0M455.8 612.8h0M455.9 612.8h0M456.0 612.7h0M456.1 612.6h0M456.1 612.6h0M456.2 612.5h0M456.3 612.5h0M456.3 612.4h0M456.4 612.3h0M456.5 612.3h0M456.5 612.2h0M456.6 612.2h0M456.7 612.1h0M456.8 612.1h0M456.8 612.0h0M456.9 611.9h0M457.0 611.9h0M457.0 611.8h0M457.1 611.8h0M457.2 611.7h0M457.2 611.7h0M457.3 611.6h0M457.4 611.5h0M457.5 611.5h0M457.5 611.4h0M457.6 611.4h0M457.7 611.3h0M457.7 611.2h0M457.8 611.2h0M457.9 611.1h0M457.9 611.1h0M458.0 611.0h0M458.1 611.0h0M458.1 610.9h0M458.2 610.8h0M458.3 610.8h0M458.4 610.7h0M458.4 610.7h0M458.5 610.6h0M458.6 610.6h0M458.6 610.5h0M458.7 610.4h0M458.8 610.4h0M458.8 610.3h0M458.9 610.3h0M459.0 610.2h0M459.1 610.1h0M459.1 610.1h0M459.2 610.0h0M459.3 610.0h0M459.3 609.9h0M459.4 609.9h0M459.5 609.8h0M459.5 609.7h0M459.6 609.7h0M459.7 609.6h0M459.8 609.6h0M459.8 609.5h0M459.9 609.5h0M460.0 609.4h0M460.0 609.3h0M460.1 609.3h0M460.2 609.2h0M460.2 609.2h0M460.3 609.1h0M460.4 609.1h0M460.5 609.0h0M460.5 609.0h0M460.6 608.9h0M460.7 608.9h0M460.7 608.8h0M460.8 608.7h0M460.9 608.7h0M460.9 608.6h0M461.0 608.6h0M461.1 608.5h0M461.1 608.5h0M461.2 608.4h0M461.3 608.4h0M461.4 608.3h0M461.4 608.3h0M461.5 608.2h0M461.6 608.2h0M461.6 608.1h0M461.7 608.1h0M461.8 608.0h0M461.8 608.0h0M461.9 607.9h0M462.0 607.8h0M462.1 607.8h0M462.1 607.7h0M462.2 607.7h0M462.3 607.6h0M462.3 607.6h0M462.4 607.5h0M462.5 607.5h0M462.5 607.4h0M462.6 607.4h0M462.7 607.3h0M462.8 607.3h0M462.8 607.2h0M462.9 607.2h0M463.0 607.1h0M463.0 607.1h0M463.1 607.0h0M463.2 607.0h0M463.2 606.9h0M463.3 606.8h0M463.4 606.8h0M463.4 606.7h0M463.5 606.7h0M463.6 606.6h0M463.7 606.6h0M463.7 606.5h0M463.8 606.5h0M463.9 606.4h0M463.9 606.4h0M464.0 606.3h0M464.1 606.3h0M464.1 606.2h0M464.2 606.2h0M464.3 606.1h0M464.4 606.1h0M464.4 606.0h0M464.5 605.9h0M464.6 605.9h0M464.6 605.8h0M464.7 605.8h0M464.8 605.7h0M464.8 605.7h0M464.9 605.6h0M465.0 605.6h0M465.1 605.5h0M465.1 605.5h0M465.2 605.4h0M465.3 605.4h0M465.3 605.3h0M465.4 605.3h0M465.5 605.2h0M465.5 605.2h0M465.6 605.1h0M465.7 605.1h0M465.7 605.0h0M465.8 604.9h0M465.9 604.9h0M466.0 604.8h0M466.0 604.8h0M466.1 604.7h0M466.2 604.7h0M466.2 604.6h0M466.3 604.6h0M466.4 604.5h0M466.4 604.5h0M466.5 604.4h0M466.6 604.3h0M466.7 604.2h0M466.7 604.1h0M466.8 604.0h0M466.9 604.0h0M466.9 603.9h0M467.0 603.8h0M467.1 603.7h0M467.1 603.6h0M467.2 603.6h0M467.3 603.5h0M467.4 603.4h0M467.4 603.3h0M467.5 603.2h0M467.6 603.1h0M467.6 603.1h0M467.7 603.0h0M467.8 602.9h0M467.8 602.8h0M467.9 602.7h0M468.0 602.7h0M468.0 602.6h0M468.1 602.5h0M468.2 602.4h0M468.3 602.3h0M468.3 602.2h0M468.4 602.2h0M468.5 602.1h0M468.5 602.0h0M468.6 601.9h0M468.7 601.8h0M468.7 601.8h0M468.8 601.7h0M468.9 601.6h0M469.0 601.5h0M469.0 601.4h0M469.1 601.4h0M469.2 601.3h0M469.2 601.2h0M469.3 601.1h0M469.4 601.0h0M469.4 600.9h0M469.5 600.9h0M469.6 600.8h0M469.7 600.7h0M469.7 600.6h0M469.8 600.5h0M469.9 600.5h0M469.9 600.4h0M470.0 600.3h0M470.1 600.2h0M470.1 600.1h0M470.2 600.0h0M470.3 600.0h0M470.3 599.9h0M470.4 599.8h0M470.5 599.7h0M470.6 599.6h0M470.6 599.6h0M470.7 599.5h0M470.8 599.4h0M470.8 599.3h0M470.9 599.2h0M471.0 599.1h0M471.0 599.1h0M471.1 599.0h0M471.2 598.7h0M471.3 598.5h0M471.3 598.3h0M471.4 598.0h0M471.5 597.8h0M471.5 597.6h0M471.6 597.4h0M471.7 597.1h0M471.7 596.9h0M471.8 596.7h0M471.9 596.4h0M472.0 596.2h0M472.0 596.0h0M472.1 595.8h0M472.2 595.5h0M472.2 595.3h0M472.3 595.1h0M472.4 594.8h0M472.4 594.6h0M472.5 594.4h0M472.6 594.1h0M472.6 593.9h0M472.7 593.7h0M472.8 593.5h0M472.9 593.2h0M472.9 593.0h0M473.0 592.4h0M473.1 591.8h0M473.1 591.2h0M473.2 590.6h0M473.3 590.0h0M473.3 589.4h0M473.4 588.8h0M473.5 588.2h0M473.6 586.6h0M473.6 584.4h0M473.7 567.8h0M473.8 560.0h0M478.1 677.2h0M478.2 675.5h0M478.3 673.8h0M478.4 672.1h0M478.5 670.4h0M478.6 668.7h0M478.7 666.9h0M478.8 664.8h0M479.0 662.8h0M479.1 660.8h0M479.2 658.8h0M479.3 656.7h0M479.4 654.7h0M479.5 652.7h0M479.6 650.6h0M479.8 649.0h0M479.9 648.1h0M480.0 647.2h0M480.1 646.2h0M480.2 645.3h0M480.3 644.4h0M480.4 643.4h0M480.5 642.5h0M480.7 641.6h0M480.8 640.6h0M480.9 639.7h0M481.0 638.7h0M481.1 637.8h0M481.2 636.9h0M481.3 635.9h0M481.5 635.0h0M481.6 634.2h0M481.7 633.5h0M481.8 632.7h0M481.9 631.9h0M482.0 631.2h0M482.1 630.4h0M482.2 629.7h0M482.4 628.9h0M482.5 628.2h0M482.6 627.4h0M482.7 626.6h0M482.8 625.9h0M482.9 625.1h0M483.0 624.4h0M483.2 623.6h0M483.3 622.9h0M483.4 622.1h0M483.5 621.4h0M483.6 620.6h0M483.7 619.8h0M483.8 619.1h0M483.9 618.3h0M484.1 617.6h0M484.2 616.8h0M484.3 616.3h0M484.4 616.0h0M484.5 615.6h0M484.6 615.2h0M484.7 614.8h0M484.9 614.5h0M485.0 614.1h0M485.1 613.7h0M485.2 613.3h0M485.3 613.0h0M485.4 612.6h0M485.5 612.2h0M485.6 611.8h0M485.8 611.5h0M485.9 611.1h0M486.0 610.7h0M486.1 610.3h0M486.2 610.0h0M486.3 609.6h0M486.4 609.2h0M486.6 608.8h0M486.7 608.5h0M486.8 608.1h0M486.9 607.7h0M487.0 607.4h0M487.1 607.2h0M487.2 607.1h0M487.3 606.9h0M487.5 606.8h0M487.6 606.6h0M487.7 606.5h0M487.8 606.3h0M487.9 606.2h0M488.0 606.0h0M488.1 605.9h0M488.3 605.8h0M488.4 605.6h0M488.5 605.5h0M488.6 605.3h0M488.7 605.2h0M488.8 605.0h0M488.9 604.9h0M489.0 604.7h0M489.2 604.6h0M489.3 604.4h0M489.4 604.3h0M489.5 604.1h0M489.6 604.0h0M489.7 603.8h0M489.8 603.7h0M490.0 603.5h0M490.1 603.4h0M490.2 603.2h0M490.3 603.1h0M490.4 602.9h0M490.5 602.8h0M490.6 602.6h0M490.7 602.5h0M490.9 602.3h0M491.0 602.2h0M491.1 602.1h0M491.2 601.9h0M491.3 601.8h0M491.4 601.6h0M491.5 601.5h0M491.7 601.3h0M491.8 601.2h0M491.9 601.0h0M492.0 600.9h0M492.1 600.7h0M492.2 600.6h0M492.3 600.4h0M492.4 600.3h0M492.6 600.1h0M492.7 600.0h0M492.8 599.9h0M492.9 599.7h0M493.0 599.6h0M493.1 599.5h0M493.2 599.3h0M493.3 599.2h0M493.5 599.1h0M493.6 599.0h0M493.7 598.8h0M493.8 598.7h0M493.9 598.6h0M494.0 598.4h0M494.1 598.3h0M494.3 598.2h0M494.4 598.0h0M494.5 597.9h0M494.6 597.8h0M494.7 597.6h0M494.8 597.5h0M494.9 597.4h0M495.0 597.2h0M495.2 597.1h0M495.3 597.0h0M495.4 596.8h0M495.5 596.7h0M495.6 596.6h0M495.7 596.5h0M495.8 596.3h0M496.0 596.2h0M496.1 596.1h0M496.2 595.9h0M496.3 595.8h0M496.4 595.7h0M496.5 595.5h0M496.6 595.4h0M496.7 595.3h0M496.9 595.1h0M497.0 595.0h0M497.1 594.9h0M497.2 594.7h0M497.3 594.6h0M497.4 594.5h0M497.5 594.3h0M497.7 594.2h0M497.8 594.1h0M497.9 593.9h0M498.0 593.8h0M498.1 593.6h0M498.2 593.3h0M498.3 593.1h0M498.4 592.8h0M498.6 592.6h0M498.7 592.3h0M498.8 592.1h0M498.9 591.8h0M499.0 591.6h0M499.1 591.3h0M499.2 591.1h0M499.4 590.8h0M499.5 590.6h0M499.6 590.3h0M499.7 590.1h0M499.8 589.8h0M499.9 589.6h0M500.0 589.3h0M500.1 589.1h0M500.3 588.8h0M500.4 588.6h0M500.5 588.3h0M500.6 588.1h0M500.7 587.8h0M500.8 587.6h0M500.9 587.3h0M501.1 587.1h0M501.2 586.8h0M501.3 586.6h0M501.4 586.3h0M501.5 586.1h0M501.6 585.8h0M501.7 585.6h0M501.8 585.3h0M502.0 585.1h0M502.1 584.8h0M502.2 584.6h0M502.3 584.3h0M502.4 584.1h0M502.5 583.8h0M502.6 583.6h0M502.8 583.3h0M502.9 583.1h0M503.0 582.8h0M503.1 582.6h0M503.2 582.3h0M503.3 582.1h0M503.4 581.8h0M503.5 581.3h0M503.7 580.9h0M503.8 580.4h0M503.9 579.9h0M504.0 579.5h0M504.1 579.0h0M504.2 578.6h0M504.3 578.1h0M504.5 577.6h0M504.6 577.2h0M504.7 576.7h0M504.8 576.3h0M504.9 575.8h0M505.0 575.3h0M505.1 574.9h0M505.2 574.4h0M505.4 574.0h0M505.5 573.5h0M505.6 573.0h0M505.7 572.6h0M505.8 572.1h0M505.9 571.3h0M506.0 570.3h0M506.2 569.3h0M506.3 568.3h0M506.4 567.4h0M506.5 566.4h0M506.6 565.4h0M506.7 564.4h0M506.8 563.5h0M506.9 550.9h0" stroke="#111" stroke-width="1.8" stroke-linecap="round" fill="none" opacity="1"/>
<path d="M46.5 681.0h0M46.9 692.3h0M46.6 702.6h0M46.6 674.1h0M46.6 685.7h0M46.9 692.3h0M46.9 685.7h0M47.0 692.3h0M46.8 677.2h0M46.8 702.6h0M47.3 677.2h0M47.4 674.1h0M47.2 692.3h0M47.5 674.1h0M47.4 677.2h0M47.7 681.0h0M47.7 702.6h0M47.8 677.2h0M47.7 681.0h0M47.7 681.0h0M48.0 685.7h0M47.9 671.1h0M48.0 671.5h0M48.1 681.0h0M48.2 692.3h0M48.2 669.6h0M48.5 685.7h0M48.4 685.7h0M48.6 681.0h0M48.6 671.5h0M48.6 685.7h0M48.7 685.7h0M48.8 669.4h0M48.8 692.3h0M48.9 692.3h0M49.3 668.8h0M49.2 692.3h0M49.3 685.7h0M49.4 685.7h0M49.3 681.0h0M49.3 685.7h0M49.4 702.6h0M49.3 677.2h0M49.7 692.3h0M49.7 692.3h0M49.5 674.1h0M49.9 692.3h0M50.0 685.7h0M50.0 669.2h0M50.1 692.3h0M50.1 685.7h0M50.3 674.1h0M50.3 668.3h0M50.3 681.0h0M50.2 685.7h0M50.3 670.8h0M50.6 671.5h0M50.7 692.3h0M50.8 681.0h0M50.7 677.2h0M50.7 685.7h0M51.0 668.2h0M51.0 692.3h0M51.2 674.1h0M51.2 666.8h0M51.2 674.1h0M51.3 681.0h0M51.3 685.7h0M51.6 668.3h0M51.5 668.2h0M51.6 681.0h0M51.6 670.0h0M51.7 681.0h0M51.7 666.1h0M52.0 674.1h0M51.9 692.3h0M51.9 677.2h0M51.9 668.8h0M52.1 668.3h0M52.3 668.9h0M52.0 677.2h0M52.3 692.3h0M52.5 677.2h0M52.4 681.0h0M52.5 685.7h0M52.7 665.8h0M52.7 664.1h0M52.8 681.0h0M53.0 665.5h0M53.0 668.9h0M52.9 692.3h0M53.1 665.9h0M53.3 666.7h0M53.3 674.1h0M53.3 681.0h0M53.4 665.9h0M53.4 671.1h0M53.6 681.0h0M53.6 692.3h0M53.6 666.3h0M53.6 674.1h0M53.9 671.5h0M53.9 685.7h0M53.8 662.7h0M54.1 668.9h0M54.3 685.7h0M54.1 667.3h0M54.0 667.4h0M54.5 685.7h0M54.3 663.0h0M54.3 674.1h0M54.5 674.1h0M54.5 674.1h0M54.8 665.5h0M54.6 692.3h0M54.7 674.1h0M54.8 669.6h0M54.9 681.0h0M55.1 661.6h0M55.1 685.7h0M55.2 692.3h0M55.1 664.2h0M55.5 666.2h0M55.5 664.8h0M55.5 685.7h0M55.5 685.7h0M55.6 692.3h0M55.5 681.0h0M55.7 661.9h0M55.9 685.7h0M56.0 671.5h0M56.2 681.0h0M56.1 685.7h0M56.1 685.7h0M56.1 677.2h0M56.3 677.2h0M56.3 674.1h0M56.4 666.4h0M56.6 674.1h0M56.5 674.1h0M56.5 671.5h0M56.7 660.9h0M56.9 685.7h0M56.9 681.0h0M57.1 681.0h0M56.9 661.3h0M56.9 677.2h0M57.3 661.4h0M57.4 661.6h0M57.1 667.5h0M57.5 668.2h0M57.4 677.2h0M57.7 663.9h0M57.5 667.0h0M57.9 681.0h0M57.7 670.5h0M57.7 664.9h0M57.9 663.1h0M57.7 665.7h0M58.0 665.2h0M58.1 677.2h0M58.1 681.0h0M58.3 670.7h0M58.4 659.3h0M58.4 659.6h0M58.4 674.1h0M58.7 692.3h0M58.7 664.9h0M58.8 681.0h0M58.7 681.0h0M58.7 671.5h0M58.8 658.6h0M59.0 668.0h0M59.0 677.2h0M59.1 674.1h0M59.3 666.1h0M59.2 685.7h0M59.4 665.5h0M59.2 664.5h0M59.5 685.7h0M59.4 660.3h0M59.7 685.7h0M59.9 661.2h0M59.8 671.5h0M59.9 681.0h0M59.9 674.1h0M59.9 681.0h0M60.1 670.8h0M60.1 660.8h0M60.2 667.6h0M60.3 685.7h0M60.6 665.1h0M60.4 681.0h0M60.5 657.7h0M60.6 671.2h0M60.7 658.7h0M60.8 664.8h0M60.9 660.5h0M60.7 681.0h0M60.8 685.7h0M61.1 681.0h0M61.0 667.9h0M61.3 681.0h0M61.3 657.7h0M61.5 661.9h0M61.5 659.7h0M61.7 656.6h0M61.5 674.1h0M61.3 677.2h0M61.7 674.1h0M61.7 666.2h0M61.8 656.7h0M62.0 660.4h0M62.0 664.5h0M62.3 660.4h0M62.1 670.0h0M62.3 681.0h0M62.2 661.3h0M62.3 685.7h0M62.4 681.0h0M62.5 671.5h0M62.5 656.4h0M62.5 685.7h0M62.6 658.4h0M62.7 661.0h0M62.9 655.6h0M62.8 674.1h0M62.9 657.5h0M62.9 668.5h0M62.9 655.7h0M63.5 677.2h0M63.3 674.1h0M63.6 661.4h0M63.4 677.2h0M63.6 677.2h0M63.7 665.9h0M63.8 658.7h0M63.7 658.3h0M63.7 671.5h0M63.9 656.4h0M64.0 674.1h0M63.9 654.6h0M64.0 657.3h0M64.2 685.7h0M64.4 656.7h0M64.3 681.0h0M64.3 659.5h0M64.6 671.5h0M64.3 655.4h0M64.6 674.1h0M64.6 677.2h0M64.9 657.5h0M64.8 665.8h0M64.8 670.1h0M64.9 677.2h0M65.0 655.3h0M65.0 677.2h0M65.1 659.5h0M65.1 667.6h0M65.5 660.2h0M65.4 677.2h0M65.7 656.8h0M65.7 653.6h0M65.8 657.5h0M65.7 677.2h0M66.0 681.0h0M65.6 654.2h0M65.8 661.7h0M66.1 674.1h0M66.1 674.1h0M66.1 670.3h0M66.2 666.9h0M66.0 669.9h0M66.4 658.3h0M66.5 654.6h0M66.5 665.6h0M66.6 674.1h0M66.5 681.0h0M66.7 657.1h0M66.8 681.0h0M66.8 660.2h0M67.2 674.1h0M67.0 664.3h0M67.0 669.0h0M67.1 663.5h0M67.2 653.4h0M67.3 668.8h0M67.2 652.6h0M67.6 681.0h0M67.6 677.2h0M67.6 677.2h0M67.7 681.0h0M67.9 662.5h0M68.2 652.1h0M67.9 681.0h0M68.0 666.3h0M68.0 659.3h0M68.2 654.1h0M68.3 662.2h0M68.3 663.1h0M68.5 653.4h0M68.3 671.4h0M68.6 651.7h0M68.6 654.9h0M68.9 656.3h0M68.9 651.6h0M68.9 666.9h0M68.7 661.2h0M69.1 654.0h0M69.2 654.2h0M69.0 653.2h0M68.9 677.2h0M69.2 651.5h0M69.4 650.8h0M69.2 670.6h0M69.4 652.1h0M69.4 655.0h0M69.3 658.3h0M69.7 662.1h0M69.7 658.6h0M69.8 654.3h0M69.8 671.5h0M70.0 653.1h0M70.0 660.8h0M70.3 674.1h0M70.2 670.2h0M70.1 651.6h0M70.2 669.7h0M70.3 660.2h0M70.6 677.2h0M70.5 653.6h0M70.5 651.4h0M70.9 655.1h0M70.7 658.1h0M70.7 649.6h0M70.8 649.1h0M70.9 661.7h0M71.0 663.4h0M71.1 651.5h0M71.0 677.2h0M71.3 677.2h0M71.4 664.7h0M71.4 674.1h0M71.3 662.2h0M71.5 677.2h0M71.6 677.2h0M71.5 649.5h0M71.6 651.8h0M71.8 677.2h0M71.8 674.1h0M72.2 647.6h0M72.2 674.1h0M72.3 649.8h0M72.0 663.5h0M72.2 662.1h0M72.3 661.6h0M72.5 648.4h0M72.4 658.9h0M72.5 666.0h0M72.5 661.6h0M72.7 649.6h0M72.9 647.0h0M72.9 664.7h0M72.9 657.5h0M73.0 657.3h0M72.9 668.6h0M73.1 674.1h0M73.3 649.9h0M73.4 656.5h0M73.5 645.1h0M73.3 655.0h0M73.5 648.9h0M73.4 657.9h0M73.7 674.1h0M73.6 649.0h0M73.8 668.3h0M73.9 645.5h0M74.0 664.4h0M74.0 643.6h0M74.1 662.5h0M74.0 663.4h0M74.3 668.8h0M74.5 661.8h0M74.4 668.3h0M74.6 656.3h0M74.5 660.0h0M74.8 651.4h0M74.7 649.4h0M74.7 638.5h0M74.7 648.5h0M74.8 642.4h0M75.1 659.8h0M75.1 665.3h0M75.0 655.7h0M75.3 656.3h0M75.4 636.2h0M75.2 640.7h0M79.5 677.2h0M80.0 681.0h0M79.7 677.2h0M79.9 674.1h0M79.8 671.5h0M80.0 671.5h0M80.1 681.0h0M80.3 671.5h0M80.4 677.2h0M80.4 677.2h0M80.4 677.2h0M80.5 665.1h0M80.7 670.5h0M80.5 681.0h0M80.6 681.0h0M80.8 685.7h0M81.0 664.4h0M80.9 681.0h0M80.8 669.5h0M81.0 681.0h0M80.9 662.3h0M81.4 660.4h0M81.5 664.6h0M81.3 674.1h0M81.3 671.5h0M81.6 681.0h0M81.5 662.3h0M81.6 677.2h0M81.8 661.8h0M81.9 667.2h0M82.1 661.2h0M82.0 677.2h0M82.1 681.0h0M82.1 660.1h0M82.4 667.4h0M82.2 664.1h0M82.4 660.5h0M82.7 663.1h0M82.5 677.2h0M82.6 674.1h0M82.6 671.5h0M82.9 659.6h0M82.9 681.0h0M82.8 677.2h0M82.8 681.0h0M83.1 658.7h0M82.9 661.9h0M83.2 661.4h0M83.4 660.6h0M83.3 674.1h0M83.4 659.5h0M83.6 668.4h0M83.4 670.9h0M83.6 674.1h0M84.0 663.5h0M83.9 669.1h0M83.7 658.3h0M84.0 674.1h0M84.1 681.0h0M84.0 662.7h0M84.3 657.9h0M84.6 667.4h0M84.3 657.9h0M84.3 677.2h0M84.3 658.9h0M84.6 677.2h0M84.6 658.3h0M84.7 674.1h0M85.0 660.8h0M84.8 671.3h0M85.0 656.9h0M85.2 670.2h0M85.3 660.2h0M85.2 657.8h0M85.1 668.3h0M85.5 659.0h0M85.4 666.9h0M85.4 669.2h0M85.4 671.5h0M85.7 669.2h0M85.9 656.7h0M85.9 656.7h0M85.9 671.5h0M85.9 661.3h0M86.1 681.0h0M86.0 667.5h0M86.2 677.2h0M86.1 668.1h0M86.4 677.2h0M86.3 663.4h0M86.4 670.3h0M86.4 677.2h0M86.6 659.1h0M86.6 656.0h0M86.8 656.3h0M86.7 655.9h0M86.9 660.8h0M87.0 674.1h0M87.1 677.2h0M87.1 660.2h0M87.4 674.1h0M87.4 660.1h0M87.6 660.8h0M87.5 667.4h0M87.5 664.6h0M87.7 681.0h0M87.7 657.9h0M87.7 660.3h0M87.8 674.1h0M88.0 669.6h0M87.9 655.6h0M88.2 670.4h0M88.1 658.0h0M88.3 677.2h0M88.3 656.9h0M88.4 669.6h0M88.5 677.2h0M88.7 665.3h0M88.5 661.6h0M88.7 658.4h0M88.7 655.4h0M89.0 677.2h0M89.1 656.8h0M88.9 656.6h0M89.0 657.7h0M89.2 658.1h0M89.3 668.1h0M89.3 656.7h0M89.4 671.5h0M89.6 671.5h0M89.5 657.0h0M89.6 654.2h0M89.7 658.9h0M90.0 666.5h0M89.8 655.2h0M89.9 677.2h0M89.8 657.6h0M89.9 653.7h0M89.8 666.8h0M90.1 677.2h0M90.3 671.5h0M90.4 677.2h0M90.6 653.8h0M90.6 664.1h0M90.6 657.2h0M90.5 655.5h0M90.8 666.6h0M90.8 663.9h0M91.2 664.2h0M90.9 658.9h0M90.9 659.8h0M91.1 664.0h0M91.2 655.1h0M91.2 658.4h0M91.5 661.6h0M91.6 666.3h0M91.4 661.5h0M91.6 674.1h0M91.8 662.2h0M91.8 654.3h0M91.7 661.9h0M91.9 661.5h0M92.0 655.2h0M92.0 658.3h0M92.3 652.5h0M92.1 661.7h0M92.3 674.1h0M92.4 660.6h0M92.3 674.1h0M92.5 654.8h0M92.5 669.3h0M92.4 662.6h0M92.6 652.8h0M92.8 677.2h0M93.0 661.5h0M92.7 662.5h0M92.8 657.2h0M93.1 660.9h0M93.3 654.2h0M93.2 671.5h0M93.2 655.8h0M93.4 656.5h0M93.6 663.6h0M93.5 674.1h0M93.7 660.0h0M93.7 674.1h0M93.9 671.5h0M93.9 655.6h0M93.9 652.0h0M93.9 671.5h0M94.1 671.5h0M94.1 660.3h0M94.2 652.0h0M94.3 652.0h0M94.5 651.2h0M94.4 665.8h0M94.5 654.7h0M94.7 674.1h0M94.7 653.9h0M94.8 663.7h0M94.8 653.3h0M95.1 665.9h0M95.1 669.2h0M95.1 660.9h0M95.0 668.3h0M95.1 674.1h0M95.4 660.9h0M95.3 674.1h0M95.3 652.1h0M95.5 652.3h0M95.5 650.9h0M95.8 653.8h0M95.8 664.1h0M95.8 663.5h0M96.1 668.6h0M96.0 661.8h0M96.3 652.1h0M96.2 657.8h0M96.0 674.1h0M96.3 652.9h0M96.2 651.8h0M96.6 652.2h0M96.5 666.1h0M96.8 651.3h0M96.5 650.9h0M97.0 655.4h0M96.9 658.7h0M97.0 656.3h0M97.0 662.8h0M97.2 665.2h0M97.1 661.0h0M97.1 670.9h0M97.5 656.3h0M97.5 657.4h0M97.5 658.3h0M97.5 665.1h0M97.4 670.8h0M97.8 667.1h0M98.0 667.6h0M97.9 671.2h0M97.9 671.0h0M98.0 652.2h0M98.0 649.4h0M98.2 649.3h0M98.3 652.4h0M98.2 664.0h0M98.2 666.8h0M98.4 655.9h0M98.6 652.5h0M98.6 671.4h0M98.6 658.3h0M98.8 664.1h0M99.0 655.6h0M99.1 656.4h0M98.9 666.1h0M99.1 656.5h0M99.1 665.3h0M99.2 666.8h0M99.4 648.9h0M99.3 656.0h0M99.3 657.2h0M99.4 649.2h0M99.5 650.6h0M99.7 651.1h0M99.8 651.2h0M99.7 658.2h0M99.7 652.2h0M99.9 656.6h0M100.1 662.4h0M100.0 658.2h0M100.1 669.2h0M100.4 666.3h0M100.6 655.6h0M100.6 663.8h0M100.5 651.0h0M100.6 669.2h0M100.7 651.2h0M100.8 657.9h0M100.5 665.4h0M101.0 650.3h0M100.9 656.2h0M101.0 649.6h0M101.1 647.8h0M101.2 656.6h0M101.1 668.2h0M101.2 653.0h0M101.5 648.2h0M101.4 654.6h0M101.7 647.6h0M101.7 658.5h0M101.9 651.0h0M101.7 671.0h0M101.9 649.9h0M102.0 663.4h0M102.2 660.4h0M102.2 648.6h0M102.0 669.7h0M102.2 660.0h0M102.4 655.2h0M102.4 667.6h0M102.5 647.9h0M102.4 649.4h0M102.7 661.5h0M102.5 665.0h0M102.7 648.5h0M102.8 655.6h0M102.9 664.4h0M102.8 662.0h0M102.9 660.4h0M103.2 650.3h0M103.3 665.9h0M103.4 662.7h0M103.4 665.7h0M103.4 658.3h0M103.5 662.8h0M103.6 647.1h0M103.8 657.6h0M103.8 666.1h0M103.7 647.0h0M104.0 645.5h0M104.0 648.0h0M103.7 662.7h0M104.1 647.4h0M104.0 649.0h0M104.4 648.4h0M104.5 646.2h0M104.4 649.5h0M104.3 649.5h0M104.6 664.5h0M104.7 649.2h0M104.9 659.9h0M104.8 646.0h0M105.0 652.1h0M105.1 650.1h0M105.1 664.1h0M104.9 665.5h0M105.3 647.3h0M105.3 657.5h0M105.2 646.9h0M105.7 653.3h0M105.5 662.2h0M105.5 643.9h0M105.7 657.5h0M105.7 660.9h0M105.8 646.4h0M105.9 646.6h0M106.1 647.0h0M106.0 643.9h0M106.1 645.9h0M106.2 645.6h0M106.2 660.4h0M106.5 650.8h0M106.4 649.9h0M106.6 660.0h0M106.4 649.2h0M106.8 655.3h0M106.6 663.0h0M106.8 644.5h0M106.8 641.6h0M107.0 644.2h0M107.2 643.7h0M107.0 652.4h0M107.1 651.2h0M107.2 651.8h0M107.2 645.3h0M107.4 648.1h0M107.5 642.2h0M107.5 662.9h0M107.6 662.2h0M107.7 644.7h0M107.7 640.5h0M108.0 639.2h0M107.9 643.8h0M108.0 647.2h0M108.0 657.9h0M108.1 647.1h0M108.3 640.9h0M108.5 638.4h0M108.5 647.8h0M108.4 647.6h0M108.4 643.6h0M112.8 665.1h0M113.0 685.7h0M113.1 677.2h0M113.1 667.4h0M113.2 671.2h0M113.2 671.5h0M113.7 671.5h0M113.4 681.0h0M113.3 685.7h0M113.4 664.1h0M113.4 692.3h0M113.5 692.3h0M113.7 677.2h0M113.9 681.0h0M114.1 685.7h0M113.9 681.0h0M113.9 671.5h0M114.1 671.5h0M114.1 662.7h0M114.3 662.3h0M114.3 663.5h0M114.3 671.0h0M114.4 661.6h0M114.3 656.5h0M114.6 657.5h0M114.7 674.1h0M114.9 669.8h0M114.6 656.4h0M114.8 669.7h0M114.9 662.9h0M115.1 670.5h0M115.0 659.0h0M114.8 685.7h0M115.2 685.7h0M115.4 665.7h0M115.2 661.4h0M115.5 669.4h0M115.5 677.2h0M115.8 654.1h0M115.4 656.1h0M115.7 662.4h0M115.7 652.8h0M115.7 669.3h0M116.0 657.0h0M115.9 658.7h0M115.8 659.4h0M116.1 681.0h0M116.3 681.0h0M116.2 655.5h0M116.3 656.5h0M116.3 653.4h0M116.6 653.7h0M116.2 662.5h0M116.6 674.1h0M116.6 652.5h0M116.5 654.1h0M116.8 674.1h0M116.9 654.3h0M116.7 677.2h0M117.0 654.5h0M117.1 653.2h0M116.9 656.0h0M117.0 665.4h0M117.2 677.2h0M117.4 654.4h0M117.3 665.0h0M117.4 650.8h0M117.6 666.3h0M117.7 651.7h0M117.8 656.5h0M117.9 653.4h0M117.8 663.7h0M117.7 677.2h0M117.8 650.1h0M118.0 651.9h0M118.2 656.6h0M117.8 663.2h0M118.2 649.9h0M118.2 677.2h0M118.1 652.8h0M118.4 659.2h0M118.3 664.8h0M118.3 652.5h0M118.4 666.6h0M118.4 651.8h0M118.6 653.2h0M118.9 649.9h0M118.7 661.1h0M119.0 667.5h0M119.0 654.3h0M119.1 653.0h0M119.0 674.1h0M119.1 677.2h0M119.2 651.0h0M119.3 668.0h0M119.6 648.6h0M119.5 674.1h0M119.6 651.9h0M119.7 650.6h0M119.6 649.5h0M119.7 674.1h0M119.9 664.2h0M120.1 659.8h0M120.0 648.4h0M120.0 648.0h0M120.2 652.9h0M120.1 670.1h0M120.1 669.1h0M120.5 669.7h0M120.0 671.5h0M120.6 669.7h0M120.5 665.3h0M120.9 648.5h0M120.7 662.6h0M120.9 671.5h0M120.9 665.3h0M120.9 656.0h0M121.0 651.4h0M120.8 659.9h0M120.9 677.2h0M121.3 652.1h0M121.2 668.2h0M121.3 651.7h0M121.4 650.0h0M121.4 677.2h0M121.3 650.8h0M121.4 670.8h0M121.8 659.6h0M121.5 674.1h0M121.8 660.4h0M121.9 648.1h0M121.8 667.0h0M122.1 647.7h0M122.2 674.1h0M122.1 674.1h0M122.4 654.0h0M122.3 648.1h0M122.3 671.5h0M122.4 648.5h0M122.3 671.3h0M122.5 648.4h0M122.4 668.2h0M122.8 674.1h0M122.6 677.2h0M122.6 666.2h0M122.9 677.2h0M123.1 665.8h0M123.0 655.5h0M122.9 646.8h0M122.9 677.2h0M123.3 656.6h0M123.4 650.8h0M123.3 677.2h0M123.2 656.5h0M123.4 667.6h0M123.7 646.8h0M123.5 655.5h0M123.7 655.2h0M123.7 647.4h0M123.9 657.8h0M123.8 657.4h0M124.1 671.5h0M124.1 677.2h0M124.1 647.6h0M124.2 674.1h0M124.0 648.8h0M124.1 651.6h0M124.3 674.1h0M124.5 677.2h0M124.4 668.5h0M124.6 663.1h0M124.6 667.3h0M124.6 653.0h0M124.7 674.1h0M124.7 665.2h0M124.8 671.5h0M125.0 666.1h0M125.1 668.3h0M125.1 648.1h0M125.1 663.4h0M125.4 654.4h0M125.3 677.2h0M125.5 659.4h0M125.6 665.3h0M125.7 661.6h0M125.4 664.4h0M126.0 670.8h0M125.7 656.5h0M125.6 661.2h0M125.9 648.1h0M126.1 674.1h0M126.1 645.7h0M126.1 646.8h0M126.1 651.9h0M126.2 650.2h0M126.5 667.7h0M126.4 646.3h0M126.6 664.3h0M126.6 652.5h0M126.6 647.8h0M126.7 661.0h0M126.9 648.1h0M126.8 652.4h0M126.9 655.6h0M126.8 664.0h0M127.0 659.0h0M127.0 657.0h0M127.0 660.7h0M127.4 650.4h0M127.3 648.0h0M127.5 665.6h0M127.5 662.6h0M127.6 650.2h0M127.6 674.1h0M127.7 658.7h0M127.9 643.9h0M127.6 657.8h0M127.9 647.0h0M127.9 652.8h0M128.0 671.5h0M128.2 653.5h0M127.9 649.1h0M128.2 647.2h0M128.3 649.7h0M128.5 651.3h0M128.3 665.7h0M128.3 670.9h0M128.6 658.1h0M128.6 645.5h0M128.7 668.6h0M128.7 643.0h0M128.9 643.8h0M128.9 643.7h0M129.2 674.1h0M128.9 647.2h0M129.2 671.5h0M129.1 666.1h0M129.3 649.4h0M129.4 651.9h0M129.4 642.4h0M129.6 649.7h0M129.6 649.9h0M129.7 649.5h0M129.5 670.7h0M129.8 660.8h0M129.7 660.0h0M129.7 664.5h0M129.9 670.5h0M130.1 650.6h0M130.0 643.1h0M130.1 667.0h0M130.3 647.2h0M130.3 652.0h0M130.2 642.1h0M130.3 659.1h0M130.4 655.4h0M130.4 643.2h0M130.6 645.5h0M130.6 662.0h0M130.8 674.1h0M130.8 645.6h0M130.7 653.6h0M131.1 644.6h0M131.1 641.2h0M131.1 663.4h0M131.1 670.6h0M131.2 648.7h0M131.0 670.3h0M131.5 645.4h0M131.5 643.5h0M131.5 667.3h0M131.4 671.5h0M131.5 662.3h0M131.8 668.5h0M132.1 658.4h0M132.0 645.7h0M132.0 644.4h0M132.0 663.8h0M132.0 643.3h0M132.2 659.8h0M132.3 653.3h0M132.2 665.3h0M132.3 668.7h0M132.4 663.7h0M132.5 657.3h0M132.6 662.4h0M132.5 669.1h0M132.5 665.4h0M133.0 658.1h0M132.7 659.7h0M132.8 652.9h0M132.9 644.2h0M133.1 645.1h0M133.1 652.2h0M133.3 651.5h0M133.1 644.0h0M133.5 642.4h0M133.6 653.7h0M133.6 639.9h0M133.6 667.6h0M133.6 638.6h0M133.7 641.1h0M133.9 646.2h0M133.9 639.0h0M133.8 640.7h0M133.9 667.0h0M133.9 652.9h0M134.0 664.5h0M134.0 640.2h0M134.3 659.6h0M134.4 657.2h0M134.6 642.2h0M134.3 666.4h0M134.6 637.0h0M134.6 637.4h0M134.5 649.6h0M134.5 651.6h0M134.8 638.2h0M135.1 651.2h0M134.7 649.5h0M135.2 644.2h0M135.2 644.0h0M135.2 637.2h0M135.3 649.8h0M135.6 640.4h0M135.5 638.9h0M135.2 660.2h0M135.4 641.2h0M135.5 636.0h0M135.7 636.6h0M135.8 642.6h0M135.8 642.5h0M135.7 642.7h0M135.9 663.7h0M135.8 660.7h0M135.8 643.9h0M136.0 635.0h0M136.0 644.2h0M136.1 641.4h0M136.3 656.4h0M136.5 662.0h0M136.2 637.2h0M136.7 649.8h0M136.5 658.3h0M136.8 664.8h0M136.6 650.0h0M136.8 644.4h0M136.9 640.8h0M136.8 634.0h0M136.9 657.6h0M137.3 636.6h0M137.1 637.5h0M137.2 653.7h0M137.4 657.7h0M137.3 634.3h0M137.3 642.7h0M137.3 637.9h0M137.4 635.2h0M137.7 656.0h0M137.6 655.8h0M137.8 635.6h0M137.7 636.9h0M137.9 655.0h0M137.7 646.0h0M138.0 653.1h0M138.0 633.5h0M138.0 638.4h0M138.3 650.1h0M138.2 632.0h0M138.5 631.8h0M138.5 632.0h0M138.6 662.1h0M138.7 658.4h0M138.5 660.8h0M138.7 636.6h0M138.9 644.2h0M138.9 633.8h0M138.7 633.2h0M139.0 636.6h0M139.1 661.1h0M139.4 649.6h0M139.2 659.3h0M139.0 639.3h0M139.2 651.5h0M139.3 659.6h0M139.4 629.6h0M139.5 642.5h0M139.5 639.8h0M139.6 632.0h0M139.8 641.4h0M139.9 651.2h0M139.8 633.6h0M139.9 651.3h0M140.1 660.7h0M140.0 656.4h0M140.2 660.4h0M140.2 630.5h0M140.2 634.9h0M140.4 645.8h0M140.5 654.2h0M140.5 632.2h0M140.7 628.0h0M140.8 642.3h0M140.7 657.4h0M140.7 633.3h0M140.8 638.2h0M141.0 626.5h0M140.9 647.8h0M141.2 625.9h0M141.1 625.8h0M141.2 628.7h0M141.3 625.4h0M141.4 635.1h0M141.6 655.4h0M141.6 629.6h0M141.3 603.8h0M141.7 622.4h0M141.6 568.0h0M141.5 539.3h0M146.1 663.5h0M146.5 654.5h0M146.8 654.6h0M147.1 655.7h0M147.4 654.6h0M147.5 650.1h0M147.7 662.3h0M148.1 650.9h0M148.5 648.6h0M148.6 651.4h0M149.0 651.6h0M149.4 647.0h0M149.6 648.7h0M150.0 649.9h0M150.0 646.7h0M150.2 648.3h0M150.8 646.6h0M151.1 664.4h0M151.3 646.4h0M151.7 645.3h0M151.6 653.7h0M151.9 649.8h0M152.4 645.7h0M152.7 653.5h0M152.9 650.7h0M153.4 659.7h0M153.6 645.4h0M154.0 647.7h0M154.2 643.3h0M154.5 642.4h0M154.9 642.3h0M155.0 641.7h0M155.3 659.1h0M155.6 640.9h0M156.1 646.1h0M156.1 641.8h0M156.5 649.6h0M156.8 646.9h0M157.2 640.1h0M157.5 657.5h0M157.5 640.5h0M157.7 637.6h0M158.3 639.0h0M158.3 639.5h0M158.8 644.9h0M159.1 638.6h0M159.3 643.8h0M159.5 641.2h0M160.0 640.3h0M160.2 636.6h0M160.4 638.6h0M160.8 643.2h0M161.1 643.2h0M161.4 640.1h0M161.4 641.7h0M161.9 642.4h0M162.2 651.8h0M162.4 635.7h0M162.7 637.6h0M163.1 636.0h0M163.6 640.2h0M163.9 647.6h0M163.9 652.3h0M164.3 635.0h0M164.6 637.5h0M164.7 634.0h0M164.9 634.7h0M165.5 646.2h0M165.6 640.3h0M165.9 633.1h0M166.2 638.0h0M166.5 631.6h0M166.8 634.2h0M167.2 651.2h0M167.5 647.4h0M167.7 634.1h0M168.0 634.3h0M168.3 632.9h0M168.7 630.2h0M169.0 638.3h0M169.1 635.6h0M169.2 644.7h0M169.6 629.8h0M169.8 633.1h0M170.0 637.0h0M170.5 645.8h0M170.8 628.9h0M171.3 631.1h0M171.3 634.7h0M171.6 631.8h0M171.9 638.7h0M172.3 633.9h0M172.7 630.5h0M172.6 627.1h0M173.3 643.5h0M173.7 635.9h0M173.8 624.9h0M173.9 624.9h0M174.2 624.7h0M174.7 633.3h0M174.9 626.8h0M179.3 654.5h0M179.3 665.5h0M179.6 653.7h0M179.8 656.3h0M179.8 656.3h0M180.0 668.7h0M180.0 658.0h0M180.2 658.5h0M180.2 648.6h0M180.4 664.9h0M180.7 648.2h0M180.8 674.1h0M181.0 648.4h0M180.9 671.1h0M181.1 659.1h0M181.5 651.9h0M181.5 648.1h0M181.4 650.4h0M181.7 662.6h0M182.0 645.9h0M181.9 660.9h0M182.0 645.1h0M182.3 646.0h0M182.4 647.2h0M182.3 652.1h0M182.5 647.0h0M182.8 671.5h0M182.9 647.6h0M183.1 647.6h0M183.1 647.2h0M183.2 670.0h0M183.4 655.0h0M183.6 674.1h0M183.6 642.7h0M183.8 643.4h0M184.0 671.5h0M184.2 642.5h0M184.3 641.8h0M184.3 650.0h0M184.6 643.9h0M184.7 651.2h0M184.6 663.3h0M184.7 641.5h0M185.0 644.5h0M185.1 647.0h0M185.5 647.3h0M185.3 640.5h0M185.5 643.3h0M185.7 667.9h0M186.0 658.4h0M186.1 641.1h0M185.7 664.1h0M186.2 668.9h0M186.6 668.3h0M186.4 641.2h0M186.7 641.3h0M186.6 640.1h0M187.0 667.1h0M187.1 641.3h0M187.1 656.8h0M187.4 647.0h0M187.4 642.5h0M187.8 664.9h0M187.8 639.2h0M187.9 669.6h0M187.9 658.3h0M188.0 652.7h0M188.2 639.4h0M188.1 640.0h0M188.5 645.4h0M188.6 664.6h0M188.9 640.3h0M188.7 640.7h0M189.1 638.9h0M189.1 641.9h0M189.4 659.2h0M189.5 640.7h0M189.6 640.8h0M189.8 639.8h0M189.7 653.4h0M189.8 641.3h0M190.1 640.8h0M190.3 654.5h0M190.4 656.2h0M190.4 638.8h0M190.5 658.4h0M190.7 665.2h0M191.0 669.4h0M191.0 663.3h0M190.9 649.4h0M191.4 649.4h0M191.4 639.5h0M191.6 648.5h0M191.7 636.4h0M191.7 649.7h0M192.0 642.4h0M192.1 637.3h0M192.1 636.4h0M192.6 638.7h0M192.3 637.2h0M192.8 659.0h0M192.8 643.5h0M193.0 639.9h0M192.9 639.4h0M193.2 638.5h0M193.3 651.0h0M193.5 639.1h0M193.4 639.8h0M193.8 638.1h0M193.7 637.7h0M193.9 658.1h0M194.1 650.1h0M194.1 638.9h0M194.3 635.2h0M194.6 635.4h0M194.7 637.0h0M194.9 635.2h0M195.0 634.7h0M195.0 649.9h0M195.1 633.9h0M195.4 659.5h0M195.4 634.1h0M195.6 640.8h0M195.6 645.7h0M195.8 647.5h0M195.9 661.1h0M196.2 640.5h0M196.4 644.4h0M196.4 633.0h0M196.3 633.1h0M196.7 633.0h0M196.8 646.7h0M196.8 634.3h0M197.1 657.0h0M197.1 633.3h0M197.3 646.2h0M197.4 635.6h0M197.5 635.2h0M197.6 638.3h0M198.1 645.4h0M197.7 635.7h0M198.0 637.5h0M198.1 633.3h0M198.4 654.6h0M198.5 633.5h0M198.5 650.9h0M198.7 633.2h0M199.0 656.9h0M199.2 637.8h0M199.0 636.6h0M199.4 634.9h0M199.3 635.0h0M199.7 630.4h0M199.8 631.1h0M199.6 632.2h0M199.9 659.1h0M200.0 633.1h0M200.3 631.1h0M200.3 639.9h0M200.4 635.0h0M200.5 657.6h0M200.9 629.0h0M201.1 632.4h0M200.9 649.0h0M201.3 631.8h0M201.4 646.1h0M201.5 630.5h0M201.5 629.5h0M201.6 629.6h0M202.0 634.6h0M202.0 628.3h0M202.0 642.5h0M202.3 653.0h0M202.4 637.0h0M202.6 633.7h0M202.6 634.9h0M202.9 627.1h0M202.6 626.5h0M203.0 627.0h0M203.0 648.9h0M203.4 636.2h0M203.5 648.8h0M203.5 627.1h0M203.6 624.9h0M203.9 624.9h0M204.2 639.0h0M204.1 627.4h0M204.2 622.4h0M204.4 645.6h0M204.7 650.3h0M204.6 625.7h0M204.8 620.9h0M204.9 621.4h0M205.2 619.2h0M205.1 640.6h0M205.3 642.1h0M205.5 617.1h0M205.5 618.5h0M205.7 630.6h0M205.8 624.8h0M206.0 634.6h0M206.2 618.1h0M206.6 631.3h0M206.6 638.8h0M206.6 618.9h0M206.9 641.0h0M206.8 610.8h0M207.1 635.8h0M207.1 609.2h0M207.2 614.2h0M207.5 618.6h0M207.4 605.7h0M207.7 599.0h0M207.8 613.7h0M208.0 624.0h0M207.9 583.1h0M208.1 555.1h0M212.5 659.4h0M212.6 670.9h0M212.8 670.6h0M212.7 657.9h0M212.8 658.7h0M212.8 663.1h0M213.1 658.8h0M213.4 671.5h0M213.5 656.1h0M213.5 664.8h0M213.3 667.1h0M213.5 652.1h0M213.7 666.4h0M214.0 649.6h0M213.7 654.8h0M214.0 648.7h0M214.1 650.4h0M214.3 650.5h0M214.5 655.9h0M214.4 666.5h0M214.7 645.6h0M214.5 649.8h0M214.9 648.6h0M215.0 646.3h0M215.0 664.0h0M215.1 651.8h0M215.4 647.8h0M215.3 646.8h0M215.6 658.1h0M215.6 645.5h0M215.7 657.4h0M215.7 647.4h0M216.0 658.2h0M215.8 644.7h0M216.1 643.0h0M216.4 646.3h0M216.5 648.2h0M216.7 652.4h0M216.5 642.1h0M216.5 648.2h0M216.9 644.9h0M217.0 659.2h0M217.0 659.1h0M217.1 655.7h0M217.3 645.2h0M217.3 646.9h0M217.5 645.7h0M217.7 652.7h0M217.5 641.5h0M218.0 640.5h0M218.0 656.5h0M217.8 641.7h0M218.2 640.7h0M218.2 658.3h0M218.2 642.2h0M218.3 643.8h0M218.6 654.0h0M218.9 644.0h0M218.9 640.5h0M219.1 640.6h0M219.1 646.1h0M219.0 650.7h0M219.3 640.9h0M219.3 640.6h0M219.5 647.5h0M219.4 645.3h0M219.7 640.0h0M220.0 652.4h0M220.0 640.4h0M220.1 645.0h0M220.2 641.6h0M220.1 655.8h0M220.4 648.1h0M220.6 639.4h0M220.6 652.8h0M220.6 645.0h0M220.8 639.3h0M220.9 645.4h0M221.2 653.3h0M221.2 656.6h0M221.3 642.6h0M221.2 639.8h0M221.4 652.4h0M221.4 638.0h0M221.6 639.3h0M221.8 636.7h0M222.0 640.6h0M222.2 637.3h0M222.3 637.4h0M222.4 649.6h0M222.2 637.2h0M222.4 638.1h0M222.3 636.2h0M222.9 639.2h0M222.7 641.2h0M222.9 637.7h0M223.1 645.6h0M223.0 637.2h0M223.4 640.9h0M223.3 641.3h0M223.3 636.8h0M223.4 640.4h0M223.6 641.5h0M223.8 635.8h0M223.9 636.4h0M224.1 657.3h0M224.1 641.7h0M224.2 647.9h0M224.3 634.9h0M224.4 652.3h0M224.6 638.1h0M224.6 647.3h0M224.7 648.2h0M224.8 637.4h0M225.0 656.6h0M225.2 634.5h0M225.4 646.9h0M225.3 634.8h0M225.5 635.0h0M225.6 642.5h0M225.7 637.4h0M225.6 654.2h0M226.0 642.1h0M225.9 656.0h0M226.2 640.0h0M226.2 648.1h0M226.4 647.4h0M226.4 655.6h0M226.5 642.8h0M226.7 644.6h0M226.6 651.1h0M226.9 637.1h0M227.0 642.2h0M227.0 652.7h0M227.2 647.6h0M227.3 635.4h0M227.5 646.4h0M227.3 633.8h0M227.7 641.2h0M227.6 632.9h0M227.9 635.3h0M228.0 634.3h0M228.2 637.3h0M228.1 653.9h0M228.4 633.2h0M228.3 653.5h0M228.6 633.2h0M228.8 637.0h0M228.8 637.4h0M228.8 652.3h0M228.8 642.0h0M229.0 634.3h0M229.2 646.7h0M229.1 635.7h0M229.2 633.3h0M229.4 635.2h0M229.5 633.6h0M229.8 637.1h0M229.7 634.3h0M229.9 634.9h0M230.1 632.8h0M230.2 645.1h0M230.2 639.1h0M230.3 633.4h0M230.5 632.9h0M230.7 636.3h0M230.7 632.2h0M230.8 640.5h0M231.2 635.4h0M230.8 631.9h0M231.2 631.4h0M231.2 630.0h0M231.3 649.3h0M231.6 635.8h0M231.8 647.5h0M232.0 644.7h0M231.8 635.7h0M231.9 634.6h0M232.0 640.4h0M232.2 630.3h0M232.2 628.9h0M232.3 649.0h0M232.4 629.7h0M232.5 634.9h0M232.6 647.1h0M232.9 629.8h0M232.9 641.8h0M233.0 650.4h0M233.0 629.3h0M233.3 629.5h0M233.2 629.4h0M233.5 637.9h0M233.7 627.7h0M233.6 630.0h0M233.8 630.7h0M234.0 629.9h0M233.8 631.8h0M234.2 630.4h0M234.2 648.6h0M234.3 630.2h0M234.5 628.2h0M234.6 643.4h0M234.7 633.0h0M234.7 628.0h0M234.7 630.3h0M234.9 629.0h0M235.1 630.0h0M235.0 632.5h0M235.3 627.2h0M235.3 627.1h0M235.5 645.8h0M235.7 625.3h0M235.6 624.3h0M235.8 622.5h0M236.0 627.2h0M236.3 626.0h0M236.5 630.9h0M236.4 629.9h0M236.3 625.7h0M236.6 620.7h0M236.5 622.2h0M236.4 629.1h0M237.0 618.6h0M237.1 621.6h0M237.1 628.2h0M237.4 619.5h0M237.1 616.6h0M237.7 629.2h0M237.3 626.2h0M237.5 634.8h0M237.9 621.7h0M237.8 617.2h0M238.1 627.6h0M238.0 614.0h0M238.1 620.9h0M238.3 614.2h0M238.5 614.2h0M238.5 622.9h0M238.7 632.9h0M238.9 617.2h0M238.6 622.5h0M238.9 629.9h0M239.2 609.0h0M239.0 616.4h0M239.3 610.1h0M239.3 611.4h0M239.3 611.9h0M239.9 608.0h0M239.8 614.8h0M239.6 605.2h0M240.0 619.9h0M239.9 607.0h0M240.0 601.4h0M240.2 602.5h0M240.2 601.3h0M240.6 598.6h0M240.6 597.8h0M240.8 603.1h0M240.9 600.7h0M240.9 615.2h0M240.9 583.2h0M241.0 570.0h0M241.2 553.9h0M241.3 553.8h0M245.9 641.1h0M246.5 645.1h0M247.0 640.4h0M247.5 645.9h0M247.9 638.0h0M248.6 638.2h0M248.7 644.9h0M249.5 637.7h0M250.2 638.7h0M250.6 637.3h0M251.2 640.8h0M251.7 635.9h0M252.2 636.2h0M252.7 638.9h0M253.2 635.9h0M253.9 634.5h0M254.4 638.2h0M254.8 636.5h0M255.5 637.6h0M255.9 633.7h0M256.4 641.5h0M256.9 633.5h0M257.3 636.2h0M257.8 637.3h0M258.4 635.2h0M259.1 632.6h0M259.7 637.7h0M260.0 633.8h0M260.8 643.7h0M261.1 635.4h0M261.7 632.5h0M262.3 633.0h0M262.6 634.1h0M263.1 635.5h0M263.7 636.2h0M264.2 633.8h0M264.9 631.5h0M265.4 635.8h0M265.8 633.4h0M266.4 631.3h0M267.1 628.4h0M267.5 628.8h0M267.8 629.0h0M268.8 632.9h0M269.0 629.4h0M269.7 627.4h0M270.1 630.2h0M270.7 627.2h0M271.2 626.6h0M271.8 629.5h0M272.2 629.3h0M272.7 619.0h0M273.1 618.9h0M273.7 609.6h0M274.2 585.6h0M278.9 702.6h0M278.8 692.3h0M279.3 681.0h0M279.0 685.7h0M279.2 681.0h0M279.4 681.0h0M279.5 674.1h0M279.3 677.2h0M279.5 677.2h0M279.7 664.0h0M279.6 665.0h0M279.9 671.5h0M280.0 667.1h0M280.1 662.4h0M280.1 664.0h0M280.3 667.1h0M280.3 659.8h0M280.6 660.0h0M280.6 658.0h0M281.0 661.6h0M280.7 666.1h0M280.8 670.0h0M280.8 663.5h0M281.1 661.4h0M280.9 657.3h0M281.3 655.1h0M281.3 655.2h0M281.5 664.9h0M281.7 652.7h0M281.6 656.4h0M281.7 650.6h0M281.7 647.1h0M281.8 652.5h0M282.0 651.6h0M282.0 649.2h0M282.3 648.0h0M282.4 649.3h0M282.2 642.5h0M282.3 644.0h0M282.6 642.9h0M282.9 648.4h0M282.9 643.2h0M282.6 642.6h0M283.0 647.1h0M282.9 643.3h0M283.1 642.3h0M283.2 641.2h0M283.3 652.2h0M283.4 644.8h0M283.8 644.0h0M283.7 639.4h0M283.6 642.8h0M283.9 640.6h0M283.9 647.1h0M284.2 639.7h0M284.3 641.8h0M284.0 638.4h0M284.3 638.7h0M284.6 643.2h0M284.3 639.3h0M284.6 645.1h0M284.6 637.4h0M284.7 656.2h0M284.8 642.3h0M285.0 648.8h0M285.2 645.0h0M285.2 640.8h0M285.3 640.5h0M285.3 649.5h0M285.2 645.3h0M285.6 639.7h0M285.6 643.1h0M285.6 635.1h0M285.7 647.3h0M285.7 634.4h0M285.8 644.5h0M286.1 639.6h0M286.4 634.7h0M286.4 636.7h0M286.4 635.1h0M286.5 645.7h0M286.5 641.4h0M286.6 636.9h0M286.7 641.9h0M286.8 634.4h0M286.9 634.8h0M287.0 636.1h0M287.3 641.9h0M287.3 633.2h0M287.5 637.5h0M287.4 643.2h0M287.7 640.2h0M287.8 641.0h0M287.8 634.0h0M288.0 635.1h0M287.9 650.8h0M288.1 632.7h0M287.9 633.7h0M288.1 637.0h0M288.5 642.5h0M288.3 632.4h0M288.5 632.1h0M288.6 641.9h0M288.6 644.3h0M288.8 639.1h0M288.7 631.2h0M289.2 636.4h0M288.8 638.5h0M289.0 633.0h0M289.2 636.4h0M289.4 640.0h0M289.5 637.9h0M289.7 632.5h0M289.8 631.1h0M289.7 639.3h0M289.8 630.7h0M289.9 644.2h0M290.0 633.6h0M290.2 630.4h0M290.2 641.9h0M290.3 644.7h0M290.4 633.9h0M290.5 643.6h0M290.8 635.7h0M290.7 634.0h0M290.7 638.6h0M290.8 631.3h0M291.0 629.2h0M291.0 649.3h0M291.2 632.9h0M291.2 636.7h0M291.4 637.7h0M291.6 636.0h0M291.7 633.8h0M291.5 633.5h0M291.8 631.7h0M292.0 635.4h0M292.1 638.9h0M292.0 629.2h0M292.2 634.3h0M292.1 635.4h0M292.4 630.1h0M292.5 628.1h0M292.6 640.6h0M292.6 639.9h0M292.6 628.5h0M292.9 633.6h0M292.8 628.6h0M292.8 632.1h0M293.1 642.9h0M293.0 636.5h0M293.2 639.7h0M293.4 628.2h0M293.4 629.0h0M293.5 628.9h0M293.6 646.4h0M293.7 629.3h0M293.8 628.5h0M294.0 629.5h0M293.9 630.8h0M294.1 637.2h0M294.3 638.0h0M294.3 628.1h0M294.4 639.4h0M294.4 629.7h0M294.5 630.6h0M294.5 626.9h0M294.9 627.1h0M295.1 633.8h0M294.9 629.7h0M294.8 627.3h0M295.5 626.3h0M295.3 636.7h0M295.4 630.7h0M295.4 631.8h0M295.5 629.9h0M295.6 625.3h0M295.9 630.4h0M295.7 624.1h0M296.0 626.9h0M296.0 624.3h0M296.3 628.9h0M296.4 635.6h0M296.4 626.1h0M296.4 626.9h0M296.5 640.2h0M296.4 625.0h0M296.6 624.3h0M296.6 628.7h0M297.0 632.3h0M297.0 635.4h0M297.1 634.1h0M297.2 626.6h0M297.2 630.9h0M297.5 627.7h0M297.4 639.9h0M297.3 622.4h0M297.9 627.3h0M297.8 629.9h0M297.7 624.2h0M297.9 633.3h0M298.1 626.0h0M298.1 633.9h0M298.0 623.5h0M298.3 627.6h0M298.6 632.9h0M298.5 624.3h0M298.6 624.7h0M298.5 621.9h0M298.7 631.0h0M299.0 631.4h0M299.0 623.6h0M299.1 623.6h0M299.0 625.5h0M299.2 625.2h0M299.3 624.4h0M299.6 629.9h0M299.4 621.0h0M299.7 623.4h0M299.6 629.2h0M299.8 623.9h0M300.0 622.5h0M300.2 624.2h0M300.1 630.6h0M300.2 624.4h0M300.6 634.8h0M300.5 631.2h0M300.4 624.3h0M300.6 620.4h0M300.9 629.4h0M300.8 628.5h0M300.7 619.2h0M300.9 624.6h0M301.1 634.8h0M301.3 623.9h0M301.1 619.3h0M301.3 623.7h0M301.5 627.2h0M301.4 620.0h0M301.4 618.4h0M301.7 623.1h0M302.0 622.0h0M301.9 626.0h0M302.0 630.7h0M302.3 618.3h0M302.2 622.5h0M302.4 619.8h0M302.3 630.5h0M302.4 618.1h0M302.7 623.7h0M302.8 630.1h0M302.7 625.8h0M302.7 634.5h0M303.0 631.0h0M303.1 616.9h0M303.0 621.8h0M303.4 629.1h0M303.3 617.4h0M303.3 619.0h0M303.6 627.0h0M303.8 621.9h0M303.8 619.1h0M303.7 629.0h0M303.9 628.5h0M304.1 618.2h0M303.9 626.5h0M304.1 625.7h0M304.5 616.6h0M304.7 623.1h0M304.4 613.8h0M304.6 619.9h0M304.8 626.9h0M304.9 618.5h0M304.9 632.8h0M305.0 629.7h0M305.1 622.0h0M305.4 618.9h0M305.5 621.8h0M305.2 614.1h0M305.4 616.1h0M305.7 611.7h0M305.7 613.2h0M306.0 611.8h0M305.8 618.2h0M305.9 615.3h0M306.1 621.6h0M306.2 621.1h0M306.3 610.4h0M306.4 618.1h0M306.4 616.2h0M306.3 619.0h0M306.5 612.1h0M306.7 617.5h0M306.7 608.4h0M307.0 613.4h0M307.0 619.9h0M307.0 624.8h0M307.3 607.3h0M307.2 612.4h0M307.5 609.2h0M307.3 611.4h0M307.5 594.8h0M307.8 566.2h0M307.7 560.5h0M312.0 657.7h0M312.1 658.2h0M312.4 655.3h0M312.4 655.6h0M312.4 658.8h0M312.8 652.6h0M312.8 653.1h0M312.9 647.8h0M313.2 654.6h0M313.2 650.9h0M313.4 645.7h0M313.6 648.2h0M313.5 645.6h0M313.7 643.1h0M313.8 641.2h0M314.0 643.1h0M314.2 643.0h0M314.3 645.0h0M314.4 642.1h0M314.5 641.6h0M314.8 639.6h0M315.0 640.2h0M315.3 639.8h0M315.1 637.8h0M315.2 636.7h0M315.2 649.1h0M315.6 648.6h0M316.0 645.1h0M316.0 638.9h0M316.2 638.3h0M316.0 638.9h0M316.1 635.6h0M316.5 636.1h0M316.5 635.6h0M316.6 637.1h0M316.8 639.0h0M317.0 636.8h0M317.1 634.7h0M317.5 635.9h0M317.5 633.9h0M317.4 634.8h0M317.7 634.2h0M317.8 635.6h0M317.9 635.4h0M318.1 632.5h0M318.0 631.1h0M318.3 630.2h0M318.6 640.1h0M318.5 642.5h0M318.8 638.0h0M318.9 631.3h0M319.0 638.1h0M319.2 634.7h0M319.2 628.9h0M319.3 628.9h0M319.6 639.8h0M319.7 632.7h0M319.5 628.2h0M319.8 632.5h0M320.1 630.1h0M320.4 633.0h0M320.6 635.8h0M320.5 633.0h0M320.5 633.9h0M320.8 628.7h0M320.7 630.9h0M321.2 626.8h0M321.2 628.5h0M321.0 627.4h0M321.4 626.4h0M321.5 634.9h0M321.7 636.0h0M321.9 629.0h0M322.2 625.6h0M322.1 627.0h0M322.3 629.5h0M322.3 625.2h0M322.6 626.3h0M322.6 625.1h0M322.8 626.2h0M322.9 626.4h0M323.0 630.2h0M322.9 626.7h0M323.2 628.1h0M323.4 631.7h0M323.7 625.5h0M323.8 627.3h0M323.8 631.6h0M324.0 635.1h0M324.4 623.9h0M324.1 623.4h0M324.1 622.6h0M324.6 621.8h0M324.6 627.6h0M324.9 621.6h0M325.1 625.1h0M324.9 621.4h0M325.3 622.8h0M325.2 624.9h0M325.3 620.6h0M325.7 625.0h0M325.7 620.8h0M325.8 626.4h0M326.0 622.9h0M326.3 621.2h0M326.4 619.7h0M326.4 619.4h0M326.5 628.9h0M326.7 632.4h0M326.6 618.7h0M326.9 624.3h0M327.2 619.3h0M327.2 619.8h0M327.2 618.2h0M327.6 619.9h0M327.6 618.0h0M327.7 617.4h0M327.8 619.9h0M327.9 617.3h0M328.1 623.3h0M328.3 619.6h0M328.5 624.9h0M328.4 617.6h0M328.5 616.8h0M328.7 623.4h0M329.0 625.4h0M329.1 618.1h0M329.3 615.7h0M329.4 615.2h0M329.5 621.6h0M329.7 614.6h0M329.9 617.2h0M330.0 618.5h0M330.1 614.0h0M330.1 616.8h0M330.6 615.1h0M330.5 616.4h0M330.8 613.5h0M330.8 615.4h0M330.7 612.8h0M331.0 621.3h0M331.1 620.2h0M331.5 616.9h0M331.5 612.6h0M331.6 616.2h0M331.7 616.8h0M332.1 609.2h0M332.1 613.3h0M332.1 611.7h0M332.3 609.7h0M332.4 611.4h0M332.4 608.5h0M332.7 608.0h0M332.9 606.2h0M333.0 613.2h0M333.1 611.1h0M333.2 608.2h0M333.3 606.6h0M333.5 607.6h0M333.6 605.5h0M333.8 607.3h0M333.9 607.5h0M334.2 601.7h0M334.3 602.3h0M334.3 602.2h0M334.3 602.8h0M334.7 600.0h0M334.4 598.6h0M335.0 601.8h0M335.1 599.9h0M335.1 599.6h0M335.4 600.7h0M335.2 601.8h0M335.3 595.4h0M335.6 598.4h0M336.0 595.2h0M335.9 597.3h0M336.1 597.6h0M336.1 595.5h0M336.2 594.0h0M336.7 590.7h0M336.8 593.2h0M336.7 591.3h0M336.6 595.2h0M337.0 589.7h0M337.2 588.7h0M337.2 591.8h0M337.5 586.2h0M337.5 586.4h0M337.6 587.3h0M337.7 588.0h0M338.2 591.1h0M338.0 591.6h0M338.1 585.9h0M338.2 583.1h0M338.3 587.5h0M338.6 585.7h0M338.7 581.9h0M339.0 582.8h0M339.0 580.5h0M339.4 580.5h0M339.2 581.8h0M339.4 592.9h0M339.8 581.2h0M339.9 579.4h0M339.9 589.8h0M340.1 583.1h0M340.0 586.6h0M340.3 579.2h0M340.6 581.6h0M340.6 575.5h0M340.7 575.8h0M340.7 558.2h0M341.1 552.0h0M345.6 668.5h0M346.0 669.8h0M347.2 656.0h0M347.8 651.3h0M348.6 653.1h0M349.4 652.2h0M350.4 648.4h0M351.2 637.0h0M352.2 632.7h0M352.6 630.6h0M353.7 632.5h0M354.1 636.5h0M354.8 622.5h0M355.7 626.2h0M356.4 622.0h0M357.4 631.5h0M358.2 619.6h0M359.0 617.2h0M359.8 616.5h0M360.8 618.5h0M361.3 614.9h0M362.2 623.3h0M362.9 612.7h0M363.7 628.4h0M364.4 618.2h0M365.1 614.2h0M366.1 612.5h0M366.8 611.9h0M367.7 608.3h0M368.4 608.0h0M369.2 616.9h0M369.9 604.4h0M370.6 601.9h0M371.5 599.0h0M372.2 597.9h0M372.9 572.3h0M373.9 568.0h0M378.5 646.4h0M378.6 636.8h0M378.9 649.3h0M379.3 644.6h0M379.4 639.1h0M379.8 637.1h0M379.9 633.9h0M380.3 642.3h0M380.3 637.9h0M380.7 640.8h0M380.8 625.9h0M381.0 626.9h0M381.2 630.6h0M381.4 628.1h0M381.9 630.5h0M382.0 626.5h0M382.3 625.3h0M382.6 625.2h0M382.6 630.6h0M383.0 624.0h0M382.9 630.1h0M383.0 632.2h0M383.6 625.6h0M383.9 622.7h0M384.2 623.6h0M384.4 624.5h0M384.7 640.8h0M384.8 622.0h0M384.9 636.0h0M385.2 627.3h0M385.6 625.3h0M385.6 626.8h0M385.9 624.3h0M385.9 621.4h0M386.4 622.0h0M386.5 623.9h0M386.8 623.6h0M387.3 622.0h0M387.3 624.3h0M387.4 620.9h0M387.7 620.9h0M387.9 622.5h0M388.5 624.3h0M388.6 623.0h0M388.8 618.3h0M389.1 623.1h0M389.0 628.0h0M389.4 619.0h0M390.0 623.9h0M389.8 630.1h0M390.1 630.3h0M390.3 621.6h0M390.5 617.0h0M390.9 619.9h0M390.9 624.4h0M391.2 617.6h0M391.5 625.6h0M392.1 615.2h0M392.1 618.9h0M392.3 614.7h0M392.4 621.9h0M392.5 618.0h0M392.9 614.5h0M393.0 613.3h0M393.4 624.3h0M393.5 618.1h0M393.8 613.8h0M394.1 614.1h0M394.3 614.9h0M394.4 618.1h0M394.7 611.1h0M395.0 612.1h0M394.9 618.9h0M395.6 614.2h0M395.6 611.6h0M395.9 610.6h0M396.0 612.7h0M396.4 611.3h0M396.3 612.8h0M396.9 609.6h0M397.1 609.8h0M397.3 614.3h0M397.5 608.4h0M397.7 608.5h0M397.9 614.8h0M398.2 609.0h0M398.7 606.1h0M398.7 606.3h0M399.2 605.7h0M399.2 606.9h0M399.6 613.2h0M399.7 608.4h0M399.9 606.3h0M400.1 614.0h0M400.4 603.8h0M400.4 616.1h0M400.7 610.0h0M401.0 603.3h0M401.2 614.8h0M401.5 601.7h0M401.6 605.8h0M402.0 606.6h0M402.3 601.7h0M402.4 603.8h0M402.7 599.8h0M402.8 602.8h0M403.1 601.1h0M403.3 598.7h0M403.9 606.4h0M403.8 599.3h0M404.0 598.6h0M404.3 607.8h0M404.6 598.4h0M404.8 602.4h0M404.8 597.4h0M405.4 601.1h0M405.5 596.5h0M405.9 604.2h0M405.7 594.4h0M406.1 596.5h0M406.3 595.8h0M406.6 593.7h0M406.7 588.9h0M407.2 586.5h0M407.3 587.0h0M411.8 665.7h0M411.9 669.3h0M411.8 660.3h0M411.9 681.0h0M411.8 692.3h0M412.0 669.4h0M412.2 677.2h0M412.0 663.2h0M412.0 668.3h0M412.2 681.0h0M412.3 660.5h0M412.5 663.5h0M412.4 659.4h0M412.6 677.2h0M412.6 664.8h0M412.7 653.1h0M412.9 652.1h0M413.1 653.1h0M412.6 651.6h0M412.9 647.5h0M412.9 651.8h0M413.1 651.0h0M413.1 662.5h0M413.4 644.1h0M413.4 654.5h0M413.3 650.1h0M413.3 647.4h0M413.5 648.1h0M413.7 641.8h0M413.6 665.9h0M413.7 639.3h0M413.8 649.4h0M413.9 640.0h0M413.7 645.1h0M414.0 658.8h0M414.1 654.2h0M414.1 654.0h0M414.1 640.6h0M414.2 636.9h0M414.4 659.3h0M414.3 639.8h0M414.6 643.5h0M414.5 643.4h0M414.6 641.9h0M414.5 651.9h0M414.8 642.1h0M414.8 634.8h0M415.0 664.8h0M415.0 638.6h0M415.1 652.6h0M415.3 634.9h0M415.3 635.9h0M415.4 640.1h0M415.4 639.7h0M415.3 643.9h0M415.5 656.7h0M415.7 638.8h0M415.4 639.1h0M415.6 642.0h0M415.7 650.8h0M415.8 634.1h0M415.9 636.3h0M416.1 635.2h0M416.0 654.0h0M416.1 634.1h0M416.1 642.4h0M416.0 656.3h0M416.2 642.2h0M416.3 631.8h0M416.5 652.4h0M416.5 636.3h0M416.3 635.0h0M416.5 630.1h0M416.8 634.0h0M416.8 643.6h0M416.8 640.9h0M416.9 631.9h0M416.9 637.1h0M417.0 641.5h0M417.1 630.7h0M417.0 635.5h0M417.1 629.4h0M417.3 633.7h0M417.3 631.4h0M417.4 628.7h0M417.4 632.2h0M417.5 643.8h0M417.6 633.3h0M417.6 630.8h0M417.6 629.7h0M417.9 629.7h0M417.9 632.3h0M418.2 628.9h0M418.1 633.9h0M418.1 637.1h0M418.1 633.8h0M418.4 629.8h0M418.3 630.7h0M418.4 627.0h0M418.6 630.7h0M418.5 647.0h0M418.7 626.4h0M418.8 625.8h0M418.8 636.0h0M418.7 640.4h0M418.9 629.7h0M419.2 632.7h0M418.8 632.9h0M418.7 636.2h0M419.0 631.7h0M419.2 626.7h0M419.1 641.1h0M419.2 630.1h0M419.3 633.8h0M419.6 629.6h0M419.6 626.8h0M419.5 627.1h0M419.8 624.1h0M419.8 628.3h0M419.8 637.4h0M419.8 625.3h0M419.9 624.3h0M420.0 626.0h0M420.0 642.3h0M420.2 626.1h0M420.2 625.4h0M420.3 636.3h0M420.3 624.7h0M420.4 626.5h0M420.5 626.2h0M420.6 623.7h0M420.9 623.0h0M420.6 622.1h0M420.9 637.8h0M420.7 627.2h0M420.9 643.6h0M421.0 630.5h0M420.9 625.9h0M421.1 642.1h0M421.3 622.8h0M421.3 621.5h0M421.4 621.4h0M421.5 623.1h0M421.4 624.0h0M421.6 625.5h0M421.8 622.7h0M421.5 623.3h0M421.9 624.2h0M422.0 624.1h0M421.9 624.7h0M422.0 621.8h0M421.8 619.9h0M422.0 633.7h0M422.2 629.5h0M422.1 623.0h0M422.0 639.0h0M422.5 633.8h0M422.4 642.6h0M422.6 620.2h0M422.5 624.3h0M422.6 626.2h0M422.5 624.6h0M422.8 627.6h0M422.7 629.1h0M423.1 621.9h0M422.9 621.0h0M422.9 621.6h0M423.2 618.2h0M423.0 624.4h0M423.4 621.3h0M423.4 620.2h0M423.5 618.4h0M423.5 638.0h0M423.6 619.5h0M423.7 623.4h0M423.7 619.9h0M423.8 625.5h0M423.6 619.8h0M424.0 617.1h0M424.4 617.7h0M424.4 626.3h0M424.2 616.9h0M423.9 617.3h0M424.1 616.8h0M424.6 622.7h0M424.3 617.9h0M424.4 621.2h0M424.5 625.9h0M424.5 620.2h0M424.6 618.3h0M424.9 623.4h0M424.7 615.9h0M424.9 631.7h0M425.1 617.9h0M425.1 616.3h0M424.9 618.4h0M425.2 620.2h0M425.4 620.3h0M425.2 615.9h0M425.3 615.0h0M425.4 620.4h0M425.5 617.7h0M425.4 627.9h0M425.7 616.1h0M425.7 621.4h0M425.8 614.2h0M425.7 628.4h0M426.0 621.9h0M426.0 616.8h0M426.2 615.5h0M426.2 613.4h0M425.9 617.6h0M426.3 613.6h0M426.6 618.0h0M426.5 618.1h0M426.4 620.0h0M426.6 627.4h0M426.8 612.9h0M426.6 613.3h0M426.8 621.6h0M426.9 614.2h0M426.9 619.0h0M426.8 618.1h0M426.9 612.9h0M426.9 632.3h0M427.1 621.1h0M427.3 617.7h0M427.5 614.2h0M427.3 615.3h0M427.3 612.4h0M427.5 630.3h0M427.5 628.5h0M427.7 617.1h0M427.8 614.1h0M428.0 611.6h0M428.0 613.6h0M428.0 613.9h0M428.0 612.1h0M428.0 613.1h0M428.1 613.2h0M428.3 612.9h0M428.4 611.8h0M428.4 611.1h0M428.4 610.6h0M428.4 618.3h0M428.5 614.4h0M428.6 614.7h0M428.6 610.8h0M428.9 616.4h0M428.6 615.2h0M428.8 612.7h0M429.1 618.4h0M429.1 611.5h0M429.1 622.6h0M429.3 614.7h0M429.2 611.6h0M429.2 609.6h0M429.2 609.0h0M429.5 631.4h0M429.6 608.8h0M429.7 609.0h0M429.7 609.5h0M429.9 609.5h0M429.8 613.0h0M429.8 611.3h0M429.9 613.9h0M430.0 608.4h0M430.1 627.1h0M430.1 612.3h0M430.3 608.0h0M430.4 617.7h0M430.6 613.3h0M430.3 609.1h0M430.3 610.6h0M430.6 609.2h0M430.5 607.7h0M430.7 616.8h0M430.6 609.2h0M430.8 612.1h0M430.7 612.7h0M431.1 607.0h0M431.2 608.2h0M431.2 612.9h0M431.0 609.7h0M431.1 607.8h0M431.4 607.1h0M431.3 609.9h0M431.4 607.7h0M431.7 610.8h0M431.6 609.1h0M431.7 607.4h0M431.9 611.0h0M431.7 612.0h0M431.9 608.1h0M431.9 608.1h0M431.9 612.1h0M432.1 611.3h0M432.2 607.1h0M432.1 606.2h0M432.3 610.1h0M432.3 615.2h0M432.4 611.2h0M432.2 606.2h0M432.6 605.7h0M432.8 605.3h0M432.8 616.5h0M432.8 607.4h0M432.6 604.5h0M432.9 608.7h0M433.0 606.0h0M433.1 609.2h0M433.0 605.2h0M433.3 607.7h0M433.2 606.6h0M433.3 608.4h0M433.4 607.0h0M433.5 605.4h0M433.5 605.9h0M433.8 603.9h0M433.9 611.4h0M433.6 604.1h0M433.9 610.2h0M433.8 605.1h0M434.0 608.9h0M434.0 604.2h0M434.1 626.2h0M434.1 606.3h0M434.2 612.6h0M434.2 610.4h0M434.5 603.6h0M434.8 606.9h0M434.5 602.9h0M434.7 602.8h0M434.7 603.5h0M434.7 619.7h0M434.8 603.4h0M434.8 602.9h0M434.8 602.4h0M435.1 604.2h0M435.0 607.0h0M434.9 602.3h0M435.2 605.0h0M435.3 609.0h0M435.4 601.8h0M435.5 602.5h0M435.4 604.8h0M435.8 603.0h0M435.7 605.2h0M435.6 606.3h0M436.1 603.0h0M436.0 609.3h0M436.2 601.9h0M435.8 604.1h0M436.0 601.9h0M436.2 603.3h0M436.1 605.1h0M436.3 606.5h0M436.3 600.7h0M436.5 600.0h0M436.7 600.7h0M436.4 604.4h0M436.7 602.4h0M436.8 600.5h0M436.6 603.3h0M436.6 601.8h0M437.0 599.0h0M437.1 598.5h0M436.9 600.6h0M437.2 600.8h0M437.3 599.6h0M437.0 599.8h0M437.4 603.7h0M437.5 597.7h0M437.5 605.0h0M437.5 600.9h0M437.7 601.0h0M437.6 597.3h0M437.6 616.3h0M437.9 599.9h0M437.8 600.8h0M437.8 597.6h0M438.0 603.7h0M437.9 596.9h0M438.0 598.7h0M438.1 596.8h0M438.2 597.3h0M438.5 616.5h0M438.3 614.3h0M438.5 597.3h0M438.4 597.0h0M438.3 597.5h0M438.6 602.3h0M438.7 613.6h0M438.9 599.3h0M439.2 595.3h0M439.0 594.6h0M439.1 601.4h0M438.9 594.1h0M439.3 596.1h0M439.1 599.2h0M439.3 595.0h0M439.3 594.1h0M439.6 595.9h0M439.5 602.9h0M439.4 592.0h0M439.8 592.9h0M439.6 592.2h0M439.6 591.2h0M439.8 588.3h0M439.9 595.2h0M439.9 588.0h0M440.0 588.3h0M439.9 592.6h0M440.3 591.3h0M440.2 585.2h0M440.1 594.7h0M440.4 599.1h0M440.3 585.7h0M440.6 581.4h0M440.6 576.3h0M444.8 681.0h0M445.1 692.3h0M445.0 685.7h0M445.2 692.3h0M445.3 685.7h0M445.0 692.3h0M445.1 692.3h0M445.2 681.0h0M445.4 692.3h0M445.4 692.3h0M445.5 681.0h0M445.6 681.0h0M445.8 685.7h0M445.7 677.2h0M445.9 674.1h0M445.9 685.7h0M446.1 674.1h0M446.0 685.7h0M446.2 681.0h0M446.2 685.7h0M446.3 671.5h0M446.2 671.5h0M446.5 667.8h0M446.4 674.1h0M446.5 670.0h0M446.4 669.8h0M446.7 674.1h0M446.5 663.3h0M446.7 669.3h0M446.7 677.2h0M446.8 659.6h0M446.9 669.5h0M447.1 662.9h0M447.1 657.1h0M447.3 656.2h0M447.4 658.3h0M447.2 658.3h0M447.3 663.3h0M447.5 653.2h0M447.3 661.6h0M447.7 655.2h0M447.9 649.1h0M447.9 651.7h0M447.9 651.7h0M447.9 646.4h0M447.9 649.7h0M448.3 651.7h0M448.0 643.0h0M448.0 641.9h0M448.3 643.4h0M448.2 656.3h0M448.5 641.8h0M448.5 646.5h0M448.7 638.4h0M448.7 638.8h0M448.7 643.6h0M448.8 650.5h0M448.9 638.6h0M448.9 637.7h0M449.0 632.4h0M449.0 635.6h0M449.0 628.1h0M449.2 638.0h0M449.2 629.4h0M449.5 632.0h0M449.3 632.3h0M449.5 628.3h0M449.3 625.4h0M449.6 634.0h0M449.5 632.0h0M449.8 629.0h0M449.6 624.5h0M449.9 627.5h0M449.9 625.6h0M450.2 624.3h0M450.1 624.5h0M450.1 640.0h0M450.0 628.4h0M450.3 623.4h0M450.4 629.4h0M450.5 629.3h0M450.4 625.8h0M450.4 630.1h0M450.7 638.2h0M450.7 624.9h0M450.5 621.3h0M451.1 622.6h0M450.9 623.6h0M451.1 621.0h0M451.1 624.2h0M451.0 622.1h0M451.1 637.6h0M451.1 619.0h0M451.5 619.2h0M451.2 621.5h0M451.5 622.2h0M451.4 619.3h0M451.7 620.1h0M451.6 617.8h0M451.7 619.8h0M451.8 618.8h0M451.6 620.6h0M452.2 619.4h0M451.9 619.1h0M452.0 620.3h0M452.1 622.4h0M452.3 619.9h0M452.3 620.1h0M452.5 617.0h0M452.3 622.4h0M452.4 623.4h0M452.5 628.2h0M452.7 617.2h0M452.8 617.2h0M452.9 630.4h0M452.9 618.1h0M453.1 621.5h0M453.0 617.9h0M453.0 619.3h0M453.0 616.7h0M453.2 617.3h0M453.3 618.7h0M453.2 619.4h0M453.4 616.8h0M453.4 616.2h0M453.4 615.7h0M453.4 616.3h0M453.8 616.8h0M453.8 619.7h0M453.8 615.3h0M453.8 616.0h0M454.0 616.0h0M453.8 630.3h0M454.2 622.5h0M454.1 616.5h0M454.0 622.6h0M454.2 616.9h0M454.6 615.0h0M454.4 615.3h0M454.6 615.0h0M454.5 617.1h0M454.7 615.5h0M454.5 616.7h0M454.8 615.0h0M454.9 617.1h0M455.0 615.7h0M454.9 625.3h0M455.1 625.5h0M455.0 614.1h0M454.9 620.9h0M455.3 615.5h0M455.5 615.2h0M455.5 631.1h0M455.7 614.6h0M455.8 613.6h0M455.6 627.1h0M455.7 629.4h0M455.8 627.5h0M456.0 613.5h0M456.0 621.3h0M456.1 620.9h0M456.2 614.5h0M456.1 613.2h0M456.0 613.1h0M456.2 614.1h0M456.1 620.9h0M456.5 615.5h0M456.4 613.0h0M456.7 614.0h0M456.5 615.3h0M456.7 613.8h0M456.7 619.3h0M456.7 613.4h0M456.8 613.3h0M456.8 614.1h0M457.2 615.6h0M457.0 611.8h0M457.2 613.7h0M457.5 615.9h0M457.4 614.5h0M457.3 614.6h0M457.5 628.8h0M457.6 620.4h0M457.6 612.9h0M457.7 611.4h0M457.8 614.9h0M457.9 611.2h0M457.7 625.5h0M457.9 621.1h0M457.8 611.7h0M458.1 611.2h0M458.1 611.0h0M458.4 616.9h0M458.2 611.9h0M458.2 618.9h0M458.5 615.2h0M458.6 625.3h0M458.5 614.5h0M458.5 612.1h0M458.8 611.4h0M458.7 616.9h0M458.8 611.3h0M458.9 610.3h0M458.7 610.8h0M459.0 613.2h0M459.0 610.4h0M459.2 610.2h0M459.1 617.0h0M459.2 611.3h0M459.3 617.0h0M459.4 612.1h0M459.6 625.3h0M459.6 609.8h0M459.8 615.0h0M459.8 610.9h0M459.9 620.9h0M459.8 611.4h0M460.0 612.3h0M460.1 610.6h0M460.0 610.7h0M460.2 614.4h0M460.1 611.5h0M460.5 614.5h0M460.5 612.9h0M460.6 612.2h0M460.4 609.4h0M460.8 613.3h0M460.6 611.1h0M460.6 612.5h0M460.7 625.2h0M460.8 609.7h0M461.0 609.8h0M461.0 610.0h0M461.1 612.1h0M461.1 612.6h0M461.4 609.2h0M461.2 608.7h0M461.3 620.2h0M461.5 609.8h0M461.5 609.1h0M461.7 610.1h0M461.7 608.2h0M462.0 609.6h0M461.6 609.9h0M461.8 608.2h0M462.0 610.0h0M461.9 611.3h0M462.2 609.9h0M462.2 610.9h0M462.2 608.3h0M462.4 610.7h0M462.3 610.4h0M462.5 608.3h0M462.3 612.9h0M462.4 608.0h0M462.7 607.9h0M462.7 608.9h0M462.7 609.0h0M462.9 610.5h0M462.7 608.6h0M462.8 608.8h0M463.1 611.9h0M462.8 610.7h0M463.0 607.1h0M463.2 607.6h0M463.1 609.9h0M463.2 614.3h0M463.3 609.5h0M463.4 615.0h0M463.5 609.7h0M463.7 608.7h0M463.7 609.2h0M463.9 608.9h0M463.8 608.6h0M464.0 606.9h0M463.8 610.1h0M464.0 607.6h0M464.0 608.9h0M464.4 608.4h0M464.2 612.7h0M464.4 608.3h0M464.3 608.1h0M464.6 608.2h0M464.5 607.1h0M464.7 614.8h0M464.8 608.2h0M464.9 606.2h0M465.0 606.1h0M465.0 606.0h0M464.9 613.1h0M464.8 620.0h0M465.2 609.0h0M465.2 612.3h0M465.2 605.5h0M465.3 617.1h0M465.2 608.9h0M465.5 608.8h0M465.7 616.9h0M465.6 606.2h0M465.5 607.9h0M465.7 607.4h0M466.0 613.0h0M465.8 606.3h0M465.9 608.6h0M466.0 606.5h0M466.2 606.2h0M466.2 607.2h0M466.3 606.8h0M466.2 606.0h0M466.5 606.9h0M466.4 606.9h0M466.3 618.0h0M466.7 622.9h0M466.7 605.1h0M466.7 609.2h0M466.8 610.0h0M467.0 622.7h0M466.8 606.3h0M467.1 606.6h0M467.0 605.5h0M467.1 606.1h0M467.2 606.2h0M467.1 605.9h0M467.5 606.0h0M467.5 604.4h0M467.4 605.7h0M467.5 606.0h0M467.7 608.3h0M467.8 608.2h0M467.8 608.1h0M467.9 609.9h0M467.8 605.7h0M467.9 603.6h0M468.1 605.5h0M468.0 607.3h0M468.4 606.0h0M468.4 602.8h0M468.4 617.2h0M468.3 606.8h0M468.3 603.5h0M468.6 610.9h0M468.6 605.6h0M468.7 602.5h0M468.8 601.9h0M468.8 603.6h0M469.0 605.4h0M469.0 603.3h0M468.9 602.1h0M469.3 601.7h0M469.3 605.4h0M469.0 601.9h0M469.4 602.1h0M469.5 604.6h0M469.3 602.1h0M469.5 602.8h0M469.5 609.1h0M469.7 607.9h0M469.7 608.7h0M469.8 606.5h0M469.8 604.4h0M469.7 604.2h0M470.1 601.3h0M470.2 601.0h0M470.0 605.3h0M470.0 605.8h0M470.1 613.5h0M470.3 603.7h0M470.5 616.5h0M470.7 603.1h0M470.2 600.6h0M470.6 613.1h0M470.6 601.6h0M470.7 601.1h0M471.1 608.9h0M470.8 604.1h0M470.8 601.1h0M471.1 599.7h0M471.2 600.7h0M471.4 605.9h0M471.5 601.3h0M471.2 599.4h0M471.6 598.4h0M471.6 602.4h0M471.6 600.2h0M471.6 597.5h0M471.7 600.5h0M471.9 600.1h0M472.0 596.7h0M471.9 603.9h0M472.1 598.0h0M472.0 596.1h0M472.2 596.3h0M472.1 597.5h0M472.2 597.1h0M472.2 599.2h0M472.5 597.9h0M472.5 613.2h0M472.4 594.7h0M472.6 594.2h0M472.5 596.4h0M472.6 595.5h0M472.8 596.4h0M472.8 595.5h0M473.0 594.9h0M473.1 594.7h0M473.0 612.1h0M473.1 591.7h0M473.2 591.1h0M473.3 590.1h0M473.3 590.0h0M473.4 593.2h0M473.4 588.3h0M473.5 590.6h0M473.8 584.5h0M473.4 570.2h0M473.8 561.6h0M478.2 692.3h0M478.2 685.7h0M478.3 677.2h0M478.3 674.1h0M478.3 674.1h0M478.8 674.1h0M478.7 670.1h0M478.8 669.5h0M479.0 664.2h0M479.1 670.9h0M479.1 667.7h0M479.5 658.6h0M479.0 655.5h0M479.6 656.9h0M479.4 655.7h0M479.9 659.2h0M479.7 657.5h0M479.8 652.1h0M480.0 652.5h0M480.1 646.6h0M480.4 651.4h0M480.5 644.7h0M480.6 645.8h0M480.6 641.7h0M480.7 640.7h0M480.9 644.7h0M481.1 652.1h0M481.1 641.2h0M481.0 647.6h0M481.4 638.8h0M481.5 644.3h0M481.5 634.4h0M481.8 644.6h0M481.9 635.1h0M481.8 635.8h0M482.2 636.0h0M482.1 634.1h0M482.1 630.8h0M482.5 633.3h0M482.5 632.4h0M482.4 627.6h0M482.5 627.9h0M482.7 627.7h0M483.0 628.3h0M483.1 628.6h0M483.2 627.2h0M483.4 623.9h0M483.2 625.4h0M483.8 631.4h0M483.6 621.9h0M483.9 621.6h0M483.7 620.7h0M483.9 620.8h0M484.2 623.4h0M483.9 617.5h0M484.2 621.3h0M484.5 619.5h0M484.5 618.7h0M484.7 622.2h0M484.7 617.5h0M485.0 618.1h0M484.8 615.3h0M485.0 616.9h0M485.2 617.2h0M485.3 613.9h0M485.3 619.5h0M485.4 614.7h0M485.7 612.8h0M485.9 612.8h0M485.9 611.7h0M486.0 611.6h0M486.1 611.5h0M486.4 611.6h0M486.2 614.6h0M486.3 616.3h0M486.7 609.2h0M486.5 617.2h0M486.8 609.4h0M486.7 608.8h0M487.2 610.0h0M487.3 611.3h0M487.3 609.1h0M487.6 610.1h0M487.5 606.8h0M487.5 606.7h0M487.6 608.0h0M487.8 606.4h0M487.9 607.0h0M487.9 606.5h0M488.2 607.8h0M488.3 608.5h0M488.4 611.3h0M488.6 606.0h0M488.7 605.8h0M488.7 606.5h0M488.7 607.9h0M489.0 607.6h0M489.1 606.4h0M489.1 606.3h0M489.1 605.3h0M489.4 604.7h0M489.3 611.4h0M489.5 604.3h0M489.8 605.4h0M489.6 608.3h0M489.9 607.2h0M490.3 605.0h0M490.0 606.1h0M490.0 607.2h0M490.5 604.3h0M490.4 603.5h0M490.5 606.0h0M490.5 602.6h0M490.8 603.7h0M491.1 602.9h0M491.1 605.0h0M491.2 607.0h0M491.5 610.3h0M491.3 602.3h0M491.7 602.9h0M491.6 601.7h0M491.8 602.7h0M492.0 604.5h0M491.9 603.9h0M492.1 604.2h0M492.3 600.7h0M492.3 600.5h0M492.4 601.0h0M492.5 600.7h0M492.5 600.3h0M492.8 600.4h0M492.9 601.9h0M493.1 601.8h0M493.2 599.9h0M493.4 602.1h0M493.5 599.5h0M493.5 600.1h0M493.6 599.8h0M493.6 599.2h0M493.8 599.3h0M493.9 599.8h0M493.9 598.6h0M494.1 599.8h0M494.3 599.0h0M494.4 600.1h0M494.5 600.3h0M494.4 599.9h0M494.7 601.0h0M494.8 598.0h0M494.9 600.3h0M495.0 598.1h0M495.2 601.6h0M495.3 600.4h0M495.5 597.2h0M495.5 597.3h0M495.7 598.8h0M495.6 600.2h0M495.6 598.2h0M495.8 597.8h0M496.2 596.6h0M496.2 602.2h0M496.2 596.1h0M496.5 599.5h0M496.6 596.0h0M496.5 600.0h0M496.7 596.9h0M496.9 596.6h0M497.0 596.5h0M497.1 597.6h0M497.2 595.7h0M497.2 597.3h0M497.5 595.9h0M497.3 595.1h0M497.7 599.2h0M497.7 600.9h0M497.8 595.4h0M498.3 594.1h0M498.0 594.3h0M498.3 596.2h0M498.2 596.5h0M498.5 593.6h0M498.7 592.9h0M498.7 592.5h0M498.8 595.1h0M498.9 593.8h0M499.0 596.3h0M499.0 592.0h0M499.3 591.1h0M499.3 591.9h0M499.5 591.4h0M499.6 590.9h0M499.6 590.8h0M499.8 590.4h0M500.0 592.1h0M500.1 590.4h0M500.0 589.6h0M500.4 590.9h0M500.3 588.8h0M500.6 588.9h0M500.6 594.9h0M500.5 588.6h0M500.7 588.0h0M501.0 588.9h0M500.9 588.4h0M501.2 589.3h0M501.2 589.6h0M501.6 588.1h0M501.5 589.7h0M501.6 586.9h0M502.1 587.5h0M501.9 585.5h0M501.7 585.3h0M502.3 586.2h0M502.3 587.4h0M502.6 584.7h0M502.5 585.8h0M502.5 585.3h0M502.6 585.7h0M502.6 584.2h0M503.0 584.4h0M503.0 584.5h0M503.1 583.6h0M503.3 582.5h0M503.3 585.5h0M503.5 583.4h0M503.6 583.3h0M503.5 581.8h0M503.8 582.0h0M503.8 582.4h0M504.1 586.3h0M504.2 580.6h0M504.3 579.4h0M504.3 578.5h0M504.4 580.1h0M504.7 578.2h0M504.7 580.0h0M504.9 576.7h0M505.1 577.1h0M505.1 577.1h0M505.2 576.1h0M505.3 576.5h0M505.4 574.2h0M505.3 574.0h0M505.5 574.0h0M505.5 573.0h0M505.9 572.6h0M505.9 576.2h0M506.1 570.7h0M506.3 570.1h0M506.1 570.6h0M506.3 567.4h0M506.5 568.1h0M506.7 566.1h0M506.7 566.3h0M506.9 563.5h0M506.9 552.1h0" stroke="#22228a" stroke-width="1.25" stroke-linecap="round" fill="none" opacity="1"/>
<path d="M46.4 728.7h0M46.5 728.9h0M46.6 729.0h0M46.6 702.6h0M46.8 729.0h0M46.8 729.1h0M46.9 703.0h0M47.0 701.9h0M46.8 702.4h0M47.3 702.3h0M47.0 729.3h0M47.1 728.9h0M47.4 728.8h0M47.3 729.0h0M47.5 729.0h0M47.5 729.1h0M47.6 702.8h0M47.8 729.2h0M47.7 728.9h0M47.8 702.3h0M47.9 729.0h0M47.9 702.5h0M48.2 728.7h0M48.2 729.0h0M48.4 729.2h0M48.3 702.6h0M48.3 728.8h0M48.4 729.0h0M48.5 729.2h0M48.6 729.0h0M48.5 729.2h0M48.6 702.1h0M48.6 729.1h0M49.1 729.0h0M48.9 729.1h0M49.1 702.3h0M49.1 702.9h0M49.2 729.1h0M49.3 729.3h0M49.4 702.4h0M49.3 729.3h0M49.2 728.9h0M49.3 728.9h0M49.4 728.8h0M49.7 728.9h0M49.6 729.1h0M49.7 703.0h0M49.8 728.8h0M49.9 729.0h0M50.0 728.9h0M50.0 729.0h0M50.0 729.1h0M50.4 702.8h0M50.4 703.0h0M50.4 729.1h0M50.4 728.8h0M50.7 729.1h0M50.8 729.0h0M50.7 729.1h0M50.8 702.7h0M50.9 691.9h0M51.0 728.9h0M51.1 728.9h0M51.0 729.0h0M51.1 703.1h0M51.1 702.9h0M51.4 728.8h0M51.3 702.9h0M51.6 729.1h0M51.5 703.1h0M51.5 729.0h0M51.5 728.9h0M51.9 702.7h0M51.8 729.0h0M51.9 729.1h0M51.9 729.0h0M52.1 729.1h0M51.8 701.6h0M52.0 729.0h0M52.2 729.2h0M52.3 729.2h0M52.3 702.9h0M52.4 729.0h0M52.6 728.9h0M52.7 728.7h0M52.8 728.9h0M52.6 729.0h0M52.8 703.0h0M52.9 702.3h0M52.8 702.3h0M53.0 729.2h0M52.8 702.5h0M53.3 702.6h0M53.2 729.2h0M53.4 729.0h0M53.4 728.8h0M53.4 729.0h0M53.5 702.2h0M53.8 728.6h0M53.8 728.8h0M53.7 729.0h0M53.8 702.9h0M53.9 703.1h0M53.9 728.9h0M54.0 728.9h0M54.3 728.9h0M54.2 728.8h0M54.3 729.1h0M54.4 729.0h0M54.4 728.7h0M54.5 728.9h0M54.6 729.2h0M54.7 728.9h0M54.9 729.1h0M54.6 728.9h0M54.8 691.7h0M55.1 729.2h0M55.1 728.8h0M55.1 729.0h0M55.0 728.7h0M55.0 729.1h0M55.4 728.9h0M55.2 703.1h0M55.5 702.9h0M55.6 728.8h0M55.6 702.3h0M55.8 729.0h0M55.6 728.8h0M55.9 728.9h0M56.0 729.3h0M56.0 729.0h0M56.0 702.9h0M55.9 729.2h0M56.1 729.3h0M56.1 729.2h0M56.3 702.4h0M56.5 729.0h0M56.5 728.7h0M56.2 702.3h0M56.7 728.9h0M56.8 702.6h0M56.7 729.0h0M56.8 729.1h0M56.9 728.9h0M56.9 702.8h0M57.0 729.2h0M57.2 702.7h0M57.3 692.0h0M57.1 728.9h0M57.2 729.0h0M57.4 728.9h0M57.5 729.2h0M57.4 729.2h0M57.6 702.8h0M57.8 729.1h0M57.9 729.1h0M57.8 728.8h0M57.9 729.0h0M58.0 702.8h0M58.3 728.8h0M58.0 729.2h0M58.1 702.7h0M58.1 729.2h0M58.4 702.3h0M58.4 729.0h0M58.5 729.1h0M58.7 728.9h0M58.7 729.0h0M58.9 729.1h0M58.8 729.2h0M58.8 702.0h0M58.9 729.1h0M59.0 729.4h0M59.2 728.9h0M59.0 729.1h0M59.1 728.7h0M59.2 728.9h0M59.5 729.1h0M59.3 702.2h0M59.4 729.1h0M59.7 692.6h0M59.7 728.8h0M59.8 702.4h0M59.8 702.3h0M59.9 729.1h0M60.0 728.9h0M60.0 702.6h0M60.0 729.0h0M60.2 702.9h0M60.2 729.0h0M60.3 729.1h0M60.5 728.9h0M60.5 729.0h0M60.7 728.8h0M60.5 702.2h0M60.6 702.5h0M60.8 702.6h0M60.8 728.9h0M61.1 728.8h0M60.8 728.7h0M61.1 702.9h0M61.0 729.0h0M61.1 729.0h0M61.0 702.1h0M61.3 729.2h0M61.5 702.6h0M61.5 702.6h0M61.5 728.9h0M61.7 728.9h0M61.8 729.2h0M61.8 729.2h0M61.9 702.8h0M61.7 729.2h0M61.8 702.9h0M61.9 702.5h0M62.0 729.0h0M62.4 729.2h0M62.2 728.9h0M62.3 728.9h0M62.4 702.5h0M62.6 729.2h0M62.8 701.9h0M62.6 729.0h0M62.7 729.1h0M63.1 729.1h0M63.0 729.1h0M63.0 729.0h0M63.1 729.1h0M63.1 729.2h0M63.1 729.1h0M63.3 729.1h0M63.3 728.6h0M63.5 728.9h0M63.7 702.3h0M63.7 728.9h0M63.6 703.1h0M63.5 728.9h0M63.5 729.2h0M63.8 702.8h0M63.8 702.7h0M64.0 729.0h0M63.9 702.4h0M64.0 728.9h0M64.3 702.7h0M64.2 728.9h0M64.4 702.5h0M64.2 728.8h0M64.6 729.0h0M64.6 728.8h0M64.6 729.0h0M64.7 729.0h0M64.8 729.2h0M64.7 692.2h0M64.9 729.0h0M65.0 702.6h0M65.0 702.7h0M65.1 702.4h0M65.3 728.9h0M65.3 728.9h0M65.2 728.8h0M65.5 702.8h0M65.6 702.4h0M65.7 729.0h0M65.9 729.1h0M65.6 728.8h0M65.9 729.0h0M65.8 729.1h0M66.0 702.3h0M66.0 729.1h0M65.9 729.1h0M66.2 729.1h0M66.0 729.1h0M66.4 702.4h0M66.2 728.8h0M66.3 703.2h0M66.5 728.9h0M66.6 728.8h0M66.6 702.9h0M66.6 728.7h0M66.9 685.9h0M67.0 728.9h0M67.1 692.4h0M67.2 729.1h0M67.1 728.9h0M67.2 728.9h0M67.4 702.7h0M67.5 728.6h0M67.5 729.1h0M67.5 728.9h0M67.5 729.1h0M67.4 702.9h0M67.8 702.6h0M67.7 729.0h0M67.9 728.8h0M67.9 728.9h0M68.2 729.1h0M67.9 728.9h0M68.2 703.0h0M68.2 692.2h0M68.4 729.1h0M68.2 702.6h0M68.6 702.7h0M68.6 702.9h0M68.6 729.1h0M68.6 728.6h0M68.8 692.6h0M68.7 693.2h0M68.8 729.1h0M69.0 729.2h0M68.9 729.0h0M69.0 729.1h0M69.0 702.7h0M69.1 692.3h0M69.2 702.9h0M69.4 729.0h0M69.2 729.1h0M69.5 728.8h0M69.9 702.6h0M69.8 728.9h0M69.8 728.8h0M69.7 728.8h0M69.8 729.2h0M70.3 702.8h0M70.2 728.8h0M70.3 702.8h0M70.1 729.2h0M70.5 729.0h0M70.1 729.2h0M70.3 702.3h0M70.5 729.1h0M70.6 702.6h0M70.9 702.7h0M70.8 728.9h0M70.8 729.0h0M70.6 728.7h0M71.0 728.9h0M71.1 728.9h0M71.1 702.7h0M71.2 702.7h0M71.0 729.0h0M71.3 729.1h0M71.2 729.2h0M71.6 729.0h0M71.7 729.3h0M71.6 702.8h0M71.8 729.1h0M71.7 702.2h0M71.9 702.6h0M71.9 729.1h0M72.0 729.1h0M72.0 702.9h0M72.1 729.1h0M71.9 729.3h0M72.2 728.9h0M72.2 729.0h0M72.6 729.2h0M72.2 728.8h0M72.6 728.8h0M72.7 728.9h0M72.5 729.1h0M72.6 729.2h0M72.8 729.0h0M73.0 729.2h0M72.8 703.0h0M72.9 728.9h0M73.3 728.9h0M73.1 729.0h0M73.2 728.8h0M73.2 729.0h0M73.3 728.8h0M73.3 729.1h0M73.6 729.1h0M73.4 728.9h0M73.5 729.0h0M73.8 728.8h0M73.9 729.1h0M73.9 729.1h0M74.1 728.9h0M74.2 729.1h0M74.1 728.8h0M74.6 729.0h0M74.2 728.7h0M74.3 728.9h0M74.4 728.9h0M74.5 728.7h0M74.6 728.8h0M74.9 702.8h0M74.6 729.3h0M74.7 702.2h0M74.9 729.0h0M74.9 729.2h0M74.9 702.1h0M75.1 702.4h0M75.2 729.1h0M75.4 703.5h0M75.2 728.8h0M75.6 729.0h0M79.7 685.9h0M79.6 702.8h0M80.0 692.4h0M79.8 692.0h0M79.9 692.1h0M80.1 680.9h0M80.0 729.1h0M80.3 702.8h0M80.4 681.3h0M80.2 702.7h0M80.5 728.6h0M80.5 686.2h0M80.8 686.2h0M80.4 729.0h0M80.6 702.9h0M80.7 729.1h0M81.1 729.2h0M80.8 729.1h0M80.7 729.2h0M81.1 702.4h0M81.2 728.9h0M81.2 702.9h0M81.5 702.4h0M81.4 702.7h0M81.7 703.1h0M81.6 686.1h0M81.6 686.2h0M81.7 685.9h0M82.0 691.9h0M81.8 729.1h0M81.9 702.4h0M82.1 692.6h0M82.1 702.9h0M82.1 702.9h0M82.3 702.7h0M82.3 729.1h0M82.5 692.7h0M82.4 702.7h0M82.5 702.7h0M82.5 729.1h0M82.5 692.0h0M82.8 692.0h0M82.7 702.7h0M82.9 692.2h0M83.1 702.4h0M83.1 702.6h0M83.2 702.7h0M83.3 702.9h0M83.5 703.1h0M83.4 692.4h0M83.5 702.8h0M83.7 680.8h0M83.8 686.0h0M83.5 728.7h0M83.5 702.6h0M83.9 702.5h0M83.9 702.4h0M84.1 692.0h0M84.0 702.5h0M84.1 702.6h0M84.3 728.9h0M84.2 729.0h0M84.2 692.3h0M84.4 692.2h0M84.4 692.5h0M84.6 686.1h0M84.6 685.8h0M84.6 685.8h0M84.8 702.4h0M85.1 702.4h0M84.9 702.1h0M85.2 685.7h0M85.4 686.1h0M85.2 692.2h0M85.2 702.3h0M85.5 692.3h0M85.6 692.7h0M85.5 728.9h0M85.6 702.3h0M85.7 702.9h0M85.4 685.8h0M85.9 703.0h0M85.8 702.2h0M85.9 685.1h0M85.8 728.8h0M86.2 702.5h0M86.1 702.4h0M86.2 703.0h0M86.4 729.0h0M86.6 692.5h0M86.4 702.6h0M86.7 728.8h0M86.5 728.8h0M86.5 677.1h0M86.7 671.9h0M87.0 685.8h0M87.0 685.3h0M87.2 702.9h0M87.0 728.9h0M87.1 702.8h0M87.1 702.5h0M87.3 670.2h0M87.5 702.4h0M87.3 728.9h0M87.3 702.5h0M87.8 702.9h0M87.6 729.1h0M87.7 702.8h0M87.9 729.2h0M87.7 692.2h0M88.1 677.2h0M88.0 680.8h0M88.1 692.4h0M88.2 691.8h0M88.1 702.9h0M88.6 685.9h0M88.4 728.9h0M88.8 702.6h0M88.7 692.0h0M88.8 729.3h0M88.7 702.3h0M88.6 702.6h0M89.0 702.7h0M89.0 692.1h0M89.3 692.1h0M89.1 692.1h0M89.1 728.9h0M89.3 692.9h0M89.4 692.3h0M89.6 692.5h0M89.6 729.0h0M89.5 703.0h0M89.8 702.3h0M89.7 691.8h0M89.7 680.9h0M90.0 692.1h0M89.9 692.1h0M90.1 729.0h0M89.9 703.0h0M90.3 702.8h0M90.3 702.7h0M90.5 703.1h0M90.0 685.8h0M90.5 681.0h0M90.4 692.2h0M90.6 702.6h0M90.7 728.9h0M90.9 692.6h0M90.7 702.1h0M91.2 692.5h0M91.1 692.1h0M91.3 691.8h0M91.3 692.1h0M91.3 703.2h0M91.3 729.0h0M91.3 692.4h0M91.4 702.9h0M91.8 702.5h0M91.8 702.6h0M91.8 702.6h0M91.9 702.8h0M91.8 685.8h0M91.8 702.4h0M92.0 703.1h0M92.0 728.9h0M92.3 686.0h0M92.2 692.5h0M92.2 686.0h0M92.4 702.6h0M92.5 702.8h0M92.6 729.1h0M92.7 692.0h0M92.9 729.1h0M92.6 692.3h0M92.9 692.0h0M92.7 728.6h0M93.3 692.1h0M93.2 685.4h0M93.1 729.1h0M93.5 702.3h0M93.4 729.2h0M93.3 676.7h0M93.3 692.3h0M93.7 685.5h0M93.6 703.3h0M93.8 728.9h0M93.8 692.0h0M93.8 703.1h0M94.1 728.9h0M94.2 702.8h0M94.3 702.2h0M94.1 680.8h0M94.3 702.3h0M94.2 702.2h0M94.5 692.0h0M94.5 729.0h0M94.5 685.8h0M94.6 692.0h0M94.8 702.5h0M94.7 703.2h0M95.0 729.0h0M94.7 728.9h0M95.2 692.2h0M95.0 692.2h0M95.0 691.8h0M95.3 691.9h0M95.4 702.7h0M95.6 729.0h0M95.4 702.5h0M95.6 685.3h0M95.7 685.6h0M95.8 729.0h0M96.0 685.6h0M96.1 729.1h0M95.9 685.6h0M95.9 701.8h0M96.1 728.8h0M96.1 692.5h0M95.9 702.7h0M96.4 728.6h0M96.2 702.4h0M96.5 729.1h0M96.8 728.8h0M96.3 702.8h0M96.8 702.4h0M96.7 702.1h0M96.7 702.3h0M96.7 702.4h0M96.9 685.7h0M97.0 728.9h0M97.2 728.9h0M97.1 703.1h0M97.2 703.0h0M97.3 686.5h0M97.3 702.5h0M97.5 702.6h0M97.6 692.0h0M97.7 685.7h0M97.9 680.9h0M97.7 702.8h0M97.9 729.0h0M98.0 680.8h0M98.0 702.5h0M98.1 677.0h0M98.3 685.5h0M98.2 702.4h0M98.7 728.9h0M98.4 685.5h0M98.4 692.1h0M98.6 692.2h0M98.5 692.8h0M98.7 685.5h0M98.8 728.9h0M99.0 729.1h0M99.1 692.6h0M99.1 692.1h0M99.3 677.3h0M99.1 686.0h0M99.2 729.0h0M99.2 703.0h0M99.2 703.0h0M99.5 702.5h0M99.6 702.4h0M99.7 702.2h0M99.9 728.8h0M99.7 692.0h0M99.9 692.1h0M100.0 729.1h0M100.0 702.6h0M100.4 728.9h0M100.1 702.0h0M100.0 702.5h0M100.3 729.0h0M100.6 692.1h0M100.5 702.8h0M100.5 703.2h0M100.7 692.5h0M100.7 729.0h0M100.7 686.0h0M100.9 702.8h0M101.0 702.4h0M100.9 692.1h0M101.1 692.5h0M101.1 702.7h0M101.2 702.9h0M101.4 729.2h0M101.4 691.4h0M101.5 729.0h0M101.4 728.9h0M101.6 702.8h0M101.8 702.9h0M101.9 729.3h0M101.8 692.3h0M101.9 692.1h0M102.1 692.2h0M101.8 702.7h0M102.2 680.7h0M102.2 728.7h0M102.2 702.6h0M102.2 703.0h0M102.6 680.9h0M102.6 702.5h0M102.6 702.0h0M102.6 685.7h0M102.6 702.8h0M103.0 729.0h0M102.9 680.7h0M103.1 680.4h0M103.0 692.0h0M103.2 692.3h0M103.2 685.6h0M103.4 729.2h0M103.5 702.7h0M103.4 692.7h0M103.5 692.9h0M103.6 729.2h0M103.4 702.5h0M103.8 692.8h0M103.7 702.7h0M104.1 703.0h0M103.9 680.9h0M104.0 686.2h0M103.9 692.8h0M104.4 692.0h0M104.5 702.5h0M104.5 702.6h0M104.5 729.2h0M104.5 686.4h0M104.7 685.7h0M104.7 728.9h0M104.6 702.2h0M104.8 702.3h0M104.9 680.9h0M105.0 702.7h0M105.0 702.6h0M105.2 729.1h0M105.3 728.8h0M105.1 701.9h0M105.4 729.1h0M105.3 728.9h0M105.5 702.4h0M105.6 692.5h0M105.7 702.4h0M105.8 692.0h0M105.7 729.0h0M106.0 702.5h0M106.2 729.0h0M106.1 685.3h0M106.0 729.1h0M106.2 686.0h0M106.4 702.3h0M106.6 728.9h0M106.5 703.0h0M106.6 692.6h0M106.6 681.0h0M106.7 702.8h0M106.9 685.7h0M106.6 728.9h0M106.8 702.7h0M107.0 702.4h0M107.2 702.4h0M107.3 729.2h0M107.2 692.4h0M107.1 692.4h0M107.3 692.8h0M107.3 692.2h0M107.5 729.1h0M107.6 686.2h0M107.6 702.1h0M107.4 702.5h0M107.8 685.4h0M107.9 703.1h0M108.0 702.2h0M107.9 702.6h0M108.0 729.1h0M108.3 702.8h0M108.3 729.1h0M108.3 691.6h0M108.2 728.9h0M108.7 729.0h0M108.6 729.1h0M112.8 692.3h0M113.1 702.4h0M113.1 702.1h0M112.9 702.5h0M113.2 692.1h0M113.3 702.2h0M113.3 692.5h0M113.2 681.3h0M113.5 692.8h0M113.3 703.1h0M113.3 677.3h0M113.5 702.3h0M113.7 703.3h0M113.8 702.5h0M113.7 702.8h0M113.9 702.7h0M113.8 692.2h0M113.8 692.1h0M113.9 685.5h0M114.0 702.9h0M114.1 692.7h0M114.1 702.9h0M114.3 686.3h0M114.4 702.5h0M114.5 702.4h0M114.4 729.0h0M114.8 702.9h0M114.7 702.5h0M114.8 692.6h0M114.9 702.6h0M114.9 692.8h0M115.1 686.4h0M115.0 702.4h0M115.1 702.6h0M115.1 692.1h0M115.2 702.1h0M115.3 692.1h0M115.2 702.9h0M115.4 692.4h0M115.5 702.4h0M115.6 702.4h0M115.7 685.3h0M115.8 692.5h0M115.8 702.6h0M115.7 692.3h0M116.0 702.7h0M116.0 702.6h0M116.1 702.9h0M116.3 692.2h0M116.2 702.8h0M116.4 702.4h0M116.2 702.7h0M116.3 685.6h0M116.4 702.3h0M116.6 702.6h0M116.4 685.9h0M117.0 692.0h0M117.0 685.9h0M116.7 685.7h0M116.9 702.8h0M116.9 692.1h0M117.0 702.4h0M117.0 702.8h0M117.4 702.6h0M117.3 692.2h0M117.4 692.3h0M117.5 702.7h0M117.5 702.5h0M117.6 681.1h0M117.7 702.3h0M117.5 702.0h0M117.6 702.5h0M117.8 702.7h0M117.7 702.6h0M117.9 692.2h0M118.2 702.8h0M118.2 692.4h0M118.3 692.2h0M118.4 729.0h0M118.3 728.9h0M118.3 702.5h0M118.4 702.9h0M118.5 692.3h0M118.5 702.7h0M118.8 692.2h0M118.8 702.1h0M118.6 702.6h0M118.8 692.1h0M119.0 729.1h0M118.9 728.9h0M118.8 685.6h0M119.1 702.7h0M119.3 692.0h0M119.3 692.5h0M119.1 702.4h0M119.4 702.3h0M119.4 692.1h0M119.3 692.3h0M119.6 703.2h0M119.7 692.7h0M119.8 692.1h0M120.0 691.8h0M120.0 692.2h0M120.1 692.4h0M120.0 702.6h0M120.2 702.5h0M120.2 692.1h0M120.3 702.5h0M120.5 729.1h0M120.4 702.2h0M120.7 686.3h0M120.5 702.6h0M120.6 692.5h0M120.6 685.3h0M120.6 685.8h0M120.7 702.4h0M120.9 692.3h0M120.9 702.7h0M120.9 702.7h0M120.9 685.4h0M121.2 692.4h0M121.4 702.7h0M121.2 702.5h0M121.2 692.4h0M121.4 729.1h0M121.4 702.7h0M121.6 691.7h0M121.6 702.4h0M121.6 702.5h0M121.8 702.5h0M122.0 692.6h0M122.0 702.8h0M121.9 702.9h0M121.8 703.2h0M122.1 702.3h0M122.1 702.1h0M122.4 681.2h0M122.3 692.6h0M122.6 691.7h0M122.5 691.9h0M122.7 702.8h0M122.7 691.9h0M122.7 702.1h0M122.8 703.0h0M122.9 685.7h0M122.7 685.6h0M122.8 692.3h0M123.0 702.6h0M123.2 692.5h0M123.0 692.2h0M123.3 702.2h0M123.5 692.7h0M123.4 702.9h0M123.6 692.6h0M123.6 702.3h0M123.5 702.8h0M123.8 685.6h0M123.8 728.9h0M123.9 685.3h0M123.9 702.4h0M123.7 681.0h0M123.9 702.7h0M124.2 692.0h0M124.3 703.0h0M124.3 692.4h0M124.6 691.8h0M124.2 702.9h0M124.4 692.4h0M124.5 692.8h0M124.6 702.1h0M124.4 692.3h0M124.5 692.2h0M124.6 691.7h0M124.9 692.2h0M124.8 702.1h0M124.8 702.4h0M125.0 702.8h0M125.0 685.3h0M125.0 685.6h0M125.2 692.2h0M125.3 702.4h0M125.4 692.0h0M125.3 692.2h0M125.6 692.2h0M125.6 702.6h0M125.4 702.3h0M125.6 691.7h0M125.7 685.8h0M126.2 692.2h0M125.9 677.4h0M125.9 692.1h0M126.0 681.6h0M126.2 703.0h0M126.4 692.4h0M126.3 692.3h0M126.4 729.4h0M126.5 692.3h0M126.4 692.2h0M126.5 685.8h0M126.7 702.9h0M126.7 703.1h0M126.6 685.5h0M127.0 692.7h0M126.8 692.7h0M127.1 702.7h0M127.0 702.4h0M127.1 702.5h0M126.9 702.9h0M127.5 692.4h0M127.1 692.3h0M127.4 692.1h0M127.5 692.6h0M127.5 702.9h0M127.6 691.8h0M127.8 686.1h0M127.7 692.3h0M127.8 702.5h0M127.8 686.3h0M127.9 692.3h0M128.1 702.9h0M128.1 728.9h0M128.0 692.5h0M128.2 702.4h0M128.4 703.0h0M128.0 685.4h0M128.4 692.1h0M128.4 702.2h0M128.5 702.7h0M128.6 702.7h0M128.7 685.7h0M128.5 702.5h0M128.6 702.2h0M128.8 703.1h0M128.8 691.8h0M129.1 693.0h0M129.2 692.7h0M129.0 702.6h0M129.0 702.8h0M129.4 702.6h0M129.2 691.8h0M129.5 685.8h0M129.6 728.9h0M129.6 692.7h0M129.7 692.1h0M129.6 702.1h0M129.7 702.4h0M129.9 728.9h0M130.0 702.9h0M130.1 686.0h0M130.2 692.1h0M130.4 692.3h0M130.2 702.7h0M130.2 702.1h0M130.3 702.3h0M130.3 702.9h0M130.5 703.1h0M130.6 692.3h0M130.4 692.2h0M130.7 703.5h0M131.0 685.2h0M130.6 692.1h0M130.7 686.0h0M131.0 692.2h0M130.9 728.8h0M131.1 702.5h0M131.1 692.8h0M131.1 685.8h0M131.1 692.4h0M131.3 685.8h0M131.5 702.6h0M131.7 692.3h0M131.4 686.0h0M131.9 702.1h0M131.8 685.9h0M131.7 702.3h0M131.8 702.6h0M131.9 703.0h0M132.1 692.4h0M132.0 685.7h0M132.1 702.6h0M132.4 702.5h0M132.2 702.8h0M132.3 692.5h0M132.4 702.2h0M132.4 702.7h0M132.6 702.3h0M132.6 691.9h0M132.7 692.0h0M132.7 702.3h0M132.9 702.3h0M132.9 702.6h0M132.9 686.0h0M133.0 692.1h0M133.1 692.4h0M133.1 685.3h0M133.2 692.6h0M133.2 685.5h0M133.5 702.6h0M133.6 692.3h0M133.6 692.0h0M133.8 692.2h0M133.6 702.7h0M133.6 685.7h0M133.8 702.0h0M133.9 692.4h0M134.0 703.1h0M133.9 702.6h0M134.0 703.0h0M134.3 681.4h0M134.2 692.2h0M134.3 692.1h0M134.4 702.5h0M134.4 692.6h0M134.3 685.0h0M134.4 692.0h0M134.7 691.8h0M134.5 692.5h0M134.9 692.0h0M134.9 692.1h0M135.0 703.2h0M135.0 692.4h0M135.0 702.0h0M135.2 703.2h0M135.2 703.0h0M135.3 702.9h0M135.3 728.9h0M135.4 681.3h0M135.6 692.4h0M135.6 702.4h0M135.4 692.1h0M135.7 692.8h0M135.7 703.0h0M136.1 702.7h0M135.9 681.2h0M136.1 702.7h0M136.2 703.2h0M136.1 702.6h0M136.1 702.6h0M136.1 692.2h0M136.3 681.6h0M136.5 692.4h0M136.5 685.7h0M136.6 703.0h0M136.5 692.2h0M136.6 702.4h0M136.5 692.3h0M136.9 702.2h0M136.7 702.7h0M136.8 702.9h0M136.9 677.0h0M137.0 702.8h0M137.3 702.5h0M137.2 686.1h0M137.3 692.2h0M137.3 702.1h0M137.4 692.3h0M137.6 680.8h0M137.5 680.9h0M137.6 692.5h0M137.7 702.5h0M137.6 729.0h0M137.5 685.8h0M137.7 686.0h0M137.8 692.6h0M138.2 692.1h0M137.8 692.6h0M138.1 702.9h0M138.4 702.4h0M138.5 702.2h0M138.3 692.3h0M138.3 702.7h0M138.6 702.4h0M138.4 702.5h0M138.6 692.2h0M138.8 692.2h0M138.8 702.5h0M138.9 702.7h0M138.9 692.7h0M138.8 692.7h0M139.2 692.3h0M139.0 692.7h0M139.2 702.7h0M139.3 692.1h0M139.4 702.2h0M139.4 692.4h0M139.6 686.3h0M139.5 702.7h0M139.8 686.2h0M139.8 692.3h0M139.8 685.9h0M139.8 702.5h0M139.7 702.4h0M140.1 692.5h0M140.3 702.7h0M140.0 692.6h0M140.2 685.5h0M140.2 692.5h0M140.5 703.0h0M140.2 692.6h0M140.5 685.6h0M140.6 686.0h0M140.5 692.3h0M140.7 685.4h0M140.8 702.5h0M140.9 702.7h0M140.9 692.7h0M141.1 680.9h0M141.1 692.2h0M141.1 729.1h0M141.3 692.1h0M141.1 681.1h0M141.2 729.1h0M141.3 692.2h0M141.3 680.7h0M141.4 685.5h0M141.5 692.0h0M141.7 685.8h0M142.0 685.4h0M141.7 702.5h0M146.3 728.7h0M146.6 729.0h0M146.8 729.0h0M147.1 728.8h0M147.2 702.7h0M147.7 729.0h0M147.8 702.6h0M148.2 728.9h0M148.3 729.0h0M148.7 728.8h0M149.0 729.1h0M149.2 729.2h0M149.5 702.8h0M150.0 702.5h0M150.2 729.0h0M150.7 728.9h0M150.7 692.2h0M151.0 728.9h0M151.2 729.0h0M151.7 729.1h0M151.7 728.8h0M152.3 728.9h0M152.5 729.0h0M152.7 729.0h0M153.1 702.5h0M153.3 692.3h0M153.9 728.9h0M153.8 728.9h0M154.0 729.4h0M154.3 729.3h0M154.8 728.9h0M154.8 729.0h0M155.3 729.1h0M155.5 728.7h0M156.0 729.0h0M156.2 728.7h0M156.5 728.8h0M156.9 729.2h0M157.0 729.2h0M157.1 728.8h0M157.5 728.8h0M157.8 729.1h0M158.3 729.1h0M158.8 702.7h0M158.9 729.1h0M159.1 728.9h0M159.4 728.8h0M159.8 702.6h0M160.0 702.1h0M160.2 702.7h0M160.5 729.3h0M160.7 728.8h0M160.9 728.9h0M161.4 728.6h0M161.8 729.0h0M161.9 729.1h0M162.1 702.3h0M162.6 729.0h0M162.9 702.8h0M163.1 728.7h0M163.4 702.5h0M163.7 729.2h0M163.9 728.9h0M164.2 728.9h0M164.7 728.8h0M164.9 728.8h0M165.3 728.9h0M165.3 729.0h0M165.7 729.0h0M166.1 728.9h0M166.2 702.7h0M166.4 729.2h0M167.0 728.9h0M167.3 702.6h0M167.4 728.9h0M167.6 729.1h0M167.9 728.8h0M168.2 728.9h0M168.5 702.8h0M168.7 729.2h0M169.2 729.0h0M169.3 729.2h0M169.6 729.1h0M170.0 728.9h0M170.2 702.6h0M170.5 729.1h0M170.9 728.8h0M171.1 729.2h0M171.6 702.8h0M171.8 729.1h0M171.8 728.9h0M172.1 728.8h0M172.8 728.9h0M172.9 728.9h0M173.3 729.0h0M173.4 728.9h0M173.9 729.1h0M173.9 702.7h0M174.3 702.5h0M174.6 729.2h0M174.9 728.9h0M179.2 702.4h0M179.3 729.0h0M179.4 702.4h0M179.7 702.4h0M179.7 702.5h0M179.9 729.3h0M180.3 703.0h0M180.4 729.2h0M180.5 728.8h0M180.3 702.4h0M180.6 702.3h0M180.8 703.2h0M181.0 702.0h0M180.9 692.3h0M181.3 702.8h0M181.4 728.9h0M181.3 728.8h0M181.5 729.0h0M181.6 691.9h0M181.6 729.0h0M181.9 702.9h0M182.0 703.4h0M182.3 692.4h0M182.6 702.8h0M182.3 728.9h0M182.5 729.0h0M182.6 728.9h0M182.6 702.6h0M183.1 702.6h0M183.1 702.8h0M183.5 702.5h0M183.5 702.5h0M183.5 702.8h0M183.7 692.4h0M183.8 728.9h0M184.0 729.1h0M184.1 729.0h0M184.3 702.7h0M184.5 692.0h0M184.8 728.9h0M184.7 702.9h0M184.8 729.2h0M185.0 692.4h0M184.6 692.3h0M184.9 728.8h0M185.2 729.0h0M185.2 729.0h0M185.7 702.7h0M185.7 729.0h0M185.7 728.7h0M186.1 728.9h0M186.1 703.5h0M186.1 729.3h0M186.3 729.1h0M186.6 702.3h0M186.7 692.6h0M186.5 692.4h0M186.8 729.0h0M186.9 728.9h0M187.0 702.3h0M187.3 702.4h0M187.5 703.2h0M187.8 729.0h0M187.9 729.3h0M188.1 729.1h0M187.9 692.6h0M188.1 729.1h0M188.2 702.8h0M188.3 692.6h0M188.6 702.5h0M188.6 729.1h0M188.7 702.8h0M189.0 729.1h0M188.9 702.7h0M189.0 729.0h0M189.2 729.1h0M189.5 702.9h0M189.4 729.2h0M189.9 729.0h0M189.8 728.9h0M189.9 702.2h0M190.1 702.4h0M190.1 686.2h0M190.3 728.9h0M190.6 703.2h0M190.5 729.1h0M190.8 702.8h0M190.7 728.9h0M191.1 728.7h0M191.1 729.2h0M191.3 691.9h0M191.3 702.3h0M191.6 728.8h0M191.6 702.4h0M191.8 729.1h0M191.8 728.9h0M192.1 685.8h0M192.4 702.8h0M192.4 728.9h0M192.7 729.0h0M192.9 685.9h0M192.8 702.7h0M193.2 728.8h0M193.0 702.5h0M193.1 729.0h0M193.3 692.3h0M193.7 702.4h0M193.7 702.3h0M193.5 702.2h0M193.8 692.3h0M194.1 729.0h0M194.0 692.0h0M194.3 692.8h0M194.5 702.6h0M194.5 692.0h0M195.0 692.0h0M194.9 692.5h0M194.9 729.0h0M194.8 702.6h0M195.1 702.3h0M195.5 702.2h0M195.4 702.7h0M195.8 729.2h0M195.5 692.6h0M195.8 702.3h0M196.1 702.7h0M196.1 703.3h0M196.3 702.5h0M196.3 702.7h0M196.6 703.0h0M196.5 729.2h0M196.8 702.6h0M196.8 702.1h0M197.1 702.5h0M197.4 728.8h0M197.4 729.0h0M197.3 729.2h0M197.5 702.4h0M197.6 702.7h0M197.9 728.7h0M198.0 728.7h0M198.1 702.7h0M198.3 702.3h0M198.3 702.9h0M198.8 729.2h0M198.9 702.2h0M198.7 703.1h0M198.9 729.1h0M199.0 729.1h0M199.0 729.0h0M199.2 729.1h0M199.3 702.7h0M199.6 702.8h0M199.7 729.0h0M200.0 729.1h0M199.9 702.8h0M200.1 702.4h0M200.2 729.0h0M200.4 692.2h0M200.6 685.5h0M200.6 702.6h0M200.8 729.1h0M200.9 703.1h0M201.3 728.8h0M201.4 729.2h0M201.1 692.4h0M201.4 703.0h0M201.6 702.4h0M201.6 703.1h0M201.9 702.4h0M202.1 729.1h0M201.9 703.0h0M202.4 702.7h0M202.4 702.7h0M202.3 702.9h0M202.8 703.2h0M202.6 702.2h0M202.9 702.1h0M202.9 728.8h0M203.1 729.0h0M203.4 728.8h0M203.5 686.1h0M203.6 702.7h0M203.7 692.0h0M203.8 703.4h0M203.8 729.0h0M204.3 729.0h0M204.3 692.7h0M204.4 702.5h0M204.5 702.8h0M204.5 728.9h0M204.8 703.1h0M205.0 702.8h0M205.0 728.9h0M205.2 729.1h0M205.4 685.5h0M205.5 729.0h0M205.4 685.9h0M205.8 729.0h0M205.9 680.8h0M205.8 702.0h0M206.4 702.6h0M206.3 702.6h0M206.2 685.4h0M206.5 729.0h0M206.5 729.0h0M206.7 692.6h0M206.9 686.2h0M207.1 728.8h0M207.1 702.1h0M207.4 728.9h0M207.5 729.2h0M207.5 729.2h0M207.6 702.6h0M207.8 702.9h0M208.1 729.0h0M208.0 729.0h0M212.3 702.1h0M212.6 729.1h0M212.7 729.0h0M212.9 729.1h0M213.1 702.4h0M213.0 729.0h0M213.2 728.9h0M213.2 702.6h0M213.3 728.8h0M213.7 685.9h0M213.7 728.9h0M213.9 728.9h0M213.5 728.6h0M213.9 729.3h0M214.0 702.7h0M214.0 702.8h0M214.2 729.3h0M214.4 702.4h0M214.4 729.0h0M214.6 692.3h0M214.4 692.1h0M214.9 702.0h0M215.0 692.5h0M214.8 702.9h0M215.1 702.6h0M215.3 729.0h0M215.3 728.9h0M215.5 728.8h0M215.4 702.6h0M215.5 703.1h0M215.6 703.0h0M215.9 703.0h0M215.9 692.4h0M216.0 692.1h0M216.4 702.8h0M216.4 702.5h0M216.4 692.3h0M216.5 729.1h0M216.7 702.5h0M216.7 729.0h0M216.8 702.3h0M217.1 729.2h0M217.3 729.2h0M217.2 728.5h0M217.2 729.0h0M217.4 729.0h0M217.5 729.1h0M217.5 702.8h0M217.7 729.0h0M218.0 729.1h0M218.1 729.0h0M218.0 729.0h0M218.2 728.8h0M218.4 729.0h0M218.4 702.9h0M218.7 729.2h0M218.6 702.6h0M218.6 729.1h0M218.9 702.8h0M218.8 728.8h0M219.2 702.8h0M219.2 692.3h0M219.3 729.0h0M219.4 692.1h0M219.7 692.1h0M219.6 729.0h0M219.5 702.1h0M220.1 685.4h0M219.9 702.5h0M220.1 702.7h0M220.3 692.7h0M220.5 703.0h0M220.3 702.4h0M220.5 729.0h0M220.7 728.8h0M220.6 692.5h0M220.9 728.9h0M221.1 702.4h0M221.2 691.8h0M221.2 729.1h0M221.1 728.9h0M221.4 702.3h0M221.3 703.0h0M221.7 702.3h0M221.9 702.6h0M221.8 728.9h0M221.9 702.8h0M221.9 691.9h0M221.9 702.5h0M222.4 728.9h0M222.1 703.0h0M222.4 702.4h0M222.5 729.0h0M222.7 729.3h0M222.6 728.9h0M223.0 702.3h0M222.8 702.8h0M222.9 702.3h0M223.1 729.1h0M223.3 692.3h0M223.6 729.1h0M223.4 702.4h0M223.6 685.7h0M223.7 728.9h0M224.1 702.8h0M224.0 702.3h0M224.2 702.6h0M224.1 685.1h0M224.3 691.8h0M224.3 692.1h0M224.4 702.9h0M224.7 729.0h0M224.9 729.0h0M225.0 729.1h0M224.8 729.1h0M225.3 729.0h0M225.3 728.9h0M225.4 702.3h0M225.3 703.1h0M225.4 729.1h0M225.7 685.8h0M225.7 702.2h0M225.8 686.3h0M225.9 729.0h0M226.2 728.9h0M226.2 702.5h0M226.2 691.7h0M226.6 692.2h0M226.3 692.3h0M226.6 703.1h0M226.9 729.2h0M226.8 703.0h0M227.0 702.7h0M227.1 692.4h0M227.1 702.4h0M227.2 729.2h0M227.5 728.6h0M227.6 692.3h0M227.6 692.1h0M227.8 729.2h0M227.9 729.1h0M227.8 692.5h0M228.0 681.1h0M228.3 692.0h0M228.2 728.7h0M228.4 691.9h0M228.6 728.9h0M228.8 692.3h0M228.7 702.6h0M228.8 703.0h0M229.0 728.9h0M228.7 702.2h0M229.0 702.8h0M229.4 729.1h0M229.3 728.8h0M229.5 729.2h0M229.6 692.6h0M229.8 728.7h0M229.7 728.8h0M230.1 686.1h0M230.1 728.9h0M230.2 691.6h0M230.3 729.1h0M230.4 674.1h0M230.3 729.0h0M230.7 728.8h0M230.9 686.2h0M230.9 729.0h0M231.0 685.6h0M231.2 728.9h0M231.0 702.8h0M231.2 702.7h0M231.6 703.0h0M231.4 691.8h0M231.4 680.7h0M231.8 703.4h0M231.6 729.1h0M231.8 728.8h0M231.9 729.1h0M232.2 702.5h0M232.2 686.3h0M232.6 729.1h0M232.4 702.6h0M232.6 691.9h0M232.8 728.9h0M232.7 691.9h0M232.9 729.2h0M232.9 702.6h0M233.3 702.5h0M233.1 692.2h0M233.4 656.0h0M233.4 692.6h0M233.5 702.6h0M233.8 703.0h0M233.7 692.2h0M233.9 729.1h0M234.2 702.8h0M233.9 681.1h0M234.1 686.0h0M234.3 702.7h0M234.5 702.8h0M234.3 686.1h0M234.6 691.8h0M234.6 677.0h0M234.9 728.8h0M234.9 692.2h0M234.9 692.4h0M235.3 692.5h0M235.2 680.3h0M235.3 702.7h0M235.7 692.4h0M235.5 666.4h0M235.8 702.7h0M235.9 702.3h0M235.8 691.9h0M236.0 686.2h0M236.0 703.1h0M236.4 692.5h0M236.6 729.2h0M236.3 702.3h0M236.5 702.8h0M236.7 692.7h0M236.6 729.2h0M236.9 702.5h0M237.1 702.5h0M237.2 702.0h0M237.1 681.2h0M237.4 729.1h0M237.5 729.0h0M237.5 677.5h0M237.8 685.7h0M237.8 692.3h0M237.8 670.1h0M238.2 691.9h0M238.1 692.6h0M238.3 702.8h0M238.5 692.4h0M238.4 692.2h0M238.8 702.7h0M238.6 663.3h0M238.9 662.4h0M238.8 656.6h0M239.2 729.1h0M239.1 692.3h0M239.3 685.4h0M239.2 691.9h0M239.5 656.1h0M239.5 691.9h0M239.7 650.3h0M239.7 671.7h0M239.8 651.9h0M240.0 685.6h0M240.2 654.0h0M240.3 703.0h0M240.4 656.7h0M240.5 692.4h0M240.5 660.4h0M240.9 685.7h0M241.0 674.3h0M240.8 666.7h0M241.1 660.6h0M241.3 702.9h0M241.1 677.0h0M241.5 662.0h0M245.9 703.1h0M246.4 691.8h0M246.9 702.0h0M247.5 685.6h0M248.1 692.6h0M248.5 685.8h0M249.0 685.5h0M249.6 667.5h0M250.1 685.7h0M250.6 702.7h0M251.2 680.7h0M251.5 676.9h0M252.3 671.5h0M252.7 677.2h0M253.3 685.8h0M253.9 728.9h0M254.0 702.9h0M254.8 674.4h0M255.5 671.3h0M255.6 692.3h0M256.5 692.0h0M257.0 680.6h0M257.3 677.2h0M257.9 665.9h0M258.7 692.5h0M259.0 686.3h0M259.6 674.5h0M260.2 674.3h0M260.4 681.0h0M261.1 677.3h0M261.7 685.5h0M262.2 692.0h0M262.7 674.2h0M263.2 677.8h0M263.6 680.7h0M264.3 692.4h0M264.7 672.7h0M265.5 673.9h0M266.0 677.6h0M266.6 681.2h0M266.9 680.8h0M267.6 685.6h0M268.2 681.0h0M268.4 674.7h0M269.0 685.6h0M269.6 681.4h0M270.2 686.0h0M270.8 686.1h0M271.2 685.6h0M271.7 685.7h0M272.3 685.6h0M272.6 691.9h0M273.4 703.1h0M273.8 681.3h0M274.2 676.7h0M278.7 702.7h0M278.8 692.3h0M278.9 702.0h0M279.1 702.2h0M279.2 701.8h0M279.3 677.2h0M279.5 702.1h0M279.8 685.7h0M280.0 702.8h0M279.8 685.8h0M279.8 729.1h0M280.0 685.9h0M280.1 686.0h0M279.7 692.3h0M280.3 691.9h0M280.4 692.2h0M280.4 702.4h0M280.6 692.1h0M280.4 728.8h0M280.7 692.7h0M280.9 685.9h0M281.0 677.2h0M281.2 685.6h0M281.0 681.1h0M281.0 702.7h0M281.3 692.3h0M281.4 677.6h0M281.4 686.0h0M281.2 692.2h0M281.6 685.4h0M281.8 703.3h0M281.8 685.7h0M281.9 702.5h0M282.0 677.0h0M282.2 728.9h0M282.2 729.0h0M282.2 681.1h0M282.4 685.1h0M282.4 671.6h0M282.5 702.7h0M282.5 685.7h0M282.8 702.8h0M282.8 692.2h0M282.9 686.4h0M283.0 702.8h0M283.1 729.1h0M283.5 681.0h0M283.3 681.2h0M283.7 673.9h0M283.5 672.4h0M283.7 685.4h0M283.7 685.5h0M283.8 677.6h0M284.0 681.0h0M283.9 680.6h0M284.1 668.8h0M284.3 680.9h0M284.5 680.6h0M284.6 674.3h0M284.3 666.4h0M284.5 680.9h0M285.0 667.6h0M284.8 668.9h0M285.0 677.2h0M285.0 681.1h0M285.1 671.7h0M285.1 674.3h0M285.3 670.9h0M285.2 673.8h0M285.5 663.6h0M285.7 668.2h0M285.9 677.3h0M285.8 703.0h0M285.9 674.3h0M286.0 665.2h0M286.0 677.4h0M286.2 671.4h0M286.1 665.0h0M286.4 676.9h0M286.6 674.3h0M286.4 674.2h0M286.5 676.5h0M286.6 663.5h0M286.6 677.2h0M286.8 660.9h0M287.1 669.1h0M287.1 664.6h0M287.0 665.4h0M287.1 663.7h0M287.3 672.6h0M287.5 671.3h0M287.4 659.6h0M287.5 671.0h0M287.6 672.1h0M287.8 681.0h0M288.1 680.7h0M287.9 667.8h0M288.3 660.6h0M288.3 667.8h0M288.1 667.1h0M288.5 666.1h0M288.6 677.0h0M288.6 668.5h0M288.6 666.6h0M288.8 674.3h0M289.0 663.2h0M288.9 677.5h0M289.1 670.9h0M289.3 662.7h0M289.4 677.6h0M289.4 670.4h0M289.3 661.5h0M289.6 669.2h0M289.5 661.5h0M289.6 662.2h0M289.8 670.3h0M289.9 660.1h0M290.0 666.6h0M290.2 661.2h0M290.1 669.9h0M290.1 657.9h0M290.6 674.0h0M290.5 681.1h0M290.6 681.1h0M290.5 669.1h0M290.8 660.3h0M290.8 664.6h0M290.8 672.7h0M291.0 677.2h0M291.2 681.2h0M291.2 667.6h0M291.5 657.4h0M291.3 666.7h0M291.5 672.1h0M291.7 671.4h0M291.8 663.0h0M291.6 673.9h0M292.0 681.1h0M292.1 655.5h0M292.0 680.8h0M292.1 666.3h0M292.2 663.2h0M292.3 656.1h0M292.3 671.5h0M292.6 665.5h0M292.6 665.1h0M292.7 672.4h0M292.9 668.7h0M293.2 656.0h0M293.0 662.0h0M293.2 676.7h0M293.3 664.3h0M293.3 680.9h0M293.5 677.5h0M293.5 653.4h0M293.6 672.5h0M293.6 670.7h0M293.8 659.6h0M293.9 670.1h0M293.8 665.3h0M294.2 662.0h0M294.3 660.8h0M294.2 681.2h0M294.7 657.1h0M294.6 659.4h0M294.4 680.9h0M294.6 669.4h0M294.9 655.2h0M294.8 678.0h0M295.0 677.3h0M295.1 660.9h0M295.4 658.6h0M295.1 655.9h0M295.4 664.0h0M295.3 654.6h0M295.5 663.8h0M295.7 676.9h0M295.7 672.4h0M295.8 653.9h0M295.9 670.4h0M296.1 681.3h0M296.2 671.4h0M296.1 656.2h0M296.2 676.9h0M296.6 673.9h0M296.3 655.0h0M296.8 656.6h0M296.7 655.1h0M296.8 680.7h0M296.8 666.9h0M297.2 655.1h0M296.9 663.2h0M297.2 657.7h0M297.4 649.9h0M297.5 661.8h0M297.5 669.4h0M297.6 655.4h0M297.6 662.7h0M297.7 681.3h0M298.1 674.3h0M298.0 650.0h0M297.9 653.9h0M298.2 680.9h0M298.4 665.4h0M298.3 677.2h0M298.5 654.5h0M298.6 664.5h0M298.6 670.5h0M298.6 657.9h0M298.8 650.7h0M299.0 657.6h0M298.9 677.2h0M299.3 674.2h0M299.2 681.0h0M299.2 666.4h0M299.4 656.1h0M299.6 663.0h0M299.3 654.2h0M299.5 663.8h0M299.7 660.9h0M299.8 677.1h0M299.8 658.6h0M300.0 648.6h0M300.2 674.2h0M300.2 674.6h0M300.2 649.5h0M300.7 658.3h0M300.6 656.0h0M300.6 676.8h0M300.7 650.9h0M300.8 652.7h0M300.9 669.2h0M301.1 663.2h0M301.1 670.8h0M301.0 670.7h0M301.3 664.3h0M301.3 656.9h0M301.4 649.5h0M301.5 677.4h0M301.7 657.5h0M301.8 677.7h0M301.8 667.3h0M301.9 652.0h0M302.2 663.3h0M302.2 666.5h0M302.1 654.4h0M302.1 644.3h0M302.5 663.5h0M302.5 668.0h0M302.2 647.4h0M302.7 677.6h0M302.8 674.3h0M302.8 658.6h0M303.2 661.6h0M303.2 674.0h0M303.4 663.2h0M303.4 664.6h0M303.1 643.4h0M303.5 644.6h0M303.7 644.8h0M303.6 653.5h0M303.7 648.0h0M303.8 649.6h0M303.8 674.5h0M303.9 674.3h0M304.1 654.0h0M304.2 666.4h0M304.2 645.6h0M304.5 654.1h0M304.7 651.4h0M304.7 646.7h0M304.6 647.1h0M305.0 677.2h0M304.8 649.2h0M305.0 662.0h0M305.0 670.6h0M305.2 659.7h0M305.2 648.3h0M305.3 647.9h0M305.5 653.9h0M305.6 644.7h0M305.6 664.6h0M305.8 649.3h0M305.9 645.7h0M305.9 645.1h0M306.0 677.0h0M305.9 661.7h0M306.3 660.3h0M306.3 677.4h0M306.2 645.3h0M306.3 677.1h0M306.6 657.7h0M306.7 656.5h0M306.7 646.4h0M306.8 658.1h0M307.0 644.8h0M307.0 659.7h0M307.3 653.4h0M307.4 659.5h0M307.2 665.4h0M307.3 646.5h0M307.5 648.9h0M307.6 641.5h0M307.8 643.8h0M312.1 728.8h0M312.4 729.1h0M312.1 692.0h0M312.4 729.0h0M312.6 729.0h0M312.9 702.9h0M312.7 692.4h0M313.0 728.9h0M313.0 702.5h0M313.3 728.7h0M313.2 702.3h0M313.5 702.4h0M313.6 702.6h0M314.0 729.2h0M314.1 729.2h0M314.0 702.7h0M314.0 703.0h0M314.2 728.9h0M314.5 702.8h0M314.7 685.9h0M314.7 702.7h0M314.9 692.3h0M315.2 702.3h0M315.1 729.1h0M315.2 729.0h0M315.3 729.1h0M315.6 728.9h0M315.8 702.8h0M315.7 729.2h0M316.0 729.0h0M316.1 729.2h0M316.5 702.5h0M316.4 692.0h0M316.3 729.0h0M316.7 703.0h0M316.9 728.9h0M317.0 692.1h0M317.0 692.3h0M317.2 691.9h0M317.3 702.6h0M317.5 729.1h0M317.7 692.5h0M317.7 703.0h0M318.1 701.9h0M318.1 702.7h0M318.4 702.7h0M318.5 702.7h0M318.4 702.5h0M318.6 729.3h0M318.7 702.6h0M318.7 729.3h0M319.0 729.1h0M319.1 702.8h0M319.2 729.0h0M319.3 728.9h0M319.8 729.2h0M319.6 680.8h0M319.7 692.4h0M319.8 728.8h0M320.1 685.5h0M320.5 729.1h0M320.3 692.1h0M320.6 692.6h0M320.7 729.0h0M320.6 702.5h0M320.8 702.8h0M321.2 729.1h0M321.2 729.1h0M321.1 729.0h0M321.4 702.2h0M321.6 729.0h0M321.8 729.1h0M321.9 702.5h0M322.0 728.8h0M322.0 729.2h0M322.1 702.9h0M322.6 702.5h0M322.7 728.8h0M322.4 692.6h0M322.8 728.9h0M323.0 729.4h0M322.9 728.9h0M323.2 702.7h0M323.2 729.0h0M323.5 685.5h0M323.6 729.0h0M323.7 702.5h0M324.1 702.2h0M324.1 685.8h0M324.1 680.8h0M324.2 729.0h0M324.6 702.7h0M324.5 702.4h0M324.7 702.4h0M324.8 702.8h0M325.0 729.0h0M325.1 692.6h0M325.4 729.1h0M325.5 729.2h0M325.5 728.8h0M325.8 691.6h0M325.7 685.1h0M326.0 692.6h0M325.9 702.7h0M326.2 729.1h0M326.4 702.6h0M326.5 702.2h0M326.6 692.2h0M327.0 729.1h0M327.0 702.8h0M326.8 702.2h0M327.1 685.6h0M327.5 685.2h0M327.2 729.0h0M327.5 729.2h0M327.9 729.0h0M327.7 685.8h0M327.9 692.2h0M328.0 702.4h0M328.0 702.7h0M328.2 692.1h0M328.6 728.8h0M328.4 729.1h0M328.7 702.3h0M328.9 728.8h0M328.8 702.6h0M329.2 729.2h0M329.4 702.5h0M329.1 674.1h0M329.6 692.1h0M329.4 729.0h0M329.9 680.6h0M329.7 692.6h0M330.0 702.7h0M330.2 729.0h0M330.2 728.8h0M330.1 692.5h0M330.9 692.7h0M331.0 686.7h0M330.9 729.2h0M331.0 702.6h0M331.3 681.1h0M331.4 702.7h0M331.5 680.7h0M331.6 702.9h0M331.8 702.5h0M331.8 702.4h0M331.9 692.6h0M331.8 703.2h0M332.3 692.5h0M332.4 677.0h0M332.6 692.1h0M332.8 703.3h0M332.8 729.1h0M333.1 681.2h0M333.1 703.0h0M333.2 702.7h0M333.3 702.2h0M333.5 659.2h0M333.8 728.8h0M333.7 685.9h0M333.8 729.0h0M334.0 667.1h0M334.1 702.5h0M334.3 692.2h0M334.3 691.8h0M334.6 686.1h0M334.6 702.5h0M334.6 692.7h0M335.0 692.2h0M334.9 729.2h0M335.3 702.6h0M335.4 729.4h0M335.4 666.9h0M335.7 692.4h0M335.8 692.7h0M336.1 692.4h0M336.0 685.1h0M336.3 681.5h0M336.4 685.5h0M336.3 650.1h0M336.5 703.0h0M336.8 702.5h0M336.7 671.7h0M337.1 685.9h0M337.2 692.2h0M337.3 692.2h0M337.4 728.9h0M337.5 676.9h0M337.8 681.2h0M337.9 665.6h0M337.9 668.4h0M338.0 686.0h0M338.3 728.7h0M338.4 674.4h0M338.5 681.6h0M338.7 691.9h0M338.5 653.2h0M338.9 674.4h0M339.0 702.5h0M338.9 681.0h0M339.3 680.9h0M339.3 702.9h0M339.5 680.9h0M339.5 691.9h0M339.9 702.6h0M340.0 681.0h0M340.1 702.9h0M340.4 674.2h0M340.4 654.1h0M340.6 692.8h0M340.7 666.5h0M340.8 728.8h0M340.9 686.0h0M345.3 694.8h0M346.5 682.7h0M347.0 690.3h0M347.8 683.9h0M348.7 689.0h0M349.3 679.6h0M350.4 692.4h0M351.1 679.4h0M352.0 680.4h0M352.7 690.5h0M353.4 684.9h0M354.2 683.5h0M355.0 681.5h0M355.8 698.6h0M356.6 680.2h0M357.1 669.5h0M358.2 682.9h0M358.8 677.5h0M359.9 689.3h0M360.5 669.0h0M361.3 666.2h0M361.9 684.5h0M362.8 670.6h0M363.5 666.8h0M364.4 660.5h0M365.2 689.5h0M366.1 665.3h0M366.9 655.9h0M367.6 665.2h0M368.3 684.9h0M369.3 661.4h0M369.9 691.4h0M370.4 668.8h0M371.6 668.9h0M372.3 672.5h0M372.9 666.4h0M373.8 676.6h0M378.4 702.4h0M378.8 702.7h0M379.0 681.0h0M379.3 692.4h0M379.3 692.2h0M379.6 729.0h0M380.0 702.7h0M379.9 685.9h0M380.3 702.2h0M380.7 685.9h0M380.6 692.3h0M381.0 686.1h0M381.3 686.1h0M381.8 702.8h0M381.6 685.4h0M382.1 729.2h0M382.4 729.2h0M382.5 729.0h0M382.4 703.0h0M383.0 729.1h0M383.1 685.4h0M383.4 693.1h0M383.6 685.6h0M384.0 729.0h0M384.0 692.0h0M384.3 702.8h0M384.4 677.3h0M384.9 685.1h0M384.8 729.5h0M385.1 702.5h0M385.5 729.1h0M385.6 692.0h0M386.1 702.7h0M386.6 680.9h0M386.6 692.5h0M386.6 681.0h0M387.0 702.6h0M387.4 702.6h0M387.6 685.5h0M387.6 692.5h0M387.7 702.8h0M388.1 680.8h0M388.4 702.8h0M388.6 702.9h0M388.6 728.9h0M389.1 686.1h0M389.1 702.5h0M389.5 692.7h0M389.6 702.7h0M390.0 703.0h0M390.0 702.9h0M390.2 685.8h0M390.6 729.2h0M390.8 729.0h0M391.0 692.6h0M391.4 685.4h0M391.4 692.3h0M391.6 677.4h0M391.9 702.8h0M392.1 685.4h0M392.4 702.1h0M392.5 666.0h0M392.9 728.7h0M393.2 692.0h0M393.3 685.7h0M393.7 676.4h0M393.6 692.0h0M394.1 703.1h0M394.3 680.8h0M394.4 729.2h0M394.8 692.4h0M394.9 657.4h0M395.3 676.8h0M395.3 685.6h0M395.6 685.4h0M396.0 692.0h0M396.1 703.1h0M396.4 702.7h0M396.8 728.9h0M396.8 685.7h0M397.1 685.7h0M397.4 685.9h0M397.7 692.1h0M397.8 685.9h0M398.1 702.0h0M398.2 685.7h0M398.7 729.2h0M398.7 702.4h0M399.0 692.2h0M399.3 692.2h0M399.4 677.8h0M399.6 686.2h0M400.1 676.8h0M400.1 681.0h0M400.3 692.4h0M400.8 665.1h0M400.8 676.9h0M401.0 702.3h0M401.3 702.8h0M401.3 663.1h0M401.8 681.0h0M401.9 692.1h0M402.0 692.5h0M402.4 670.5h0M402.4 674.4h0M402.6 686.1h0M403.3 653.9h0M403.4 677.8h0M403.4 670.3h0M403.8 685.9h0M404.1 652.7h0M404.3 685.8h0M404.4 729.0h0M404.9 685.9h0M405.1 674.0h0M405.1 674.1h0M405.4 685.0h0M405.7 670.8h0M406.0 703.1h0M405.9 658.1h0M406.3 729.1h0M406.7 692.1h0M406.7 692.2h0M407.0 659.2h0M407.4 692.9h0M411.8 702.4h0M411.5 702.3h0M411.9 728.8h0M411.7 702.8h0M411.9 729.3h0M412.1 702.2h0M412.3 729.1h0M412.4 729.1h0M412.2 702.6h0M412.3 691.7h0M412.2 686.0h0M412.4 702.5h0M412.3 692.2h0M412.4 692.5h0M412.6 728.9h0M412.8 702.5h0M412.9 728.8h0M412.7 702.3h0M412.7 729.0h0M412.8 692.4h0M413.2 728.9h0M413.1 729.1h0M413.2 685.9h0M413.3 729.0h0M413.5 702.2h0M413.1 702.4h0M413.2 703.0h0M413.3 728.8h0M413.5 728.9h0M413.8 728.8h0M413.7 685.7h0M413.7 685.6h0M413.8 729.0h0M413.9 729.0h0M413.9 702.7h0M414.1 728.8h0M413.9 729.2h0M414.0 728.8h0M414.2 728.8h0M414.4 729.1h0M414.3 729.0h0M414.4 692.2h0M414.5 702.8h0M414.8 677.4h0M414.5 686.1h0M414.6 702.6h0M414.7 729.2h0M414.7 691.7h0M415.0 702.5h0M415.1 729.0h0M415.4 702.4h0M414.9 702.5h0M415.0 692.2h0M415.3 692.5h0M415.4 703.0h0M415.4 702.8h0M415.5 685.7h0M415.5 702.4h0M415.4 692.4h0M415.7 729.0h0M415.9 685.9h0M415.9 692.3h0M416.0 681.2h0M415.7 702.6h0M416.0 681.0h0M416.2 702.2h0M416.4 685.6h0M416.3 692.3h0M416.3 692.4h0M416.3 692.1h0M416.3 728.9h0M416.6 692.7h0M416.6 729.1h0M416.8 692.2h0M416.9 729.0h0M416.8 702.8h0M416.8 729.1h0M416.8 692.2h0M417.0 692.3h0M417.2 702.5h0M417.1 729.2h0M417.5 685.8h0M417.4 685.6h0M417.4 702.6h0M417.7 691.9h0M417.7 728.9h0M417.8 685.9h0M417.6 681.5h0M417.6 692.3h0M417.7 729.1h0M418.0 728.8h0M418.1 692.1h0M417.9 728.9h0M418.1 702.4h0M418.1 702.5h0M418.1 692.0h0M418.4 702.5h0M418.3 702.7h0M418.3 703.3h0M418.6 685.6h0M418.7 685.6h0M418.4 692.4h0M418.5 729.0h0M418.6 702.1h0M418.9 692.4h0M418.9 702.6h0M418.7 702.6h0M419.2 692.4h0M418.9 729.0h0M419.2 685.3h0M419.3 729.2h0M419.3 691.9h0M419.3 702.9h0M419.3 692.0h0M419.4 692.4h0M419.7 692.2h0M419.5 702.2h0M419.6 702.8h0M419.9 729.1h0M419.8 729.2h0M419.9 692.1h0M420.0 685.5h0M420.1 686.3h0M420.0 728.9h0M420.2 686.2h0M420.2 685.5h0M420.4 692.6h0M420.5 702.3h0M420.5 692.3h0M420.5 702.7h0M420.6 692.2h0M420.8 729.3h0M420.6 685.8h0M420.8 702.6h0M420.7 702.4h0M420.8 702.4h0M420.9 692.1h0M421.2 691.9h0M421.3 702.8h0M421.2 702.2h0M421.1 702.6h0M421.2 728.8h0M421.6 692.4h0M421.5 729.0h0M421.7 685.0h0M421.7 702.8h0M421.7 702.4h0M421.7 692.1h0M421.9 703.0h0M421.9 692.2h0M422.1 702.7h0M422.2 692.3h0M422.1 681.2h0M422.4 692.7h0M422.4 692.1h0M422.4 729.2h0M422.6 680.8h0M422.3 702.7h0M422.5 692.2h0M422.6 729.2h0M422.7 692.2h0M422.6 685.8h0M423.0 728.8h0M422.7 691.8h0M423.0 681.2h0M423.1 728.5h0M423.1 692.7h0M423.2 681.1h0M423.2 686.0h0M423.4 692.3h0M423.4 685.7h0M423.6 702.4h0M423.7 692.2h0M423.7 729.1h0M423.7 686.2h0M423.6 702.5h0M423.9 729.1h0M423.8 685.5h0M424.0 692.1h0M424.1 702.5h0M424.0 692.4h0M424.0 692.8h0M424.3 673.9h0M424.3 691.9h0M424.3 677.4h0M424.4 686.0h0M424.4 692.3h0M424.4 692.3h0M424.6 702.8h0M424.6 703.0h0M424.9 680.8h0M424.9 728.9h0M424.9 702.7h0M424.9 691.4h0M425.1 681.0h0M425.3 702.1h0M425.2 702.5h0M425.2 685.8h0M425.3 680.4h0M425.6 702.7h0M425.6 680.9h0M425.6 692.2h0M425.5 692.6h0M425.7 677.1h0M425.8 680.9h0M425.8 729.2h0M425.7 728.9h0M425.9 702.1h0M426.0 686.0h0M425.8 702.5h0M426.2 702.6h0M426.3 729.3h0M426.3 692.8h0M426.2 680.9h0M426.5 681.1h0M426.5 702.8h0M426.6 692.2h0M426.8 670.4h0M426.8 729.1h0M426.8 729.1h0M426.8 702.8h0M427.1 728.8h0M427.0 692.2h0M427.0 680.9h0M427.2 692.2h0M427.1 702.1h0M427.3 702.6h0M427.3 692.1h0M427.4 702.9h0M427.4 702.7h0M427.3 680.9h0M427.4 685.4h0M427.7 702.8h0M427.8 702.6h0M427.6 702.5h0M427.9 702.3h0M428.0 702.4h0M428.2 729.1h0M428.0 702.3h0M428.1 702.3h0M428.1 692.5h0M428.2 692.4h0M428.2 685.6h0M428.6 692.5h0M428.6 692.1h0M428.7 702.2h0M428.6 702.8h0M428.9 691.9h0M428.6 692.4h0M428.7 702.2h0M428.9 686.4h0M428.7 681.3h0M429.0 681.3h0M429.2 702.7h0M429.2 686.1h0M429.2 692.2h0M429.4 691.5h0M429.4 692.3h0M429.4 685.4h0M429.4 692.3h0M429.7 692.7h0M429.8 702.2h0M429.8 702.7h0M429.9 685.3h0M429.8 685.9h0M430.0 692.3h0M430.1 686.0h0M430.2 685.0h0M430.1 685.5h0M430.3 692.4h0M430.2 702.3h0M430.5 702.7h0M430.4 685.3h0M430.6 702.6h0M430.7 692.4h0M430.7 692.8h0M430.7 685.7h0M430.6 702.1h0M430.8 702.3h0M430.8 693.0h0M430.9 686.0h0M431.1 702.8h0M431.0 702.7h0M431.2 692.4h0M431.3 703.2h0M431.4 692.3h0M431.4 702.9h0M431.6 692.2h0M431.6 702.4h0M431.6 681.3h0M431.6 685.8h0M431.6 685.6h0M431.6 685.6h0M431.8 681.5h0M431.7 702.3h0M432.3 674.1h0M432.0 685.3h0M432.4 702.7h0M432.2 692.4h0M432.2 702.3h0M432.4 677.3h0M432.3 681.5h0M432.6 685.4h0M432.8 692.6h0M432.7 702.9h0M432.7 702.6h0M432.8 702.1h0M432.9 729.3h0M432.9 702.8h0M433.1 686.0h0M432.9 681.1h0M433.1 680.7h0M433.2 702.9h0M433.4 692.7h0M433.4 681.4h0M433.5 676.8h0M433.5 702.4h0M433.5 680.9h0M433.4 702.6h0M433.7 728.9h0M433.7 702.9h0M433.7 702.6h0M433.8 702.4h0M433.9 692.4h0M434.0 702.3h0M434.2 702.6h0M433.9 680.5h0M434.2 680.9h0M434.3 678.0h0M434.3 681.0h0M434.5 686.1h0M434.7 685.4h0M434.7 677.2h0M434.5 674.5h0M434.7 685.8h0M434.6 677.0h0M434.9 685.8h0M434.8 685.5h0M435.2 692.1h0M435.0 681.0h0M435.0 685.6h0M435.2 692.0h0M435.3 692.2h0M435.3 677.4h0M435.3 681.0h0M435.5 685.6h0M435.4 702.6h0M435.6 685.0h0M435.7 692.4h0M435.5 685.6h0M435.9 702.7h0M435.7 692.9h0M435.9 692.2h0M436.0 685.6h0M436.2 691.7h0M436.4 680.9h0M436.0 681.1h0M436.4 702.9h0M436.4 680.9h0M436.5 692.5h0M436.5 686.0h0M436.3 686.0h0M436.8 729.0h0M436.4 680.9h0M436.8 728.6h0M436.8 685.4h0M437.0 703.1h0M436.9 692.1h0M437.0 681.5h0M437.2 729.0h0M437.2 702.6h0M437.2 702.6h0M437.6 686.6h0M437.5 685.6h0M437.5 685.3h0M437.5 680.8h0M437.7 681.0h0M437.5 677.5h0M437.6 680.8h0M438.0 692.2h0M437.8 685.6h0M437.8 685.4h0M438.1 691.8h0M438.1 681.2h0M438.3 728.9h0M438.2 691.7h0M438.3 703.3h0M438.3 681.3h0M438.5 691.9h0M438.5 728.7h0M438.8 692.6h0M438.8 680.7h0M438.5 685.3h0M438.8 680.8h0M439.0 729.0h0M439.0 685.8h0M438.8 692.1h0M438.9 692.5h0M439.2 691.8h0M439.2 702.7h0M439.3 685.8h0M439.2 686.0h0M439.3 685.6h0M439.4 677.2h0M439.6 677.9h0M439.6 692.3h0M440.0 692.3h0M439.8 702.7h0M439.9 685.4h0M439.6 702.4h0M440.0 685.9h0M439.8 692.1h0M439.9 685.8h0M439.9 680.9h0M440.1 680.3h0M440.1 686.1h0M440.4 702.6h0M440.3 692.2h0M440.2 692.5h0M440.6 681.5h0M444.9 729.0h0M444.8 692.6h0M445.0 729.2h0M445.1 686.0h0M445.2 702.6h0M445.4 681.3h0M445.1 702.8h0M445.3 692.2h0M445.4 692.4h0M445.5 685.2h0M445.3 692.1h0M445.7 692.7h0M445.7 680.5h0M445.7 702.5h0M445.9 703.1h0M446.2 680.9h0M445.9 702.6h0M446.1 685.9h0M445.9 677.3h0M446.4 692.4h0M446.4 702.5h0M446.4 692.1h0M446.1 702.3h0M446.4 681.4h0M446.6 729.1h0M446.5 686.1h0M446.5 677.4h0M446.7 680.8h0M446.6 702.6h0M447.0 729.3h0M446.9 680.9h0M446.8 692.1h0M447.0 686.1h0M447.3 703.1h0M447.1 702.7h0M447.3 685.9h0M447.5 685.9h0M447.3 702.0h0M447.7 692.1h0M447.7 729.1h0M447.9 686.2h0M447.7 685.8h0M447.8 680.9h0M447.8 681.6h0M447.9 692.7h0M448.1 680.7h0M448.2 729.0h0M448.2 702.1h0M448.5 702.6h0M448.0 685.7h0M448.4 702.0h0M448.5 702.2h0M448.3 680.8h0M448.5 686.0h0M448.5 677.6h0M448.7 703.0h0M448.7 686.1h0M449.0 680.8h0M449.1 728.8h0M449.0 692.3h0M449.3 692.0h0M449.1 702.4h0M449.2 670.9h0M449.0 728.9h0M449.2 692.3h0M449.4 703.0h0M449.5 685.8h0M449.6 670.9h0M449.5 692.4h0M449.7 692.0h0M449.8 729.1h0M449.9 702.5h0M449.7 692.1h0M449.9 674.1h0M450.2 681.6h0M450.0 685.5h0M450.3 692.4h0M450.2 703.0h0M450.2 692.2h0M450.3 692.2h0M450.4 692.0h0M450.4 686.3h0M450.6 686.1h0M450.5 729.0h0M450.8 702.5h0M450.9 677.3h0M451.0 685.6h0M450.8 702.5h0M451.1 729.0h0M450.9 681.1h0M451.1 692.1h0M451.5 685.9h0M451.3 691.9h0M451.4 702.7h0M451.5 681.3h0M451.2 677.6h0M451.7 676.8h0M451.3 729.3h0M451.6 676.9h0M452.0 680.9h0M451.7 702.2h0M451.9 680.6h0M452.2 702.7h0M452.1 692.2h0M452.2 692.0h0M452.2 680.9h0M452.2 692.1h0M452.1 692.3h0M452.4 685.8h0M452.3 692.1h0M452.4 701.9h0M452.6 685.4h0M452.6 692.3h0M452.7 685.1h0M452.5 691.6h0M453.0 676.9h0M453.1 692.0h0M452.9 685.7h0M453.1 692.7h0M452.8 691.7h0M453.2 693.0h0M453.4 685.7h0M453.2 681.1h0M453.5 677.1h0M453.4 728.9h0M453.5 680.8h0M453.5 702.3h0M453.5 691.7h0M453.9 685.9h0M453.9 677.7h0M453.9 702.5h0M453.8 702.3h0M454.1 686.1h0M454.2 672.1h0M454.3 677.1h0M454.3 692.4h0M454.3 729.1h0M454.2 685.8h0M454.5 685.7h0M454.4 685.9h0M454.9 692.8h0M454.6 685.7h0M454.7 674.3h0M454.8 729.1h0M454.9 702.3h0M455.1 703.2h0M455.0 692.2h0M455.1 681.1h0M455.1 728.9h0M455.5 685.6h0M455.1 702.0h0M455.4 702.5h0M455.4 692.0h0M455.4 692.0h0M455.8 693.0h0M455.5 680.5h0M455.7 681.4h0M456.1 677.6h0M455.7 729.1h0M456.0 669.0h0M455.8 702.6h0M456.1 702.6h0M456.1 680.8h0M456.1 674.4h0M456.3 692.8h0M456.3 692.2h0M456.3 702.9h0M456.7 691.8h0M456.6 677.0h0M456.7 685.5h0M456.6 685.6h0M456.9 685.9h0M456.8 680.8h0M457.2 674.3h0M456.9 702.1h0M457.2 685.4h0M457.0 685.4h0M457.2 728.8h0M457.0 702.6h0M457.3 677.3h0M457.5 677.7h0M457.4 681.2h0M457.3 728.7h0M457.6 692.4h0M457.4 702.6h0M457.8 681.2h0M457.7 692.0h0M457.7 685.8h0M458.0 686.1h0M458.1 692.1h0M457.9 729.1h0M458.0 681.0h0M458.1 692.1h0M458.2 674.8h0M458.3 692.5h0M458.3 685.3h0M458.7 685.7h0M458.5 691.8h0M458.6 692.3h0M458.7 692.7h0M459.0 680.9h0M458.8 680.6h0M459.0 680.8h0M458.9 692.5h0M459.2 685.7h0M459.0 702.2h0M459.2 692.3h0M459.2 685.9h0M459.2 685.6h0M459.4 677.4h0M459.4 677.5h0M459.6 692.5h0M459.6 676.9h0M459.6 692.2h0M459.8 680.9h0M459.9 681.6h0M459.8 703.3h0M460.1 691.8h0M460.1 681.1h0M460.1 692.1h0M460.3 692.5h0M460.4 674.2h0M460.3 685.3h0M460.4 672.5h0M460.5 702.5h0M460.5 672.5h0M460.7 669.4h0M460.8 676.9h0M460.7 692.0h0M460.8 692.6h0M460.8 677.4h0M460.9 702.5h0M460.9 671.1h0M460.9 681.0h0M461.4 685.8h0M461.3 702.3h0M461.3 692.5h0M461.3 685.4h0M461.6 692.4h0M461.4 685.8h0M461.6 702.9h0M461.6 676.9h0M461.5 692.4h0M461.7 685.8h0M462.0 681.2h0M462.0 680.6h0M462.0 685.6h0M462.0 692.5h0M462.2 692.3h0M462.2 702.8h0M462.4 685.9h0M462.3 680.9h0M462.4 729.0h0M462.6 681.4h0M462.5 672.1h0M462.8 728.9h0M462.8 685.3h0M462.9 685.8h0M462.6 702.6h0M462.9 692.3h0M462.9 691.6h0M462.9 702.4h0M463.2 685.4h0M463.3 677.4h0M463.3 702.4h0M463.2 677.1h0M463.2 677.5h0M463.5 674.4h0M463.6 729.1h0M463.4 692.5h0M463.6 692.9h0M463.6 677.4h0M463.8 685.6h0M463.9 677.2h0M464.1 685.5h0M464.0 685.6h0M464.0 692.3h0M464.2 681.2h0M464.3 692.5h0M464.3 681.4h0M464.4 680.8h0M464.4 677.2h0M464.3 692.3h0M464.6 680.7h0M464.9 692.1h0M464.5 702.9h0M464.7 680.9h0M464.9 685.8h0M464.8 685.6h0M464.9 681.0h0M465.1 729.1h0M465.3 680.5h0M465.3 674.2h0M465.4 692.0h0M465.4 692.4h0M465.4 692.5h0M465.3 685.5h0M465.6 692.2h0M465.6 677.5h0M465.6 674.2h0M465.7 680.6h0M465.9 702.1h0M465.9 680.7h0M466.0 685.7h0M466.1 692.1h0M466.1 674.1h0M466.1 729.2h0M466.2 681.1h0M466.4 692.2h0M466.5 681.1h0M466.6 692.5h0M466.6 685.9h0M466.6 680.8h0M466.6 677.3h0M466.8 692.0h0M466.7 676.5h0M466.9 702.1h0M466.9 702.5h0M467.0 681.4h0M467.2 691.9h0M467.1 680.8h0M467.4 673.8h0M467.2 692.3h0M467.3 729.0h0M467.5 692.3h0M467.7 685.6h0M467.7 702.9h0M467.6 685.8h0M467.7 686.0h0M467.8 677.4h0M467.9 685.4h0M467.7 681.1h0M467.8 692.4h0M468.1 685.4h0M468.2 692.4h0M468.2 692.3h0M468.4 680.9h0M468.4 702.6h0M468.6 692.5h0M468.6 729.1h0M468.6 680.9h0M468.6 703.1h0M468.4 673.7h0M468.8 681.1h0M468.9 676.7h0M468.9 702.9h0M469.0 702.7h0M468.9 671.2h0M469.0 685.0h0M469.0 685.8h0M469.2 681.2h0M469.3 681.2h0M469.3 681.5h0M469.4 692.6h0M469.5 681.5h0M469.5 692.6h0M469.5 692.1h0M469.6 692.4h0M469.7 692.1h0M469.8 674.2h0M469.9 702.6h0M470.0 676.9h0M470.0 702.1h0M470.4 728.8h0M470.2 692.2h0M470.2 728.9h0M470.5 666.3h0M470.4 685.9h0M470.5 677.3h0M470.6 677.3h0M470.6 677.4h0M470.6 692.5h0M470.7 677.4h0M470.7 692.3h0M470.6 692.3h0M471.1 681.3h0M471.0 692.1h0M471.2 692.4h0M471.2 681.5h0M471.3 692.1h0M471.5 671.3h0M471.3 674.0h0M471.4 692.2h0M471.5 676.9h0M471.6 729.0h0M471.8 702.5h0M471.7 702.4h0M471.9 703.0h0M471.9 702.3h0M471.8 666.6h0M472.1 685.9h0M472.2 685.7h0M472.2 692.4h0M472.1 686.5h0M472.2 692.0h0M472.2 692.4h0M472.8 685.9h0M472.2 686.0h0M472.5 685.8h0M472.6 686.2h0M472.8 681.2h0M472.8 677.0h0M472.8 680.8h0M472.9 677.5h0M473.0 674.7h0M473.1 685.6h0M473.0 674.0h0M473.1 702.8h0M473.3 691.5h0M473.4 729.1h0M473.7 677.3h0M473.4 681.4h0M473.6 692.6h0M473.8 685.3h0M473.9 681.4h0M473.7 671.4h0M477.9 703.2h0M477.9 701.9h0M478.4 702.9h0M478.4 702.8h0M478.6 702.7h0M478.6 702.6h0M478.8 702.7h0M478.9 702.4h0M478.7 728.9h0M479.0 702.8h0M479.3 728.8h0M479.3 728.9h0M479.5 728.8h0M479.7 702.7h0M479.7 702.5h0M479.8 681.6h0M479.7 686.3h0M479.8 729.0h0M480.0 702.6h0M480.2 692.5h0M480.2 686.3h0M480.6 703.0h0M480.6 703.2h0M480.7 685.4h0M480.8 692.2h0M481.1 702.7h0M481.1 729.2h0M481.0 692.2h0M481.3 692.1h0M481.3 692.0h0M481.4 685.2h0M481.6 685.9h0M481.6 728.8h0M481.8 728.8h0M481.9 681.1h0M482.1 702.4h0M482.1 702.7h0M482.2 702.7h0M482.5 703.0h0M482.4 702.5h0M482.6 729.0h0M482.5 685.8h0M482.9 702.7h0M483.0 702.5h0M483.3 729.0h0M483.1 702.8h0M483.0 728.8h0M483.4 691.9h0M483.6 692.3h0M483.6 702.8h0M483.9 702.5h0M483.8 672.6h0M483.9 677.8h0M484.1 702.9h0M484.2 702.2h0M484.1 692.2h0M484.3 692.8h0M484.4 702.9h0M484.5 692.1h0M484.6 702.8h0M484.9 729.1h0M484.8 729.0h0M485.2 702.4h0M485.1 728.9h0M485.2 728.8h0M485.4 692.1h0M485.5 702.7h0M485.8 692.6h0M485.7 685.6h0M485.9 685.7h0M486.0 692.0h0M486.4 729.1h0M486.3 692.5h0M486.3 728.9h0M486.3 692.3h0M486.6 729.1h0M486.5 729.0h0M486.8 692.3h0M487.1 729.2h0M487.2 692.4h0M487.2 680.6h0M487.2 685.7h0M487.4 702.6h0M487.6 685.8h0M487.8 702.6h0M487.6 702.7h0M487.9 702.5h0M487.8 691.7h0M488.2 702.9h0M488.1 729.0h0M488.1 674.3h0M488.4 692.5h0M488.4 728.9h0M488.5 728.9h0M488.6 702.4h0M488.6 702.8h0M489.0 729.1h0M489.0 692.2h0M489.2 703.0h0M489.4 703.0h0M489.1 692.4h0M489.3 686.0h0M489.6 692.3h0M489.9 692.0h0M489.8 702.5h0M489.8 703.0h0M490.0 691.9h0M490.1 686.4h0M490.4 702.7h0M490.4 702.5h0M490.5 685.4h0M490.7 692.0h0M490.8 703.0h0M490.8 692.2h0M490.8 667.5h0M491.2 680.7h0M491.2 702.5h0M491.2 702.1h0M491.4 692.0h0M491.7 729.1h0M491.6 729.0h0M492.0 702.7h0M491.7 692.6h0M492.0 729.0h0M492.0 671.0h0M492.0 692.9h0M492.5 692.9h0M492.5 692.5h0M492.6 692.5h0M492.6 686.1h0M492.7 677.3h0M492.9 677.2h0M493.0 729.3h0M493.3 677.9h0M493.3 692.2h0M493.4 666.4h0M493.4 692.4h0M493.7 703.1h0M493.5 659.9h0M493.9 685.8h0M493.9 729.1h0M494.3 674.5h0M493.9 692.1h0M494.1 692.1h0M494.3 685.8h0M494.5 680.7h0M494.6 692.4h0M494.7 673.9h0M494.7 692.6h0M495.2 692.4h0M495.0 692.5h0M495.1 680.6h0M495.2 728.9h0M495.4 703.0h0M495.6 702.3h0M495.8 703.1h0M495.7 728.9h0M495.8 680.7h0M495.8 692.4h0M496.0 674.4h0M496.2 671.0h0M496.4 692.3h0M496.7 677.4h0M496.8 692.7h0M496.7 702.3h0M496.8 667.9h0M497.1 666.7h0M497.0 664.8h0M497.0 669.2h0M497.1 702.6h0M497.2 676.9h0M497.6 671.2h0M497.5 691.8h0M497.7 728.7h0M497.7 667.8h0M497.8 692.7h0M497.7 729.0h0M498.3 672.5h0M498.4 685.3h0M498.6 685.6h0M498.6 702.5h0M498.5 691.8h0M498.6 702.5h0M498.9 729.1h0M498.9 729.2h0M499.1 669.3h0M498.9 729.1h0M499.1 702.9h0M499.2 680.9h0M499.5 674.2h0M499.6 677.6h0M499.7 669.6h0M499.9 671.3h0M499.7 692.7h0M500.0 684.8h0M500.2 702.2h0M500.2 677.7h0M500.4 691.6h0M500.5 674.2h0M500.6 702.7h0M500.6 702.6h0M500.8 685.4h0M501.0 648.1h0M501.0 674.0h0M501.3 692.1h0M501.3 702.9h0M501.4 728.8h0M501.7 666.6h0M501.9 670.3h0M501.7 653.5h0M501.7 692.5h0M501.8 665.6h0M502.3 702.8h0M502.1 668.0h0M502.4 729.0h0M502.4 664.0h0M502.4 692.1h0M502.7 729.0h0M503.0 668.8h0M502.9 729.1h0M503.0 692.0h0M503.2 691.9h0M503.0 692.1h0M503.5 674.8h0M503.3 668.0h0M503.5 692.1h0M503.6 652.0h0M503.8 668.5h0M503.8 666.3h0M503.9 729.0h0M504.2 702.9h0M504.3 692.3h0M504.2 668.6h0M504.3 729.0h0M504.5 662.6h0M504.7 665.2h0M504.8 703.2h0M505.1 665.3h0M505.0 666.1h0M505.2 692.1h0M505.3 703.1h0M505.1 661.8h0M505.4 686.1h0M505.5 668.1h0M505.6 661.5h0M505.7 649.0h0M505.8 661.7h0M506.0 657.1h0M506.2 663.2h0M506.3 663.0h0M506.3 681.1h0M506.6 665.5h0M506.6 651.0h0M506.8 660.1h0M506.8 660.5h0M507.0 674.6h0" stroke="#d2231c" stroke-width="1.55" stroke-linecap="round" fill="none" opacity="1"/>
<path d="M413.0 686.5h0M421.8 686.5h0M424.3 686.5h0M436.5 686.5h0M432.8 686.5h0M412.7 686.5h0M428.9 686.5h0M422.3 686.5h0M422.7 686.5h0M426.6 686.5h0M422.7 686.5h0M437.1 686.5h0M431.1 686.5h0M437.4 686.5h0M432.4 686.5h0M433.0 686.5h0M435.2 686.5h0M423.9 686.5h0M438.6 686.5h0M428.7 686.5h0M441.0 686.5h0M428.0 686.5h0M433.1 686.5h0M430.3 686.5h0M422.5 686.5h0M437.2 686.5h0M433.2 686.5h0M434.1 686.5h0M431.3 686.5h0M421.8 686.5h0M416.7 686.5h0M429.6 686.5h0M425.9 686.5h0M425.2 686.5h0M439.9 686.5h0M434.1 686.5h0M413.2 686.5h0M414.3 686.5h0M421.0 686.5h0M433.3 686.5h0M429.1 686.5h0M426.4 686.5h0M437.9 686.5h0M429.0 686.5h0M432.9 686.5h0M423.6 686.5h0M414.9 686.5h0M424.5 686.5h0M424.9 686.5h0M413.9 686.5h0M438.7 686.5h0M418.2 686.5h0M415.6 686.5h0M422.1 686.5h0M436.9 686.5h0M411.7 686.5h0M413.3 686.5h0M433.6 686.5h0M417.5 686.5h0M426.2 686.5h0M438.2 686.5h0M415.4 686.5h0M428.9 686.5h0M429.8 686.5h0M429.8 686.5h0M425.2 686.5h0M432.6 686.5h0M424.4 686.5h0M418.6 686.5h0M425.1 686.5h0M414.4 693.2h0M415.1 693.2h0M418.7 693.2h0M423.4 693.2h0M414.8 693.2h0M420.1 693.2h0M420.3 693.2h0M414.1 693.2h0M419.1 693.2h0M423.5 693.2h0M422.5 693.2h0M415.1 693.2h0M422.2 693.2h0M421.3 693.2h0M413.1 693.2h0M420.2 693.2h0M419.1 693.2h0M417.0 693.2h0M417.0 693.2h0M419.8 693.2h0M412.1 693.2h0M416.7 693.2h0M414.5 693.2h0M414.5 693.2h0M419.5 693.2h0M448.0 686.5h0M445.7 686.5h0M447.9 686.5h0M449.7 686.5h0M447.6 686.5h0M445.0 686.5h0M446.8 686.5h0M449.7 686.5h0" stroke="#22228a" stroke-width="1.0" stroke-linecap="round" fill="none" opacity="1"/>
<line x1="48.5" y1="657.9" x2="71.1" y2="657.9" stroke="#a8a8a8" stroke-width="1.1"/>
<line x1="81.83" y1="652" x2="104.43" y2="652" stroke="#a8a8a8" stroke-width="1.1"/>
<line x1="115.16" y1="642.3" x2="137.76" y2="642.3" stroke="#a8a8a8" stroke-width="1.1"/>
<line x1="148.49" y1="635.6" x2="171.09" y2="635.6" stroke="#a8a8a8" stroke-width="1.1"/>
<line x1="181.82" y1="633.4" x2="204.42" y2="633.4" stroke="#a8a8a8" stroke-width="1.1"/>
<line x1="215.15" y1="632.5" x2="237.75" y2="632.5" stroke="#a8a8a8" stroke-width="1.1"/>
<line x1="248.48" y1="631.9" x2="271.08" y2="631.9" stroke="#a8a8a8" stroke-width="1.1"/>
<line x1="281.81" y1="625.1" x2="304.41" y2="625.1" stroke="#a8a8a8" stroke-width="1.1"/>
<line x1="315.14" y1="618.4" x2="337.74" y2="618.4" stroke="#a8a8a8" stroke-width="1.1"/>
<line x1="348.47" y1="612" x2="371.07" y2="612" stroke="#a8a8a8" stroke-width="1.1"/>
<line x1="381.8" y1="611.25" x2="404.4" y2="611.25" stroke="#a8a8a8" stroke-width="1.1"/>
<line x1="415.13" y1="610.8" x2="437.73" y2="610.8" stroke="#a8a8a8" stroke-width="1.1"/>
<line x1="448.46" y1="608.4" x2="471.06" y2="608.4" stroke="#a8a8a8" stroke-width="1.1"/>
<line x1="481.79" y1="599.6" x2="504.39" y2="599.6" stroke="#a8a8a8" stroke-width="1.1"/>
<circle cx="78.8" cy="755.2" r="1.5" fill="#000"/>
<text x="83.9" y="758.2" font-size="8.6" fill="#222" textLength="68.1" lengthAdjust="spacingAndGlyphs">Coding mutations</text>
<circle cx="202.7" cy="755.2" r="1.5" fill="#1f1f8a"/>
<text x="208.2" y="758.2" font-size="8.6" fill="#222" textLength="92.2" lengthAdjust="spacingAndGlyphs">Clonal coding mutations</text>
<circle cx="353.5" cy="755.2" r="1.5" fill="#cc2222"/>
<text x="358.8" y="758.2" font-size="8.6" fill="#222" textLength="105.7" lengthAdjust="spacingAndGlyphs">Significantly mutated genes</text>
<rect x="0" y="0" width="1.2" height="768" fill="#000"/>
<rect x="0" y="0" width="520" height="1.3" fill="#000"/>
<rect x="518.7" y="0" width="1.3" height="768" fill="#000"/>
<rect x="0" y="766.7" width="520" height="1.3" fill="#000"/>
</svg></body></html>
